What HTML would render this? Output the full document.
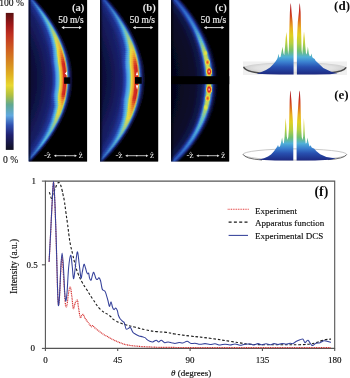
<!DOCTYPE html>
<html><head><meta charset="utf-8"><style>
html,body{margin:0;padding:0;background:#fff;width:350px;height:378px;overflow:hidden}
svg{display:block;font-family:"Liberation Serif",serif}
</style></head><body><svg width="350" height="378" viewBox="0 0 350 378"><defs><clipPath id="cpa"><rect x="28.6" y="0" width="58.50" height="161.5"/></clipPath><linearGradient id="ga0" gradientUnits="userSpaceOnUse" x1="-50.0" x2="10.0"><stop offset="0.1883" stop-color="#0a0c2c"/><stop offset="0.4033" stop-color="#0e1241"/><stop offset="0.6040" stop-color="#131959"/><stop offset="0.7172" stop-color="#192373"/><stop offset="0.7602" stop-color="#1e3695"/><stop offset="0.7817" stop-color="#2547a9"/><stop offset="0.7892" stop-color="#2951b1"/><stop offset="0.7952" stop-color="#2c56b5"/><stop offset="0.8009" stop-color="#2c56b5"/><stop offset="0.8054" stop-color="#2a52b1"/><stop offset="0.8098" stop-color="#274cad"/><stop offset="0.8143" stop-color="#2547a5"/><stop offset="0.8187" stop-color="#203e9d"/><stop offset="0.8290" stop-color="#192d84"/><stop offset="0.8548" stop-color="#0a0d36"/><stop offset="0.8907" stop-color="#000"/></linearGradient><linearGradient id="ga1" gradientUnits="userSpaceOnUse" x1="-50.0" x2="10.0"><stop offset="0.1883" stop-color="#0a0c2d"/><stop offset="0.4033" stop-color="#0e1242"/><stop offset="0.6040" stop-color="#141a5b"/><stop offset="0.7153" stop-color="#1a2577"/><stop offset="0.7583" stop-color="#203c9b"/><stop offset="0.7798" stop-color="#2851b0"/><stop offset="0.7877" stop-color="#2e5db8"/><stop offset="0.7941" stop-color="#3163bc"/><stop offset="0.7998" stop-color="#3163bc"/><stop offset="0.8044" stop-color="#2f5fb8"/><stop offset="0.8091" stop-color="#2b57b4"/><stop offset="0.8137" stop-color="#2851ac"/><stop offset="0.8183" stop-color="#2346a4"/><stop offset="0.8290" stop-color="#1b3189"/><stop offset="0.8548" stop-color="#0b0e38"/><stop offset="0.8907" stop-color="#000"/></linearGradient><linearGradient id="ga2" gradientUnits="userSpaceOnUse" x1="-50.0" x2="10.0"><stop offset="0.1883" stop-color="#0a0c2d"/><stop offset="0.4033" stop-color="#0f1344"/><stop offset="0.6040" stop-color="#141a5c"/><stop offset="0.7134" stop-color="#1a277c"/><stop offset="0.7564" stop-color="#2241a2"/><stop offset="0.7779" stop-color="#2c5ab7"/><stop offset="0.7861" stop-color="#326abf"/><stop offset="0.7929" stop-color="#3771c2"/><stop offset="0.7986" stop-color="#3771c2"/><stop offset="0.8035" stop-color="#336bbf"/><stop offset="0.8083" stop-color="#3063bb"/><stop offset="0.8131" stop-color="#2c5ab4"/><stop offset="0.8179" stop-color="#254eab"/><stop offset="0.8290" stop-color="#1c358f"/><stop offset="0.8548" stop-color="#0b0e3a"/><stop offset="0.8907" stop-color="#000"/></linearGradient><linearGradient id="ga3" gradientUnits="userSpaceOnUse" x1="-50.0" x2="10.0"><stop offset="0.1883" stop-color="#0a0c2e"/><stop offset="0.4033" stop-color="#0f1345"/><stop offset="0.6040" stop-color="#141b5e"/><stop offset="0.7115" stop-color="#1b2980"/><stop offset="0.7545" stop-color="#2447a8"/><stop offset="0.7760" stop-color="#2f64be"/><stop offset="0.7846" stop-color="#3776c6"/><stop offset="0.7918" stop-color="#3c7ec9"/><stop offset="0.7975" stop-color="#3c7ec9"/><stop offset="0.8025" stop-color="#3878c6"/><stop offset="0.8075" stop-color="#346ec2"/><stop offset="0.8125" stop-color="#2f64bb"/><stop offset="0.8176" stop-color="#2856b2"/><stop offset="0.8290" stop-color="#1e3994"/><stop offset="0.8548" stop-color="#0c0f3c"/><stop offset="0.8907" stop-color="#000"/></linearGradient><linearGradient id="ga4" gradientUnits="userSpaceOnUse" x1="-50.0" x2="10.0"><stop offset="0.1883" stop-color="#0a0c2f"/><stop offset="0.4033" stop-color="#0f1346"/><stop offset="0.6040" stop-color="#151c60"/><stop offset="0.7096" stop-color="#1c2b84"/><stop offset="0.7526" stop-color="#264dae"/><stop offset="0.7741" stop-color="#326ec5"/><stop offset="0.7831" stop-color="#3c82cd"/><stop offset="0.7906" stop-color="#418bd0"/><stop offset="0.7964" stop-color="#418bd0"/><stop offset="0.8016" stop-color="#3d85cd"/><stop offset="0.8068" stop-color="#3879c9"/><stop offset="0.8120" stop-color="#326ec2"/><stop offset="0.8172" stop-color="#2b5eb9"/><stop offset="0.8290" stop-color="#203d99"/><stop offset="0.8548" stop-color="#0d103e"/><stop offset="0.8907" stop-color="#000"/></linearGradient><linearGradient id="ga5" gradientUnits="userSpaceOnUse" x1="-50.0" x2="10.0"><stop offset="0.1883" stop-color="#0a0c2f"/><stop offset="0.4033" stop-color="#101448"/><stop offset="0.6040" stop-color="#161c61"/><stop offset="0.7077" stop-color="#1c2d89"/><stop offset="0.7507" stop-color="#2852b5"/><stop offset="0.7722" stop-color="#3677cc"/><stop offset="0.7815" stop-color="#408fd4"/><stop offset="0.7895" stop-color="#4799d6"/><stop offset="0.7952" stop-color="#4799d6"/><stop offset="0.8006" stop-color="#4191d4"/><stop offset="0.8060" stop-color="#3d85d0"/><stop offset="0.8114" stop-color="#3677ca"/><stop offset="0.8168" stop-color="#2d66c0"/><stop offset="0.8290" stop-color="#21419f"/><stop offset="0.8548" stop-color="#0d1040"/><stop offset="0.8907" stop-color="#000"/></linearGradient><linearGradient id="ga6" gradientUnits="userSpaceOnUse" x1="-50.0" x2="10.0"><stop offset="0.1883" stop-color="#0a0c30"/><stop offset="0.4033" stop-color="#101449"/><stop offset="0.6040" stop-color="#161d63"/><stop offset="0.7058" stop-color="#1d2f8d"/><stop offset="0.7488" stop-color="#2a58bb"/><stop offset="0.7703" stop-color="#3981d3"/><stop offset="0.7800" stop-color="#459bdb"/><stop offset="0.7883" stop-color="#4ca6dd"/><stop offset="0.7941" stop-color="#4ca6dd"/><stop offset="0.7996" stop-color="#469edb"/><stop offset="0.8052" stop-color="#4190d7"/><stop offset="0.8108" stop-color="#3981d1"/><stop offset="0.8164" stop-color="#306ec7"/><stop offset="0.8290" stop-color="#2345a4"/><stop offset="0.8548" stop-color="#0e1142"/><stop offset="0.8907" stop-color="#000"/></linearGradient><linearGradient id="ga7" gradientUnits="userSpaceOnUse" x1="-50.0" x2="10.0"><stop offset="0.1883" stop-color="#0a0c31"/><stop offset="0.4033" stop-color="#10144a"/><stop offset="0.6040" stop-color="#171e64"/><stop offset="0.7035" stop-color="#1e308f"/><stop offset="0.7455" stop-color="#2b5bbd"/><stop offset="0.7670" stop-color="#3b86d5"/><stop offset="0.7774" stop-color="#489fdc"/><stop offset="0.7866" stop-color="#51aad9"/><stop offset="0.7929" stop-color="#53abd5"/><stop offset="0.7989" stop-color="#4ea4d4"/><stop offset="0.8047" stop-color="#4897d3"/><stop offset="0.8104" stop-color="#3d88d0"/><stop offset="0.8162" stop-color="#3373c9"/><stop offset="0.8290" stop-color="#2448a7"/><stop offset="0.8548" stop-color="#0e1143"/><stop offset="0.8907" stop-color="#000"/></linearGradient><linearGradient id="ga8" gradientUnits="userSpaceOnUse" x1="-50.0" x2="10.0"><stop offset="0.1883" stop-color="#0b0d31"/><stop offset="0.4033" stop-color="#11154a"/><stop offset="0.6040" stop-color="#171e66"/><stop offset="0.7013" stop-color="#1e3291"/><stop offset="0.7422" stop-color="#2c5fc0"/><stop offset="0.7637" stop-color="#3d8bd7"/><stop offset="0.7748" stop-color="#4aa3dd"/><stop offset="0.7848" stop-color="#56afd5"/><stop offset="0.7918" stop-color="#5bb0ce"/><stop offset="0.7982" stop-color="#57aacc"/><stop offset="0.8043" stop-color="#4e9ece"/><stop offset="0.8099" stop-color="#428ed0"/><stop offset="0.8159" stop-color="#3679cb"/><stop offset="0.8290" stop-color="#264aaa"/><stop offset="0.8548" stop-color="#0f1244"/><stop offset="0.8907" stop-color="#000"/></linearGradient><linearGradient id="ga9" gradientUnits="userSpaceOnUse" x1="-50.0" x2="10.0"><stop offset="0.1883" stop-color="#0b0d32"/><stop offset="0.4033" stop-color="#11154b"/><stop offset="0.6040" stop-color="#181f67"/><stop offset="0.6990" stop-color="#1f3393"/><stop offset="0.7389" stop-color="#2d62c2"/><stop offset="0.7604" stop-color="#3f90d9"/><stop offset="0.7722" stop-color="#4da7de"/><stop offset="0.7830" stop-color="#5bb3d1"/><stop offset="0.7906" stop-color="#62b5c6"/><stop offset="0.7975" stop-color="#5fb0c5"/><stop offset="0.8038" stop-color="#55a5ca"/><stop offset="0.8094" stop-color="#4695cf"/><stop offset="0.8157" stop-color="#397ecd"/><stop offset="0.8290" stop-color="#274dad"/><stop offset="0.8548" stop-color="#0f1245"/><stop offset="0.8907" stop-color="#000"/></linearGradient><linearGradient id="ga10" gradientUnits="userSpaceOnUse" x1="-50.0" x2="10.0"><stop offset="0.1883" stop-color="#0b0d32"/><stop offset="0.4033" stop-color="#11154c"/><stop offset="0.6040" stop-color="#182068"/><stop offset="0.6968" stop-color="#203496"/><stop offset="0.7357" stop-color="#2d66c5"/><stop offset="0.7572" stop-color="#4295da"/><stop offset="0.7695" stop-color="#50acdf"/><stop offset="0.7813" stop-color="#61b7cc"/><stop offset="0.7895" stop-color="#6ab9bf"/><stop offset="0.7968" stop-color="#67b6be"/><stop offset="0.8033" stop-color="#5cabc5"/><stop offset="0.8089" stop-color="#4b9cce"/><stop offset="0.8154" stop-color="#3b84ce"/><stop offset="0.8290" stop-color="#2850af"/><stop offset="0.8548" stop-color="#0f1345"/><stop offset="0.8907" stop-color="#000"/></linearGradient><linearGradient id="ga11" gradientUnits="userSpaceOnUse" x1="-50.0" x2="10.0"><stop offset="0.1883" stop-color="#0b0d33"/><stop offset="0.4033" stop-color="#11154d"/><stop offset="0.6040" stop-color="#192169"/><stop offset="0.6945" stop-color="#213598"/><stop offset="0.7324" stop-color="#2e69c7"/><stop offset="0.7539" stop-color="#449adc"/><stop offset="0.7669" stop-color="#53b0e0"/><stop offset="0.7795" stop-color="#66bbc8"/><stop offset="0.7883" stop-color="#71beb7"/><stop offset="0.7961" stop-color="#6fbcb7"/><stop offset="0.8028" stop-color="#63b2c1"/><stop offset="0.8085" stop-color="#4fa3cd"/><stop offset="0.8152" stop-color="#3e89d0"/><stop offset="0.8290" stop-color="#2953b2"/><stop offset="0.8548" stop-color="#0f1346"/><stop offset="0.8907" stop-color="#000"/></linearGradient><linearGradient id="ga12" gradientUnits="userSpaceOnUse" x1="-50.0" x2="10.0"><stop offset="0.1883" stop-color="#0c0e33"/><stop offset="0.4033" stop-color="#12164d"/><stop offset="0.6040" stop-color="#19216b"/><stop offset="0.6923" stop-color="#21379a"/><stop offset="0.7291" stop-color="#2f6dca"/><stop offset="0.7506" stop-color="#469fde"/><stop offset="0.7643" stop-color="#55b4e1"/><stop offset="0.7778" stop-color="#6bc0c4"/><stop offset="0.7872" stop-color="#79c3b0"/><stop offset="0.7954" stop-color="#78c2af"/><stop offset="0.8023" stop-color="#69b9bc"/><stop offset="0.8080" stop-color="#54a9cd"/><stop offset="0.8149" stop-color="#418fd2"/><stop offset="0.8290" stop-color="#2b55b5"/><stop offset="0.8548" stop-color="#101447"/><stop offset="0.8907" stop-color="#000"/></linearGradient><linearGradient id="ga13" gradientUnits="userSpaceOnUse" x1="-50.0" x2="10.0"><stop offset="0.1883" stop-color="#0c0e34"/><stop offset="0.4033" stop-color="#12164e"/><stop offset="0.6040" stop-color="#1a226c"/><stop offset="0.6900" stop-color="#22389c"/><stop offset="0.7258" stop-color="#3070cc"/><stop offset="0.7473" stop-color="#48a4e0"/><stop offset="0.7617" stop-color="#58b8e2"/><stop offset="0.7760" stop-color="#70c4c0"/><stop offset="0.7860" stop-color="#80c8a8"/><stop offset="0.7946" stop-color="#80c8a8"/><stop offset="0.8018" stop-color="#70c0b8"/><stop offset="0.8075" stop-color="#58b0cc"/><stop offset="0.8147" stop-color="#4494d4"/><stop offset="0.8290" stop-color="#2c58b8"/><stop offset="0.8548" stop-color="#101448"/><stop offset="0.8907" stop-color="#000"/></linearGradient><linearGradient id="ga14" gradientUnits="userSpaceOnUse" x1="-50.0" x2="10.0"><stop offset="0.1883" stop-color="#0c0e34"/><stop offset="0.4033" stop-color="#12164e"/><stop offset="0.6002" stop-color="#1a226d"/><stop offset="0.6862" stop-color="#22399e"/><stop offset="0.7211" stop-color="#3173ce"/><stop offset="0.7429" stop-color="#4aa7e1"/><stop offset="0.7578" stop-color="#5ebbd9"/><stop offset="0.7722" stop-color="#7ec7b0"/><stop offset="0.7837" stop-color="#8ecb9a"/><stop offset="0.7931" stop-color="#8ec99a"/><stop offset="0.8007" stop-color="#7fc2a8"/><stop offset="0.8068" stop-color="#67b4ba"/><stop offset="0.8143" stop-color="#4c9acb"/><stop offset="0.8290" stop-color="#2d59b9"/><stop offset="0.8550" stop-color="#101449"/><stop offset="0.8910" stop-color="#000"/></linearGradient><linearGradient id="ga15" gradientUnits="userSpaceOnUse" x1="-50.0" x2="10.0"><stop offset="0.1883" stop-color="#0b0d33"/><stop offset="0.4033" stop-color="#12164f"/><stop offset="0.5964" stop-color="#1a226e"/><stop offset="0.6824" stop-color="#233a9f"/><stop offset="0.7163" stop-color="#3375cf"/><stop offset="0.7385" stop-color="#4ca9e2"/><stop offset="0.7540" stop-color="#65bdd0"/><stop offset="0.7684" stop-color="#8ccaa0"/><stop offset="0.7814" stop-color="#9ccd8c"/><stop offset="0.7916" stop-color="#9cca8c"/><stop offset="0.7995" stop-color="#8ec498"/><stop offset="0.8060" stop-color="#76b9a9"/><stop offset="0.8139" stop-color="#54a0c2"/><stop offset="0.8290" stop-color="#2d5aba"/><stop offset="0.8552" stop-color="#11154a"/><stop offset="0.8914" stop-color="#000"/></linearGradient><linearGradient id="ga16" gradientUnits="userSpaceOnUse" x1="-50.0" x2="10.0"><stop offset="0.1883" stop-color="#0b0d32"/><stop offset="0.4033" stop-color="#12164f"/><stop offset="0.5925" stop-color="#1a226e"/><stop offset="0.6785" stop-color="#233ba1"/><stop offset="0.7115" stop-color="#3478d1"/><stop offset="0.7341" stop-color="#4eace2"/><stop offset="0.7502" stop-color="#6bc0c8"/><stop offset="0.7645" stop-color="#9ace90"/><stop offset="0.7792" stop-color="#aad07e"/><stop offset="0.7900" stop-color="#aacb7e"/><stop offset="0.7984" stop-color="#9dc688"/><stop offset="0.8052" stop-color="#85bd97"/><stop offset="0.8136" stop-color="#5ca6b9"/><stop offset="0.8290" stop-color="#2e5bbb"/><stop offset="0.8554" stop-color="#11154b"/><stop offset="0.8918" stop-color="#000"/></linearGradient><linearGradient id="ga17" gradientUnits="userSpaceOnUse" x1="-50.0" x2="10.0"><stop offset="0.1883" stop-color="#0b0d32"/><stop offset="0.4033" stop-color="#12164f"/><stop offset="0.5887" stop-color="#1a226f"/><stop offset="0.6747" stop-color="#233ca3"/><stop offset="0.7067" stop-color="#357bd3"/><stop offset="0.7298" stop-color="#51afe3"/><stop offset="0.7464" stop-color="#71c3bf"/><stop offset="0.7607" stop-color="#a7d180"/><stop offset="0.7769" stop-color="#b7d371"/><stop offset="0.7885" stop-color="#b7cc71"/><stop offset="0.7972" stop-color="#acc978"/><stop offset="0.8045" stop-color="#94c185"/><stop offset="0.8132" stop-color="#64abb0"/><stop offset="0.8290" stop-color="#2e5cbc"/><stop offset="0.8556" stop-color="#11154c"/><stop offset="0.8922" stop-color="#000"/></linearGradient><linearGradient id="ga18" gradientUnits="userSpaceOnUse" x1="-50.0" x2="10.0"><stop offset="0.1883" stop-color="#0a0c32"/><stop offset="0.4033" stop-color="#121650"/><stop offset="0.5849" stop-color="#1a2270"/><stop offset="0.6709" stop-color="#243da4"/><stop offset="0.7019" stop-color="#377dd4"/><stop offset="0.7254" stop-color="#53b1e4"/><stop offset="0.7426" stop-color="#78c5b6"/><stop offset="0.7569" stop-color="#b5d470"/><stop offset="0.7746" stop-color="#c5d563"/><stop offset="0.7870" stop-color="#c5cd63"/><stop offset="0.7961" stop-color="#bbcb68"/><stop offset="0.8037" stop-color="#a3c674"/><stop offset="0.8128" stop-color="#6cb1a7"/><stop offset="0.8290" stop-color="#2e5dbd"/><stop offset="0.8558" stop-color="#12164d"/><stop offset="0.8926" stop-color="#000"/></linearGradient><linearGradient id="ga19" gradientUnits="userSpaceOnUse" x1="-50.0" x2="10.0"><stop offset="0.1883" stop-color="#0a0c31"/><stop offset="0.4033" stop-color="#121650"/><stop offset="0.5811" stop-color="#1a2271"/><stop offset="0.6671" stop-color="#243ea6"/><stop offset="0.6972" stop-color="#3880d6"/><stop offset="0.7210" stop-color="#55b4e5"/><stop offset="0.7387" stop-color="#7ec8ad"/><stop offset="0.7531" stop-color="#c3d760"/><stop offset="0.7723" stop-color="#d3d855"/><stop offset="0.7855" stop-color="#d3ce55"/><stop offset="0.7949" stop-color="#cacd58"/><stop offset="0.8029" stop-color="#b2ca62"/><stop offset="0.8124" stop-color="#74b79e"/><stop offset="0.8290" stop-color="#2f5ebe"/><stop offset="0.8560" stop-color="#12164e"/><stop offset="0.8930" stop-color="#000"/></linearGradient><linearGradient id="ga20" gradientUnits="userSpaceOnUse" x1="-50.0" x2="10.0"><stop offset="0.1883" stop-color="#0a0c31"/><stop offset="0.4033" stop-color="#121650"/><stop offset="0.5785" stop-color="#1a2271"/><stop offset="0.6616" stop-color="#243fa7"/><stop offset="0.6914" stop-color="#3982d7"/><stop offset="0.7158" stop-color="#56b5e5"/><stop offset="0.7336" stop-color="#80c9aa"/><stop offset="0.7479" stop-color="#c9d85a"/><stop offset="0.7687" stop-color="#d8d54f"/><stop offset="0.7829" stop-color="#d8c84f"/><stop offset="0.7936" stop-color="#cfc651"/><stop offset="0.8026" stop-color="#baca5c"/><stop offset="0.8126" stop-color="#76b99d"/><stop offset="0.8290" stop-color="#2f5ebe"/><stop offset="0.8563" stop-color="#12164f"/><stop offset="0.8935" stop-color="#000"/></linearGradient><linearGradient id="ga21" gradientUnits="userSpaceOnUse" x1="-50.0" x2="10.0"><stop offset="0.1883" stop-color="#0a0c31"/><stop offset="0.4033" stop-color="#121650"/><stop offset="0.5759" stop-color="#1a2271"/><stop offset="0.6562" stop-color="#2440a8"/><stop offset="0.6857" stop-color="#3b84d8"/><stop offset="0.7106" stop-color="#56b6e5"/><stop offset="0.7284" stop-color="#82caa8"/><stop offset="0.7427" stop-color="#cfda55"/><stop offset="0.7652" stop-color="#ddd249"/><stop offset="0.7802" stop-color="#ddc249"/><stop offset="0.7922" stop-color="#d4c04a"/><stop offset="0.8022" stop-color="#c1c956"/><stop offset="0.8128" stop-color="#79bb9c"/><stop offset="0.8290" stop-color="#2f5fbf"/><stop offset="0.8567" stop-color="#121650"/><stop offset="0.8940" stop-color="#000"/></linearGradient><linearGradient id="ga22" gradientUnits="userSpaceOnUse" x1="-50.0" x2="10.0"><stop offset="0.1883" stop-color="#0a0c30"/><stop offset="0.4033" stop-color="#121650"/><stop offset="0.5733" stop-color="#1a2272"/><stop offset="0.6507" stop-color="#2540aa"/><stop offset="0.6800" stop-color="#3c86d8"/><stop offset="0.7054" stop-color="#57b6e6"/><stop offset="0.7233" stop-color="#84caa5"/><stop offset="0.7376" stop-color="#d4db4f"/><stop offset="0.7616" stop-color="#e2d044"/><stop offset="0.7776" stop-color="#e2bc44"/><stop offset="0.7909" stop-color="#dab942"/><stop offset="0.8018" stop-color="#c9c950"/><stop offset="0.8129" stop-color="#7bbc9a"/><stop offset="0.8290" stop-color="#305fbf"/><stop offset="0.8570" stop-color="#131750"/><stop offset="0.8946" stop-color="#000"/></linearGradient><linearGradient id="ga23" gradientUnits="userSpaceOnUse" x1="-50.0" x2="10.0"><stop offset="0.1883" stop-color="#0a0c30"/><stop offset="0.4033" stop-color="#121650"/><stop offset="0.5707" stop-color="#1a2272"/><stop offset="0.6453" stop-color="#2541ab"/><stop offset="0.6742" stop-color="#3e88d9"/><stop offset="0.7002" stop-color="#57b7e6"/><stop offset="0.7181" stop-color="#86cba3"/><stop offset="0.7324" stop-color="#dadd4a"/><stop offset="0.7581" stop-color="#e7cd3e"/><stop offset="0.7750" stop-color="#e7b63e"/><stop offset="0.7895" stop-color="#dfb33b"/><stop offset="0.8015" stop-color="#d0c84a"/><stop offset="0.8131" stop-color="#7ebe99"/><stop offset="0.8290" stop-color="#3060c0"/><stop offset="0.8574" stop-color="#131751"/><stop offset="0.8951" stop-color="#000"/></linearGradient><linearGradient id="ga24" gradientUnits="userSpaceOnUse" x1="-50.0" x2="10.0"><stop offset="0.1883" stop-color="#0a0c30"/><stop offset="0.4033" stop-color="#121650"/><stop offset="0.5682" stop-color="#1a2272"/><stop offset="0.6398" stop-color="#2542ac"/><stop offset="0.6685" stop-color="#3f8ada"/><stop offset="0.6950" stop-color="#58b8e6"/><stop offset="0.7129" stop-color="#88cca0"/><stop offset="0.7273" stop-color="#e0de44"/><stop offset="0.7545" stop-color="#ecca38"/><stop offset="0.7724" stop-color="#ecb038"/><stop offset="0.7882" stop-color="#e4ac34"/><stop offset="0.8011" stop-color="#d8c844"/><stop offset="0.8133" stop-color="#80c098"/><stop offset="0.8290" stop-color="#3060c0"/><stop offset="0.8577" stop-color="#131752"/><stop offset="0.8957" stop-color="#000"/></linearGradient><linearGradient id="ga25" gradientUnits="userSpaceOnUse" x1="-50.0" x2="10.0"><stop offset="0.1883" stop-color="#0a0c30"/><stop offset="0.4033" stop-color="#121650"/><stop offset="0.5653" stop-color="#1a2272"/><stop offset="0.6328" stop-color="#2643ae"/><stop offset="0.6615" stop-color="#408cdb"/><stop offset="0.6886" stop-color="#58b8e6"/><stop offset="0.7064" stop-color="#88cca1"/><stop offset="0.7210" stop-color="#e2de43"/><stop offset="0.7498" stop-color="#edc336"/><stop offset="0.7687" stop-color="#eba135"/><stop offset="0.7869" stop-color="#e29c30"/><stop offset="0.8009" stop-color="#dcc342"/><stop offset="0.8137" stop-color="#7ebe9c"/><stop offset="0.8294" stop-color="#305ebe"/><stop offset="0.8583" stop-color="#131752"/><stop offset="0.8968" stop-color="#000"/></linearGradient><linearGradient id="ga26" gradientUnits="userSpaceOnUse" x1="-50.0" x2="10.0"><stop offset="0.1883" stop-color="#0a0c30"/><stop offset="0.4033" stop-color="#121650"/><stop offset="0.5624" stop-color="#1a2272"/><stop offset="0.6259" stop-color="#2644af"/><stop offset="0.6545" stop-color="#428edc"/><stop offset="0.6821" stop-color="#58b8e6"/><stop offset="0.6999" stop-color="#87cca2"/><stop offset="0.7147" stop-color="#e4df42"/><stop offset="0.7452" stop-color="#eebc34"/><stop offset="0.7649" stop-color="#ea9232"/><stop offset="0.7857" stop-color="#e18b2d"/><stop offset="0.8007" stop-color="#e0be41"/><stop offset="0.8142" stop-color="#7bbca0"/><stop offset="0.8297" stop-color="#2f5cbc"/><stop offset="0.8588" stop-color="#141852"/><stop offset="0.8978" stop-color="#000"/></linearGradient><linearGradient id="ga27" gradientUnits="userSpaceOnUse" x1="-50.0" x2="10.0"><stop offset="0.1883" stop-color="#0a0c30"/><stop offset="0.4033" stop-color="#121650"/><stop offset="0.5596" stop-color="#1a2272"/><stop offset="0.6189" stop-color="#2644b0"/><stop offset="0.6475" stop-color="#4490dc"/><stop offset="0.6757" stop-color="#58b8e7"/><stop offset="0.6934" stop-color="#86cba4"/><stop offset="0.7083" stop-color="#e6e041"/><stop offset="0.7405" stop-color="#efb632"/><stop offset="0.7611" stop-color="#ea822e"/><stop offset="0.7844" stop-color="#e07a2a"/><stop offset="0.8005" stop-color="#e4b940"/><stop offset="0.8147" stop-color="#78bba3"/><stop offset="0.8300" stop-color="#2e5bbb"/><stop offset="0.8594" stop-color="#141853"/><stop offset="0.8989" stop-color="#000"/></linearGradient><linearGradient id="ga28" gradientUnits="userSpaceOnUse" x1="-50.0" x2="10.0"><stop offset="0.1883" stop-color="#0a0c30"/><stop offset="0.4033" stop-color="#121650"/><stop offset="0.5567" stop-color="#1a2272"/><stop offset="0.6119" stop-color="#2745b2"/><stop offset="0.6405" stop-color="#4592dd"/><stop offset="0.6692" stop-color="#58b8e7"/><stop offset="0.6868" stop-color="#86cba5"/><stop offset="0.7020" stop-color="#e8e040"/><stop offset="0.7359" stop-color="#f0af30"/><stop offset="0.7574" stop-color="#e9732b"/><stop offset="0.7832" stop-color="#de6a26"/><stop offset="0.8004" stop-color="#e8b43e"/><stop offset="0.8151" stop-color="#76b9a7"/><stop offset="0.8303" stop-color="#2e59b9"/><stop offset="0.8600" stop-color="#141853"/><stop offset="0.9000" stop-color="#000"/></linearGradient><linearGradient id="ga29" gradientUnits="userSpaceOnUse" x1="-50.0" x2="10.0"><stop offset="0.1883" stop-color="#0a0c30"/><stop offset="0.4033" stop-color="#121650"/><stop offset="0.5538" stop-color="#1a2272"/><stop offset="0.6076" stop-color="#2746b4"/><stop offset="0.6362" stop-color="#4694de"/><stop offset="0.6649" stop-color="#58b8e7"/><stop offset="0.6828" stop-color="#84caa8"/><stop offset="0.6986" stop-color="#e8e040"/><stop offset="0.7330" stop-color="#f0a930"/><stop offset="0.7545" stop-color="#e46028"/><stop offset="0.7832" stop-color="#d85624"/><stop offset="0.8004" stop-color="#e8ac3c"/><stop offset="0.8154" stop-color="#70b4ac"/><stop offset="0.8312" stop-color="#2c54b4"/><stop offset="0.8606" stop-color="#141852"/><stop offset="0.9014" stop-color="#000"/></linearGradient><linearGradient id="ga30" gradientUnits="userSpaceOnUse" x1="-50.0" x2="10.0"><stop offset="0.1883" stop-color="#0a0c30"/><stop offset="0.4033" stop-color="#121650"/><stop offset="0.5510" stop-color="#1a2272"/><stop offset="0.6033" stop-color="#2847b5"/><stop offset="0.6320" stop-color="#4795df"/><stop offset="0.6606" stop-color="#58b8e8"/><stop offset="0.6788" stop-color="#83c9ab"/><stop offset="0.6952" stop-color="#e8e040"/><stop offset="0.7301" stop-color="#f0a330"/><stop offset="0.7516" stop-color="#df4d25"/><stop offset="0.7832" stop-color="#d14223"/><stop offset="0.8004" stop-color="#e8a43b"/><stop offset="0.8157" stop-color="#69afb1"/><stop offset="0.8320" stop-color="#2b4faf"/><stop offset="0.8611" stop-color="#141851"/><stop offset="0.9029" stop-color="#000"/></linearGradient><linearGradient id="ga31" gradientUnits="userSpaceOnUse" x1="-50.0" x2="10.0"><stop offset="0.1883" stop-color="#0a0c30"/><stop offset="0.4033" stop-color="#121650"/><stop offset="0.5481" stop-color="#1a2272"/><stop offset="0.5990" stop-color="#2848b7"/><stop offset="0.6276" stop-color="#4897e0"/><stop offset="0.6563" stop-color="#58b8e8"/><stop offset="0.6748" stop-color="#81c8ae"/><stop offset="0.6917" stop-color="#e8e040"/><stop offset="0.7273" stop-color="#f09d30"/><stop offset="0.7488" stop-color="#da3a22"/><stop offset="0.7832" stop-color="#cb2e21"/><stop offset="0.8004" stop-color="#e89c39"/><stop offset="0.8160" stop-color="#63aab6"/><stop offset="0.8329" stop-color="#294aaa"/><stop offset="0.8617" stop-color="#141850"/><stop offset="0.9043" stop-color="#000"/></linearGradient><linearGradient id="ga32" gradientUnits="userSpaceOnUse" x1="-50.0" x2="10.0"><stop offset="0.1883" stop-color="#0a0c30"/><stop offset="0.4033" stop-color="#121650"/><stop offset="0.5467" stop-color="#1a2272"/><stop offset="0.5968" stop-color="#2848b8"/><stop offset="0.6255" stop-color="#4898e0"/><stop offset="0.6542" stop-color="#58b8e8"/><stop offset="0.6728" stop-color="#80c8b0"/><stop offset="0.6900" stop-color="#e8e040"/><stop offset="0.7258" stop-color="#f09a30"/><stop offset="0.7473" stop-color="#d83020"/><stop offset="0.7832" stop-color="#c82420"/><stop offset="0.8004" stop-color="#e89838"/><stop offset="0.8161" stop-color="#60a8b8"/><stop offset="0.8333" stop-color="#2848a8"/><stop offset="0.8620" stop-color="#141850"/><stop offset="0.9050" stop-color="#000"/></linearGradient><linearGradient id="ga33" gradientUnits="userSpaceOnUse" x1="-50.0" x2="10.0"><stop offset="0.1883" stop-color="#0a0c30"/><stop offset="0.4033" stop-color="#121650"/><stop offset="0.5467" stop-color="#1a2272"/><stop offset="0.5968" stop-color="#2848b8"/><stop offset="0.6255" stop-color="#4898e0"/><stop offset="0.6542" stop-color="#58b8e8"/><stop offset="0.6728" stop-color="#80c8b0"/><stop offset="0.6900" stop-color="#e8e040"/><stop offset="0.7258" stop-color="#f09a30"/><stop offset="0.7473" stop-color="#d83020"/><stop offset="0.7832" stop-color="#c82420"/><stop offset="0.8004" stop-color="#e89838"/><stop offset="0.8161" stop-color="#60a8b8"/><stop offset="0.8333" stop-color="#2848a8"/><stop offset="0.8620" stop-color="#141850"/><stop offset="0.9050" stop-color="#000"/></linearGradient><linearGradient id="ga34" gradientUnits="userSpaceOnUse" x1="-50.0" x2="10.0"><stop offset="0.1883" stop-color="#0a0c30"/><stop offset="0.4033" stop-color="#121650"/><stop offset="0.5467" stop-color="#1a2272"/><stop offset="0.5968" stop-color="#2848b8"/><stop offset="0.6255" stop-color="#4898e0"/><stop offset="0.6542" stop-color="#58b8e8"/><stop offset="0.6728" stop-color="#80c8b0"/><stop offset="0.6900" stop-color="#e8e040"/><stop offset="0.7258" stop-color="#f09a30"/><stop offset="0.7473" stop-color="#d83020"/><stop offset="0.7832" stop-color="#c82420"/><stop offset="0.8004" stop-color="#e89838"/><stop offset="0.8161" stop-color="#60a8b8"/><stop offset="0.8333" stop-color="#2848a8"/><stop offset="0.8620" stop-color="#141850"/><stop offset="0.9050" stop-color="#000"/></linearGradient><linearGradient id="ga35" gradientUnits="userSpaceOnUse" x1="-50.0" x2="10.0"><stop offset="0.1883" stop-color="#0a0c30"/><stop offset="0.4033" stop-color="#121650"/><stop offset="0.5467" stop-color="#1a2272"/><stop offset="0.5968" stop-color="#2848b8"/><stop offset="0.6255" stop-color="#4898e0"/><stop offset="0.6542" stop-color="#58b8e8"/><stop offset="0.6728" stop-color="#80c8b0"/><stop offset="0.6900" stop-color="#e8e040"/><stop offset="0.7258" stop-color="#f09a30"/><stop offset="0.7473" stop-color="#d83020"/><stop offset="0.7832" stop-color="#c82420"/><stop offset="0.8004" stop-color="#e89838"/><stop offset="0.8161" stop-color="#60a8b8"/><stop offset="0.8333" stop-color="#2848a8"/><stop offset="0.8620" stop-color="#141850"/><stop offset="0.9050" stop-color="#000"/></linearGradient><linearGradient id="ga36" gradientUnits="userSpaceOnUse" x1="-50.0" x2="10.0"><stop offset="0.1883" stop-color="#0a0c30"/><stop offset="0.4033" stop-color="#121650"/><stop offset="0.5467" stop-color="#1a2272"/><stop offset="0.5968" stop-color="#2848b8"/><stop offset="0.6255" stop-color="#4898e0"/><stop offset="0.6542" stop-color="#58b8e8"/><stop offset="0.6728" stop-color="#80c8b0"/><stop offset="0.6900" stop-color="#e8e040"/><stop offset="0.7258" stop-color="#f09a30"/><stop offset="0.7473" stop-color="#d83020"/><stop offset="0.7832" stop-color="#c82420"/><stop offset="0.8004" stop-color="#e89838"/><stop offset="0.8161" stop-color="#60a8b8"/><stop offset="0.8333" stop-color="#2848a8"/><stop offset="0.8620" stop-color="#141850"/><stop offset="0.9050" stop-color="#000"/></linearGradient><linearGradient id="ga37" gradientUnits="userSpaceOnUse" x1="-50.0" x2="10.0"><stop offset="0.1883" stop-color="#0a0c30"/><stop offset="0.4033" stop-color="#121650"/><stop offset="0.5467" stop-color="#1a2272"/><stop offset="0.5968" stop-color="#2848b8"/><stop offset="0.6255" stop-color="#4898e0"/><stop offset="0.6542" stop-color="#58b8e8"/><stop offset="0.6728" stop-color="#80c8b0"/><stop offset="0.6900" stop-color="#e8e040"/><stop offset="0.7258" stop-color="#f09a30"/><stop offset="0.7473" stop-color="#d83020"/><stop offset="0.7832" stop-color="#c82420"/><stop offset="0.8004" stop-color="#e89838"/><stop offset="0.8161" stop-color="#60a8b8"/><stop offset="0.8333" stop-color="#2848a8"/><stop offset="0.8620" stop-color="#141850"/><stop offset="0.9050" stop-color="#000"/></linearGradient><linearGradient id="ga38" gradientUnits="userSpaceOnUse" x1="-50.0" x2="10.0"><stop offset="0.1883" stop-color="#0a0c30"/><stop offset="0.4033" stop-color="#121650"/><stop offset="0.5467" stop-color="#1a2272"/><stop offset="0.5968" stop-color="#2848b8"/><stop offset="0.6255" stop-color="#4898e0"/><stop offset="0.6542" stop-color="#58b8e8"/><stop offset="0.6728" stop-color="#80c8b0"/><stop offset="0.6900" stop-color="#e8e040"/><stop offset="0.7258" stop-color="#f09a30"/><stop offset="0.7473" stop-color="#d83020"/><stop offset="0.7832" stop-color="#c82420"/><stop offset="0.8004" stop-color="#e89838"/><stop offset="0.8161" stop-color="#60a8b8"/><stop offset="0.8333" stop-color="#2848a8"/><stop offset="0.8620" stop-color="#141850"/><stop offset="0.9050" stop-color="#000"/></linearGradient><linearGradient id="ga39" gradientUnits="userSpaceOnUse" x1="-50.0" x2="10.0"><stop offset="0.1883" stop-color="#0a0c30"/><stop offset="0.4033" stop-color="#121650"/><stop offset="0.5467" stop-color="#1a2272"/><stop offset="0.5968" stop-color="#2848b8"/><stop offset="0.6255" stop-color="#4898e0"/><stop offset="0.6542" stop-color="#58b8e8"/><stop offset="0.6728" stop-color="#80c8b0"/><stop offset="0.6900" stop-color="#e8e040"/><stop offset="0.7258" stop-color="#f09a30"/><stop offset="0.7473" stop-color="#d83020"/><stop offset="0.7832" stop-color="#c82420"/><stop offset="0.8004" stop-color="#e89838"/><stop offset="0.8161" stop-color="#60a8b8"/><stop offset="0.8333" stop-color="#2848a8"/><stop offset="0.8620" stop-color="#141850"/><stop offset="0.9050" stop-color="#000"/></linearGradient><linearGradient id="ga40" gradientUnits="userSpaceOnUse" x1="-50.0" x2="10.0"><stop offset="0.1883" stop-color="#0a0c30"/><stop offset="0.4033" stop-color="#121650"/><stop offset="0.5467" stop-color="#1a2272"/><stop offset="0.5968" stop-color="#2848b8"/><stop offset="0.6255" stop-color="#4898e0"/><stop offset="0.6542" stop-color="#58b8e8"/><stop offset="0.6728" stop-color="#80c8b0"/><stop offset="0.6900" stop-color="#e8e040"/><stop offset="0.7258" stop-color="#f09a30"/><stop offset="0.7473" stop-color="#d83020"/><stop offset="0.7832" stop-color="#c82420"/><stop offset="0.8004" stop-color="#e89838"/><stop offset="0.8161" stop-color="#60a8b8"/><stop offset="0.8333" stop-color="#2848a8"/><stop offset="0.8620" stop-color="#141850"/><stop offset="0.9050" stop-color="#000"/></linearGradient><linearGradient id="ga41" gradientUnits="userSpaceOnUse" x1="-50.0" x2="10.0"><stop offset="0.1883" stop-color="#0a0c30"/><stop offset="0.4033" stop-color="#121650"/><stop offset="0.5467" stop-color="#1a2272"/><stop offset="0.5968" stop-color="#2848b8"/><stop offset="0.6255" stop-color="#4898e0"/><stop offset="0.6542" stop-color="#58b8e8"/><stop offset="0.6728" stop-color="#80c8b0"/><stop offset="0.6900" stop-color="#e8e040"/><stop offset="0.7258" stop-color="#f09a30"/><stop offset="0.7473" stop-color="#d83020"/><stop offset="0.7832" stop-color="#c82420"/><stop offset="0.8004" stop-color="#e89838"/><stop offset="0.8161" stop-color="#60a8b8"/><stop offset="0.8333" stop-color="#2848a8"/><stop offset="0.8620" stop-color="#141850"/><stop offset="0.9050" stop-color="#000"/></linearGradient><linearGradient id="ga42" gradientUnits="userSpaceOnUse" x1="-50.0" x2="10.0"><stop offset="0.1883" stop-color="#0a0c30"/><stop offset="0.4033" stop-color="#121650"/><stop offset="0.5467" stop-color="#1a2272"/><stop offset="0.5968" stop-color="#2848b8"/><stop offset="0.6255" stop-color="#4898e0"/><stop offset="0.6542" stop-color="#58b8e8"/><stop offset="0.6728" stop-color="#80c8b0"/><stop offset="0.6900" stop-color="#e8e040"/><stop offset="0.7258" stop-color="#f09a30"/><stop offset="0.7473" stop-color="#d83020"/><stop offset="0.7832" stop-color="#c82420"/><stop offset="0.8004" stop-color="#e89838"/><stop offset="0.8161" stop-color="#60a8b8"/><stop offset="0.8333" stop-color="#2848a8"/><stop offset="0.8620" stop-color="#141850"/><stop offset="0.9050" stop-color="#000"/></linearGradient><linearGradient id="ga43" gradientUnits="userSpaceOnUse" x1="-50.0" x2="10.0"><stop offset="0.1883" stop-color="#0a0c30"/><stop offset="0.4033" stop-color="#121650"/><stop offset="0.5467" stop-color="#1a2272"/><stop offset="0.5968" stop-color="#2848b8"/><stop offset="0.6255" stop-color="#4898e0"/><stop offset="0.6542" stop-color="#58b8e8"/><stop offset="0.6728" stop-color="#80c8b0"/><stop offset="0.6900" stop-color="#e8e040"/><stop offset="0.7258" stop-color="#f09a30"/><stop offset="0.7473" stop-color="#d83020"/><stop offset="0.7832" stop-color="#c82420"/><stop offset="0.8004" stop-color="#e89838"/><stop offset="0.8161" stop-color="#60a8b8"/><stop offset="0.8333" stop-color="#2848a8"/><stop offset="0.8620" stop-color="#141850"/><stop offset="0.9050" stop-color="#000"/></linearGradient><linearGradient id="ga44" gradientUnits="userSpaceOnUse" x1="-50.0" x2="10.0"><stop offset="0.1883" stop-color="#0a0c30"/><stop offset="0.4033" stop-color="#121650"/><stop offset="0.5467" stop-color="#1a2272"/><stop offset="0.5968" stop-color="#2848b8"/><stop offset="0.6255" stop-color="#4898e0"/><stop offset="0.6542" stop-color="#58b8e8"/><stop offset="0.6728" stop-color="#80c8b0"/><stop offset="0.6900" stop-color="#e8e040"/><stop offset="0.7258" stop-color="#f09a30"/><stop offset="0.7473" stop-color="#d83020"/><stop offset="0.7832" stop-color="#c82420"/><stop offset="0.8004" stop-color="#e89838"/><stop offset="0.8161" stop-color="#60a8b8"/><stop offset="0.8333" stop-color="#2848a8"/><stop offset="0.8620" stop-color="#141850"/><stop offset="0.9050" stop-color="#000"/></linearGradient><linearGradient id="ga45" gradientUnits="userSpaceOnUse" x1="-50.0" x2="10.0"><stop offset="0.1883" stop-color="#0a0c30"/><stop offset="0.4033" stop-color="#121650"/><stop offset="0.5467" stop-color="#1a2272"/><stop offset="0.5968" stop-color="#2848b8"/><stop offset="0.6255" stop-color="#4898e0"/><stop offset="0.6542" stop-color="#58b8e8"/><stop offset="0.6728" stop-color="#80c8b0"/><stop offset="0.6900" stop-color="#e8e040"/><stop offset="0.7258" stop-color="#f09a30"/><stop offset="0.7473" stop-color="#d83020"/><stop offset="0.7832" stop-color="#c82420"/><stop offset="0.8004" stop-color="#e89838"/><stop offset="0.8161" stop-color="#60a8b8"/><stop offset="0.8333" stop-color="#2848a8"/><stop offset="0.8620" stop-color="#141850"/><stop offset="0.9050" stop-color="#000"/></linearGradient><linearGradient id="ga46" gradientUnits="userSpaceOnUse" x1="-50.0" x2="10.0"><stop offset="0.1883" stop-color="#0a0c30"/><stop offset="0.4033" stop-color="#121650"/><stop offset="0.5467" stop-color="#1a2272"/><stop offset="0.5968" stop-color="#2848b8"/><stop offset="0.6255" stop-color="#4898e0"/><stop offset="0.6542" stop-color="#58b8e8"/><stop offset="0.6728" stop-color="#80c8b0"/><stop offset="0.6900" stop-color="#e8e040"/><stop offset="0.7258" stop-color="#f09a30"/><stop offset="0.7473" stop-color="#d83020"/><stop offset="0.7832" stop-color="#c82420"/><stop offset="0.8004" stop-color="#e89838"/><stop offset="0.8161" stop-color="#60a8b8"/><stop offset="0.8333" stop-color="#2848a8"/><stop offset="0.8620" stop-color="#141850"/><stop offset="0.9050" stop-color="#000"/></linearGradient><linearGradient id="ga47" gradientUnits="userSpaceOnUse" x1="-50.0" x2="10.0"><stop offset="0.1883" stop-color="#0a0c30"/><stop offset="0.4033" stop-color="#121650"/><stop offset="0.5467" stop-color="#1a2272"/><stop offset="0.5968" stop-color="#2848b8"/><stop offset="0.6255" stop-color="#4898e0"/><stop offset="0.6542" stop-color="#58b8e8"/><stop offset="0.6728" stop-color="#80c8b0"/><stop offset="0.6900" stop-color="#e8e040"/><stop offset="0.7258" stop-color="#f09a30"/><stop offset="0.7473" stop-color="#d83020"/><stop offset="0.7832" stop-color="#c82420"/><stop offset="0.8004" stop-color="#e89838"/><stop offset="0.8161" stop-color="#60a8b8"/><stop offset="0.8333" stop-color="#2848a8"/><stop offset="0.8620" stop-color="#141850"/><stop offset="0.9050" stop-color="#000"/></linearGradient><linearGradient id="ga48" gradientUnits="userSpaceOnUse" x1="-50.0" x2="10.0"><stop offset="0.1883" stop-color="#0a0c30"/><stop offset="0.4033" stop-color="#121650"/><stop offset="0.5492" stop-color="#1a2272"/><stop offset="0.6007" stop-color="#2847b7"/><stop offset="0.6294" stop-color="#4797df"/><stop offset="0.6580" stop-color="#58b8e8"/><stop offset="0.6764" stop-color="#81c9ad"/><stop offset="0.6931" stop-color="#e8e040"/><stop offset="0.7284" stop-color="#f09f30"/><stop offset="0.7499" stop-color="#dc4123"/><stop offset="0.7832" stop-color="#ce3621"/><stop offset="0.8004" stop-color="#e89f39"/><stop offset="0.8159" stop-color="#66acb4"/><stop offset="0.8326" stop-color="#294cac"/><stop offset="0.8615" stop-color="#141851"/><stop offset="0.9037" stop-color="#000"/></linearGradient><linearGradient id="ga49" gradientUnits="userSpaceOnUse" x1="-50.0" x2="10.0"><stop offset="0.1883" stop-color="#0a0c30"/><stop offset="0.4033" stop-color="#121650"/><stop offset="0.5544" stop-color="#1a2272"/><stop offset="0.6084" stop-color="#2746b4"/><stop offset="0.6371" stop-color="#4694de"/><stop offset="0.6658" stop-color="#58b8e7"/><stop offset="0.6836" stop-color="#84caa8"/><stop offset="0.6993" stop-color="#e8e040"/><stop offset="0.7336" stop-color="#f0aa30"/><stop offset="0.7551" stop-color="#e56428"/><stop offset="0.7832" stop-color="#d95a24"/><stop offset="0.8004" stop-color="#e8ae3c"/><stop offset="0.8154" stop-color="#71b5ab"/><stop offset="0.8310" stop-color="#2c55b5"/><stop offset="0.8605" stop-color="#141852"/><stop offset="0.9011" stop-color="#000"/></linearGradient><linearGradient id="ga50" gradientUnits="userSpaceOnUse" x1="-50.0" x2="10.0"><stop offset="0.1883" stop-color="#0a0c30"/><stop offset="0.4033" stop-color="#121650"/><stop offset="0.5596" stop-color="#1a2272"/><stop offset="0.6162" stop-color="#2644b1"/><stop offset="0.6449" stop-color="#4491dc"/><stop offset="0.6735" stop-color="#58b8e6"/><stop offset="0.6909" stop-color="#87cca2"/><stop offset="0.7055" stop-color="#e8e040"/><stop offset="0.7387" stop-color="#f0b530"/><stop offset="0.7602" stop-color="#ee862e"/><stop offset="0.7832" stop-color="#e57e27"/><stop offset="0.8004" stop-color="#e8bc3f"/><stop offset="0.8148" stop-color="#7dbea2"/><stop offset="0.8295" stop-color="#2f5ebe"/><stop offset="0.8594" stop-color="#141854"/><stop offset="0.8985" stop-color="#000"/></linearGradient><linearGradient id="ga51" gradientUnits="userSpaceOnUse" x1="-50.0" x2="10.0"><stop offset="0.1883" stop-color="#0a0c30"/><stop offset="0.4033" stop-color="#121650"/><stop offset="0.5634" stop-color="#1a2272"/><stop offset="0.6269" stop-color="#2643af"/><stop offset="0.6556" stop-color="#428edb"/><stop offset="0.6833" stop-color="#58b8e6"/><stop offset="0.7009" stop-color="#87cca1"/><stop offset="0.7154" stop-color="#e4df42"/><stop offset="0.7459" stop-color="#eebe34"/><stop offset="0.7657" stop-color="#ed9832"/><stop offset="0.7855" stop-color="#e4922d"/><stop offset="0.8007" stop-color="#e1c141"/><stop offset="0.8141" stop-color="#7ebf9e"/><stop offset="0.8293" stop-color="#2f5fbf"/><stop offset="0.8587" stop-color="#141853"/><stop offset="0.8973" stop-color="#000"/></linearGradient><linearGradient id="ga52" gradientUnits="userSpaceOnUse" x1="-50.0" x2="10.0"><stop offset="0.1883" stop-color="#0a0c30"/><stop offset="0.4033" stop-color="#121650"/><stop offset="0.5672" stop-color="#1a2272"/><stop offset="0.6377" stop-color="#2542ac"/><stop offset="0.6663" stop-color="#3f8bda"/><stop offset="0.6930" stop-color="#58b8e6"/><stop offset="0.7109" stop-color="#88cca1"/><stop offset="0.7254" stop-color="#e1de44"/><stop offset="0.7531" stop-color="#ecc837"/><stop offset="0.7712" stop-color="#ebab37"/><stop offset="0.7878" stop-color="#e3a633"/><stop offset="0.8010" stop-color="#d9c644"/><stop offset="0.8134" stop-color="#7fbf99"/><stop offset="0.8292" stop-color="#305fbf"/><stop offset="0.8579" stop-color="#131752"/><stop offset="0.8961" stop-color="#000"/></linearGradient><linearGradient id="ga53" gradientUnits="userSpaceOnUse" x1="-50.0" x2="10.0"><stop offset="0.1883" stop-color="#0a0c30"/><stop offset="0.4033" stop-color="#121650"/><stop offset="0.5710" stop-color="#1a2272"/><stop offset="0.6484" stop-color="#2541aa"/><stop offset="0.6771" stop-color="#3d88d9"/><stop offset="0.7028" stop-color="#58b8e6"/><stop offset="0.7210" stop-color="#88cca0"/><stop offset="0.7353" stop-color="#dddd46"/><stop offset="0.7602" stop-color="#ead13b"/><stop offset="0.7767" stop-color="#eabd3b"/><stop offset="0.7902" stop-color="#e2ba39"/><stop offset="0.8014" stop-color="#d2cb46"/><stop offset="0.8127" stop-color="#80c095"/><stop offset="0.8290" stop-color="#3060c0"/><stop offset="0.8571" stop-color="#131751"/><stop offset="0.8948" stop-color="#000"/></linearGradient><linearGradient id="ga54" gradientUnits="userSpaceOnUse" x1="-50.0" x2="10.0"><stop offset="0.1883" stop-color="#0a0c30"/><stop offset="0.4033" stop-color="#121650"/><stop offset="0.5728" stop-color="#1a2272"/><stop offset="0.6524" stop-color="#2540a9"/><stop offset="0.6812" stop-color="#3c86d8"/><stop offset="0.7065" stop-color="#58b8e6"/><stop offset="0.7247" stop-color="#87cca2"/><stop offset="0.7390" stop-color="#d9dc4a"/><stop offset="0.7628" stop-color="#e7d33f"/><stop offset="0.7786" stop-color="#e7c23f"/><stop offset="0.7912" stop-color="#dfbf3e"/><stop offset="0.8016" stop-color="#cdcc4a"/><stop offset="0.8125" stop-color="#7ebf96"/><stop offset="0.8290" stop-color="#3060c0"/><stop offset="0.8569" stop-color="#131750"/><stop offset="0.8944" stop-color="#000"/></linearGradient><linearGradient id="ga55" gradientUnits="userSpaceOnUse" x1="-50.0" x2="10.0"><stop offset="0.1883" stop-color="#0a0c30"/><stop offset="0.4033" stop-color="#121650"/><stop offset="0.5746" stop-color="#1a2272"/><stop offset="0.6563" stop-color="#2440a8"/><stop offset="0.6853" stop-color="#3b85d8"/><stop offset="0.7102" stop-color="#57b7e6"/><stop offset="0.7284" stop-color="#86cba4"/><stop offset="0.7427" stop-color="#d6dc4d"/><stop offset="0.7654" stop-color="#e4d642"/><stop offset="0.7805" stop-color="#e4c642"/><stop offset="0.7921" stop-color="#dcc442"/><stop offset="0.8019" stop-color="#c8cc4e"/><stop offset="0.8124" stop-color="#7dbe96"/><stop offset="0.8290" stop-color="#3060c0"/><stop offset="0.8566" stop-color="#121650"/><stop offset="0.8940" stop-color="#000"/></linearGradient><linearGradient id="ga56" gradientUnits="userSpaceOnUse" x1="-50.0" x2="10.0"><stop offset="0.1883" stop-color="#0a0c30"/><stop offset="0.4033" stop-color="#121650"/><stop offset="0.5764" stop-color="#1a2271"/><stop offset="0.6603" stop-color="#2440a8"/><stop offset="0.6895" stop-color="#3a84d8"/><stop offset="0.7139" stop-color="#56b6e5"/><stop offset="0.7321" stop-color="#84caa5"/><stop offset="0.7465" stop-color="#d2db50"/><stop offset="0.7680" stop-color="#e1d846"/><stop offset="0.7824" stop-color="#e1ca46"/><stop offset="0.7931" stop-color="#d8c947"/><stop offset="0.8021" stop-color="#c2cc51"/><stop offset="0.8123" stop-color="#7cbd96"/><stop offset="0.8290" stop-color="#305fbf"/><stop offset="0.8564" stop-color="#121650"/><stop offset="0.8936" stop-color="#000"/></linearGradient><linearGradient id="ga57" gradientUnits="userSpaceOnUse" x1="-50.0" x2="10.0"><stop offset="0.1883" stop-color="#0a0c30"/><stop offset="0.4033" stop-color="#121650"/><stop offset="0.5782" stop-color="#1a2271"/><stop offset="0.6642" stop-color="#243fa7"/><stop offset="0.6936" stop-color="#3982d7"/><stop offset="0.7177" stop-color="#56b6e5"/><stop offset="0.7359" stop-color="#83caa7"/><stop offset="0.7502" stop-color="#ceda54"/><stop offset="0.7706" stop-color="#deda4a"/><stop offset="0.7843" stop-color="#decf4a"/><stop offset="0.7941" stop-color="#d5ce4c"/><stop offset="0.8024" stop-color="#bdcd55"/><stop offset="0.8121" stop-color="#7abc97"/><stop offset="0.8290" stop-color="#305fbf"/><stop offset="0.8561" stop-color="#12164f"/><stop offset="0.8932" stop-color="#000"/></linearGradient><linearGradient id="ga58" gradientUnits="userSpaceOnUse" x1="-50.0" x2="10.0"><stop offset="0.1883" stop-color="#0a0c31"/><stop offset="0.4033" stop-color="#121650"/><stop offset="0.5823" stop-color="#1a2270"/><stop offset="0.6683" stop-color="#243ea5"/><stop offset="0.6987" stop-color="#387fd5"/><stop offset="0.7224" stop-color="#54b3e4"/><stop offset="0.7400" stop-color="#7cc7b0"/><stop offset="0.7543" stop-color="#bfd765"/><stop offset="0.7730" stop-color="#cfd759"/><stop offset="0.7860" stop-color="#cfce59"/><stop offset="0.7953" stop-color="#c5cc5d"/><stop offset="0.8032" stop-color="#adc868"/><stop offset="0.8125" stop-color="#71b6a1"/><stop offset="0.8290" stop-color="#2f5ebe"/><stop offset="0.8559" stop-color="#12164e"/><stop offset="0.8928" stop-color="#000"/></linearGradient><linearGradient id="ga59" gradientUnits="userSpaceOnUse" x1="-50.0" x2="10.0"><stop offset="0.1883" stop-color="#0b0d31"/><stop offset="0.4033" stop-color="#12164f"/><stop offset="0.5864" stop-color="#1a226f"/><stop offset="0.6724" stop-color="#233da4"/><stop offset="0.7038" stop-color="#367cd4"/><stop offset="0.7271" stop-color="#51b0e3"/><stop offset="0.7441" stop-color="#75c4ba"/><stop offset="0.7584" stop-color="#b0d376"/><stop offset="0.7755" stop-color="#c0d468"/><stop offset="0.7876" stop-color="#c0cd68"/><stop offset="0.7965" stop-color="#b5c96e"/><stop offset="0.8040" stop-color="#9dc47b"/><stop offset="0.8129" stop-color="#69afaa"/><stop offset="0.8290" stop-color="#2f5dbd"/><stop offset="0.8557" stop-color="#11154d"/><stop offset="0.8924" stop-color="#000"/></linearGradient><linearGradient id="ga60" gradientUnits="userSpaceOnUse" x1="-50.0" x2="10.0"><stop offset="0.1883" stop-color="#0b0d32"/><stop offset="0.4033" stop-color="#12164f"/><stop offset="0.5905" stop-color="#1a226e"/><stop offset="0.6765" stop-color="#233ca2"/><stop offset="0.7089" stop-color="#3579d2"/><stop offset="0.7318" stop-color="#4fade2"/><stop offset="0.7482" stop-color="#6ec1c3"/><stop offset="0.7625" stop-color="#a1d087"/><stop offset="0.7779" stop-color="#b1d177"/><stop offset="0.7892" stop-color="#b1cc77"/><stop offset="0.7977" stop-color="#a5c77f"/><stop offset="0.8048" stop-color="#8dbf8e"/><stop offset="0.8133" stop-color="#60a9b4"/><stop offset="0.8290" stop-color="#2e5cbc"/><stop offset="0.8555" stop-color="#11154c"/><stop offset="0.8920" stop-color="#000"/></linearGradient><linearGradient id="ga61" gradientUnits="userSpaceOnUse" x1="-50.0" x2="10.0"><stop offset="0.1883" stop-color="#0b0d32"/><stop offset="0.4033" stop-color="#12164f"/><stop offset="0.5937" stop-color="#1a226e"/><stop offset="0.6801" stop-color="#233aa0"/><stop offset="0.7136" stop-color="#3477d0"/><stop offset="0.7361" stop-color="#4daae2"/><stop offset="0.7519" stop-color="#69bfca"/><stop offset="0.7660" stop-color="#95cc96"/><stop offset="0.7801" stop-color="#a4cf84"/><stop offset="0.7906" stop-color="#a4ca84"/><stop offset="0.7988" stop-color="#97c48e"/><stop offset="0.8056" stop-color="#80ba9d"/><stop offset="0.8137" stop-color="#59a3bc"/><stop offset="0.8290" stop-color="#2e5aba"/><stop offset="0.8553" stop-color="#11154b"/><stop offset="0.8917" stop-color="#000"/></linearGradient><linearGradient id="ga62" gradientUnits="userSpaceOnUse" x1="-50.0" x2="10.0"><stop offset="0.1883" stop-color="#0b0d32"/><stop offset="0.4033" stop-color="#12164e"/><stop offset="0.5960" stop-color="#1a226d"/><stop offset="0.6833" stop-color="#223a9e"/><stop offset="0.7177" stop-color="#3274ce"/><stop offset="0.7400" stop-color="#4ba7e1"/><stop offset="0.7552" stop-color="#64bcd0"/><stop offset="0.7690" stop-color="#8ac9a1"/><stop offset="0.7819" stop-color="#99cc90"/><stop offset="0.7918" stop-color="#99c790"/><stop offset="0.7996" stop-color="#8cc19a"/><stop offset="0.8062" stop-color="#75b5a8"/><stop offset="0.8140" stop-color="#539ec0"/><stop offset="0.8290" stop-color="#2d59b9"/><stop offset="0.8552" stop-color="#10144a"/><stop offset="0.8915" stop-color="#000"/></linearGradient><linearGradient id="ga63" gradientUnits="userSpaceOnUse" x1="-50.0" x2="10.0"><stop offset="0.1883" stop-color="#0b0d32"/><stop offset="0.4033" stop-color="#12164e"/><stop offset="0.5983" stop-color="#1a226c"/><stop offset="0.6864" stop-color="#22389c"/><stop offset="0.7219" stop-color="#3271cc"/><stop offset="0.7440" stop-color="#49a4e0"/><stop offset="0.7585" stop-color="#5fb9d4"/><stop offset="0.7720" stop-color="#80c6ad"/><stop offset="0.7837" stop-color="#8ec89c"/><stop offset="0.7930" stop-color="#8dc49c"/><stop offset="0.8005" stop-color="#80bda6"/><stop offset="0.8068" stop-color="#6ab0b3"/><stop offset="0.8143" stop-color="#4e98c6"/><stop offset="0.8290" stop-color="#2c57b7"/><stop offset="0.8551" stop-color="#101449"/><stop offset="0.8912" stop-color="#000"/></linearGradient><linearGradient id="ga64" gradientUnits="userSpaceOnUse" x1="-50.0" x2="10.0"><stop offset="0.1883" stop-color="#0b0d33"/><stop offset="0.4033" stop-color="#11154e"/><stop offset="0.6006" stop-color="#19216b"/><stop offset="0.6896" stop-color="#22389b"/><stop offset="0.7260" stop-color="#306ecb"/><stop offset="0.7479" stop-color="#47a1df"/><stop offset="0.7618" stop-color="#5ab6da"/><stop offset="0.7750" stop-color="#76c3b9"/><stop offset="0.7855" stop-color="#83c6a7"/><stop offset="0.7942" stop-color="#81c2a7"/><stop offset="0.8014" stop-color="#74b9b1"/><stop offset="0.8074" stop-color="#60acbe"/><stop offset="0.8147" stop-color="#4892ca"/><stop offset="0.8290" stop-color="#2b55b5"/><stop offset="0.8550" stop-color="#101448"/><stop offset="0.8910" stop-color="#000"/></linearGradient><linearGradient id="ga65" gradientUnits="userSpaceOnUse" x1="-50.0" x2="10.0"><stop offset="0.1883" stop-color="#0b0d33"/><stop offset="0.4033" stop-color="#11154d"/><stop offset="0.6029" stop-color="#19216a"/><stop offset="0.6927" stop-color="#213699"/><stop offset="0.7302" stop-color="#306bc9"/><stop offset="0.7518" stop-color="#459ede"/><stop offset="0.7652" stop-color="#55b3de"/><stop offset="0.7779" stop-color="#6bc0c4"/><stop offset="0.7873" stop-color="#78c2b3"/><stop offset="0.7953" stop-color="#76bfb3"/><stop offset="0.8022" stop-color="#69b6bd"/><stop offset="0.8081" stop-color="#55a6c9"/><stop offset="0.8150" stop-color="#428dd0"/><stop offset="0.8290" stop-color="#2a54b4"/><stop offset="0.8549" stop-color="#0f1347"/><stop offset="0.8908" stop-color="#000"/></linearGradient><linearGradient id="ga66" gradientUnits="userSpaceOnUse" x1="-50.0" x2="10.0"><stop offset="0.1883" stop-color="#0b0d33"/><stop offset="0.4033" stop-color="#11154d"/><stop offset="0.6040" stop-color="#192169"/><stop offset="0.6952" stop-color="#213597"/><stop offset="0.7337" stop-color="#2f69c7"/><stop offset="0.7552" stop-color="#439add"/><stop offset="0.7679" stop-color="#52b1e1"/><stop offset="0.7802" stop-color="#64bdcc"/><stop offset="0.7886" stop-color="#6fbfbd"/><stop offset="0.7962" stop-color="#6dbcbd"/><stop offset="0.8028" stop-color="#60b1c5"/><stop offset="0.8086" stop-color="#4ea1d0"/><stop offset="0.8152" stop-color="#3e88d1"/><stop offset="0.8290" stop-color="#2952b2"/><stop offset="0.8548" stop-color="#0f1347"/><stop offset="0.8907" stop-color="#000"/></linearGradient><linearGradient id="ga67" gradientUnits="userSpaceOnUse" x1="-50.0" x2="10.0"><stop offset="0.1883" stop-color="#0b0d32"/><stop offset="0.4033" stop-color="#11154c"/><stop offset="0.6040" stop-color="#182068"/><stop offset="0.6970" stop-color="#203496"/><stop offset="0.7364" stop-color="#2e66c6"/><stop offset="0.7579" stop-color="#4297dc"/><stop offset="0.7701" stop-color="#50aee1"/><stop offset="0.7816" stop-color="#60bad1"/><stop offset="0.7896" stop-color="#69bcc4"/><stop offset="0.7967" stop-color="#66b8c4"/><stop offset="0.8032" stop-color="#5bacca"/><stop offset="0.8089" stop-color="#4b9cd1"/><stop offset="0.8154" stop-color="#3b84d0"/><stop offset="0.8290" stop-color="#2850b0"/><stop offset="0.8548" stop-color="#0f1346"/><stop offset="0.8907" stop-color="#000"/></linearGradient><linearGradient id="ga68" gradientUnits="userSpaceOnUse" x1="-50.0" x2="10.0"><stop offset="0.1883" stop-color="#0b0d32"/><stop offset="0.4033" stop-color="#11154c"/><stop offset="0.6040" stop-color="#182067"/><stop offset="0.6989" stop-color="#203394"/><stop offset="0.7391" stop-color="#2e64c4"/><stop offset="0.7606" stop-color="#4093db"/><stop offset="0.7723" stop-color="#4eace1"/><stop offset="0.7831" stop-color="#5cb8d5"/><stop offset="0.7905" stop-color="#63b9cc"/><stop offset="0.7973" stop-color="#5fb4cb"/><stop offset="0.8036" stop-color="#55a7ce"/><stop offset="0.8093" stop-color="#4797d2"/><stop offset="0.8156" stop-color="#3980cf"/><stop offset="0.8290" stop-color="#274eae"/><stop offset="0.8548" stop-color="#0f1346"/><stop offset="0.8907" stop-color="#000"/></linearGradient><linearGradient id="ga69" gradientUnits="userSpaceOnUse" x1="-50.0" x2="10.0"><stop offset="0.1883" stop-color="#0a0c31"/><stop offset="0.4033" stop-color="#10144b"/><stop offset="0.6040" stop-color="#171f66"/><stop offset="0.7007" stop-color="#1f3293"/><stop offset="0.7419" stop-color="#2d61c3"/><stop offset="0.7634" stop-color="#3f8fda"/><stop offset="0.7745" stop-color="#4ca9e0"/><stop offset="0.7845" stop-color="#58b5d9"/><stop offset="0.7914" stop-color="#5cb6d3"/><stop offset="0.7978" stop-color="#58b0d2"/><stop offset="0.8039" stop-color="#4fa2d3"/><stop offset="0.8097" stop-color="#4392d3"/><stop offset="0.8158" stop-color="#377cce"/><stop offset="0.8290" stop-color="#264cac"/><stop offset="0.8548" stop-color="#0e1245"/><stop offset="0.8907" stop-color="#000"/></linearGradient><linearGradient id="ga70" gradientUnits="userSpaceOnUse" x1="-50.0" x2="10.0"><stop offset="0.1883" stop-color="#0a0c31"/><stop offset="0.4033" stop-color="#10144b"/><stop offset="0.6040" stop-color="#171f65"/><stop offset="0.7025" stop-color="#1f3191"/><stop offset="0.7446" stop-color="#2d5fc1"/><stop offset="0.7661" stop-color="#3d8cd9"/><stop offset="0.7767" stop-color="#4aa7e0"/><stop offset="0.7860" stop-color="#54b3de"/><stop offset="0.7923" stop-color="#56b3db"/><stop offset="0.7984" stop-color="#51acd9"/><stop offset="0.8043" stop-color="#4a9dd7"/><stop offset="0.8100" stop-color="#408dd5"/><stop offset="0.8160" stop-color="#3478cd"/><stop offset="0.8290" stop-color="#254aaa"/><stop offset="0.8548" stop-color="#0e1245"/><stop offset="0.8907" stop-color="#000"/></linearGradient><linearGradient id="ga71" gradientUnits="userSpaceOnUse" x1="-50.0" x2="10.0"><stop offset="0.1883" stop-color="#0a0c30"/><stop offset="0.4033" stop-color="#10144a"/><stop offset="0.6040" stop-color="#161e64"/><stop offset="0.7043" stop-color="#1e3090"/><stop offset="0.7473" stop-color="#2c5cc0"/><stop offset="0.7688" stop-color="#3c88d8"/><stop offset="0.7789" stop-color="#48a4e0"/><stop offset="0.7875" stop-color="#50b0e2"/><stop offset="0.7932" stop-color="#50b0e2"/><stop offset="0.7989" stop-color="#4aa8e0"/><stop offset="0.8047" stop-color="#4498dc"/><stop offset="0.8104" stop-color="#3c88d6"/><stop offset="0.8161" stop-color="#3274cc"/><stop offset="0.8290" stop-color="#2448a8"/><stop offset="0.8548" stop-color="#0e1244"/><stop offset="0.8907" stop-color="#000"/></linearGradient><linearGradient id="ga72" gradientUnits="userSpaceOnUse" x1="-50.0" x2="10.0"><stop offset="0.1883" stop-color="#0a0c30"/><stop offset="0.4033" stop-color="#101449"/><stop offset="0.6040" stop-color="#161d63"/><stop offset="0.7061" stop-color="#1d2e8c"/><stop offset="0.7491" stop-color="#2a57ba"/><stop offset="0.7706" stop-color="#397fd2"/><stop offset="0.7802" stop-color="#4499da"/><stop offset="0.7885" stop-color="#4ba4dc"/><stop offset="0.7942" stop-color="#4ba4dc"/><stop offset="0.7998" stop-color="#469cda"/><stop offset="0.8054" stop-color="#408ed6"/><stop offset="0.8109" stop-color="#397fd0"/><stop offset="0.8165" stop-color="#306dc6"/><stop offset="0.8290" stop-color="#2344a3"/><stop offset="0.8548" stop-color="#0e1142"/><stop offset="0.8907" stop-color="#000"/></linearGradient><linearGradient id="ga73" gradientUnits="userSpaceOnUse" x1="-50.0" x2="10.0"><stop offset="0.1883" stop-color="#0a0c2f"/><stop offset="0.4033" stop-color="#101448"/><stop offset="0.6040" stop-color="#151c61"/><stop offset="0.7078" stop-color="#1c2d88"/><stop offset="0.7508" stop-color="#2852b4"/><stop offset="0.7723" stop-color="#3677cc"/><stop offset="0.7816" stop-color="#408ed4"/><stop offset="0.7895" stop-color="#4698d6"/><stop offset="0.7953" stop-color="#4698d6"/><stop offset="0.8007" stop-color="#4191d4"/><stop offset="0.8060" stop-color="#3c84d0"/><stop offset="0.8114" stop-color="#3677c9"/><stop offset="0.8168" stop-color="#2d66c0"/><stop offset="0.8290" stop-color="#21419e"/><stop offset="0.8548" stop-color="#0d1040"/><stop offset="0.8907" stop-color="#000"/></linearGradient><linearGradient id="ga74" gradientUnits="userSpaceOnUse" x1="-50.0" x2="10.0"><stop offset="0.1883" stop-color="#0a0c2f"/><stop offset="0.4033" stop-color="#0f1346"/><stop offset="0.6040" stop-color="#151c60"/><stop offset="0.7095" stop-color="#1c2b85"/><stop offset="0.7525" stop-color="#264daf"/><stop offset="0.7740" stop-color="#326ec5"/><stop offset="0.7830" stop-color="#3c83cd"/><stop offset="0.7906" stop-color="#428cd0"/><stop offset="0.7963" stop-color="#428cd0"/><stop offset="0.8015" stop-color="#3d85cd"/><stop offset="0.8067" stop-color="#397ac9"/><stop offset="0.8119" stop-color="#326ec3"/><stop offset="0.8172" stop-color="#2b5eb9"/><stop offset="0.8290" stop-color="#203d9a"/><stop offset="0.8548" stop-color="#0d103e"/><stop offset="0.8907" stop-color="#000"/></linearGradient><linearGradient id="ga75" gradientUnits="userSpaceOnUse" x1="-50.0" x2="10.0"><stop offset="0.1883" stop-color="#0a0c2e"/><stop offset="0.4033" stop-color="#0f1345"/><stop offset="0.6040" stop-color="#141b5e"/><stop offset="0.7112" stop-color="#1b2a81"/><stop offset="0.7542" stop-color="#2448a9"/><stop offset="0.7757" stop-color="#2f66bf"/><stop offset="0.7844" stop-color="#3878c7"/><stop offset="0.7916" stop-color="#3d80ca"/><stop offset="0.7973" stop-color="#3d80ca"/><stop offset="0.8024" stop-color="#387ac7"/><stop offset="0.8074" stop-color="#3570c3"/><stop offset="0.8125" stop-color="#2f66bc"/><stop offset="0.8175" stop-color="#2857b3"/><stop offset="0.8290" stop-color="#1e3a95"/><stop offset="0.8548" stop-color="#0c0f3c"/><stop offset="0.8907" stop-color="#000"/></linearGradient><linearGradient id="ga76" gradientUnits="userSpaceOnUse" x1="-50.0" x2="10.0"><stop offset="0.1883" stop-color="#0a0c2e"/><stop offset="0.4033" stop-color="#0f1344"/><stop offset="0.6040" stop-color="#141a5d"/><stop offset="0.7129" stop-color="#1a287d"/><stop offset="0.7559" stop-color="#2243a3"/><stop offset="0.7774" stop-color="#2c5db9"/><stop offset="0.7857" stop-color="#346dc1"/><stop offset="0.7926" stop-color="#3874c4"/><stop offset="0.7984" stop-color="#3874c4"/><stop offset="0.8032" stop-color="#346ec1"/><stop offset="0.8081" stop-color="#3166bd"/><stop offset="0.8130" stop-color="#2c5db6"/><stop offset="0.8179" stop-color="#2650ad"/><stop offset="0.8290" stop-color="#1d3690"/><stop offset="0.8548" stop-color="#0c0e3a"/><stop offset="0.8907" stop-color="#000"/></linearGradient><linearGradient id="ga77" gradientUnits="userSpaceOnUse" x1="-50.0" x2="10.0"><stop offset="0.1883" stop-color="#0a0c2e"/><stop offset="0.4033" stop-color="#0f1343"/><stop offset="0.6040" stop-color="#141a5c"/><stop offset="0.7141" stop-color="#1a277a"/><stop offset="0.7571" stop-color="#21409f"/><stop offset="0.7786" stop-color="#2a57b5"/><stop offset="0.7867" stop-color="#3166bd"/><stop offset="0.7933" stop-color="#356cc0"/><stop offset="0.7990" stop-color="#356cc0"/><stop offset="0.8038" stop-color="#3166bd"/><stop offset="0.8086" stop-color="#2e5fb9"/><stop offset="0.8133" stop-color="#2a57b2"/><stop offset="0.8181" stop-color="#244ba9"/><stop offset="0.8290" stop-color="#1c348d"/><stop offset="0.8548" stop-color="#0c0e39"/><stop offset="0.8907" stop-color="#000"/></linearGradient><linearGradient id="ga78" gradientUnits="userSpaceOnUse" x1="-50.0" x2="10.0"><stop offset="0.1883" stop-color="#0a0c2d"/><stop offset="0.4033" stop-color="#0f1342"/><stop offset="0.6040" stop-color="#14195b"/><stop offset="0.7152" stop-color="#192678"/><stop offset="0.7582" stop-color="#203c9b"/><stop offset="0.7797" stop-color="#2851b1"/><stop offset="0.7876" stop-color="#2e5eb9"/><stop offset="0.7940" stop-color="#3264bc"/><stop offset="0.7997" stop-color="#3264bc"/><stop offset="0.8044" stop-color="#2e5fb9"/><stop offset="0.8090" stop-color="#2c58b5"/><stop offset="0.8137" stop-color="#2851ad"/><stop offset="0.8183" stop-color="#2346a5"/><stop offset="0.8290" stop-color="#1b318a"/><stop offset="0.8548" stop-color="#0b0d38"/><stop offset="0.8907" stop-color="#000"/></linearGradient><linearGradient id="ga79" gradientUnits="userSpaceOnUse" x1="-50.0" x2="10.0"><stop offset="0.1883" stop-color="#0a0c2d"/><stop offset="0.4033" stop-color="#0e1242"/><stop offset="0.6040" stop-color="#13195a"/><stop offset="0.7164" stop-color="#192475"/><stop offset="0.7594" stop-color="#1e3998"/><stop offset="0.7809" stop-color="#264cac"/><stop offset="0.7885" stop-color="#2c57b4"/><stop offset="0.7947" stop-color="#2e5cb8"/><stop offset="0.8004" stop-color="#2e5cb8"/><stop offset="0.8050" stop-color="#2c57b4"/><stop offset="0.8095" stop-color="#2952b0"/><stop offset="0.8140" stop-color="#264ca9"/><stop offset="0.8185" stop-color="#2142a0"/><stop offset="0.8290" stop-color="#1a2f86"/><stop offset="0.8548" stop-color="#0b0d36"/><stop offset="0.8907" stop-color="#000"/></linearGradient><linearGradient id="ga80" gradientUnits="userSpaceOnUse" x1="-50.0" x2="10.0"><stop offset="0.1883" stop-color="#0a0c2c"/><stop offset="0.4033" stop-color="#0e1241"/><stop offset="0.6040" stop-color="#131859"/><stop offset="0.7175" stop-color="#182373"/><stop offset="0.7605" stop-color="#1d3594"/><stop offset="0.7820" stop-color="#2446a8"/><stop offset="0.7894" stop-color="#294fb0"/><stop offset="0.7954" stop-color="#2b54b4"/><stop offset="0.8011" stop-color="#2b54b4"/><stop offset="0.8055" stop-color="#2950b0"/><stop offset="0.8099" stop-color="#274bac"/><stop offset="0.8144" stop-color="#2446a4"/><stop offset="0.8188" stop-color="#203d9c"/><stop offset="0.8290" stop-color="#192c83"/><stop offset="0.8548" stop-color="#0a0c35"/><stop offset="0.8907" stop-color="#000"/></linearGradient><linearGradient id="ga81" gradientUnits="userSpaceOnUse" x1="-50.0" x2="10.0"><stop offset="0.1883" stop-color="#0a0c2c"/><stop offset="0.4033" stop-color="#0e1240"/><stop offset="0.6040" stop-color="#131858"/><stop offset="0.7187" stop-color="#182270"/><stop offset="0.7617" stop-color="#1c3290"/><stop offset="0.7832" stop-color="#2240a4"/><stop offset="0.7903" stop-color="#2648ac"/><stop offset="0.7961" stop-color="#284cb0"/><stop offset="0.8018" stop-color="#284cb0"/><stop offset="0.8061" stop-color="#2648ac"/><stop offset="0.8104" stop-color="#2444a8"/><stop offset="0.8147" stop-color="#2240a0"/><stop offset="0.8190" stop-color="#1e3898"/><stop offset="0.8290" stop-color="#182a80"/><stop offset="0.8548" stop-color="#0a0c34"/><stop offset="0.8907" stop-color="#000"/></linearGradient><clipPath id="cpb"><rect x="100.0" y="0" width="58.20" height="161.5"/></clipPath><linearGradient id="gb0" gradientUnits="userSpaceOnUse" x1="-50.0" x2="10.0"><stop offset="0.1283" stop-color="#0a0c2c"/><stop offset="0.3633" stop-color="#0e1240"/><stop offset="0.5827" stop-color="#131858"/><stop offset="0.7080" stop-color="#182270"/><stop offset="0.7550" stop-color="#1c3290"/><stop offset="0.7785" stop-color="#2240a4"/><stop offset="0.7863" stop-color="#2648ac"/><stop offset="0.7926" stop-color="#284cb0"/><stop offset="0.7989" stop-color="#284cb0"/><stop offset="0.8036" stop-color="#2648ac"/><stop offset="0.8083" stop-color="#2444a8"/><stop offset="0.8130" stop-color="#2240a0"/><stop offset="0.8177" stop-color="#1e3898"/><stop offset="0.8286" stop-color="#182a80"/><stop offset="0.8568" stop-color="#0a0c34"/><stop offset="0.8960" stop-color="#000"/></linearGradient><linearGradient id="gb1" gradientUnits="userSpaceOnUse" x1="-50.0" x2="10.0"><stop offset="0.1283" stop-color="#0a0c2c"/><stop offset="0.3633" stop-color="#0e1241"/><stop offset="0.5827" stop-color="#131959"/><stop offset="0.7067" stop-color="#192373"/><stop offset="0.7537" stop-color="#1d3694"/><stop offset="0.7772" stop-color="#2446a8"/><stop offset="0.7853" stop-color="#2950b0"/><stop offset="0.7918" stop-color="#2b55b4"/><stop offset="0.7981" stop-color="#2b55b4"/><stop offset="0.8029" stop-color="#2950b0"/><stop offset="0.8077" stop-color="#274bac"/><stop offset="0.8126" stop-color="#2446a5"/><stop offset="0.8174" stop-color="#203d9c"/><stop offset="0.8286" stop-color="#192d83"/><stop offset="0.8568" stop-color="#0a0d35"/><stop offset="0.8960" stop-color="#000"/></linearGradient><linearGradient id="gb2" gradientUnits="userSpaceOnUse" x1="-50.0" x2="10.0"><stop offset="0.1283" stop-color="#0a0c2d"/><stop offset="0.3633" stop-color="#0e1242"/><stop offset="0.5827" stop-color="#14195a"/><stop offset="0.7053" stop-color="#192475"/><stop offset="0.7523" stop-color="#1f3998"/><stop offset="0.7758" stop-color="#274cad"/><stop offset="0.7842" stop-color="#2c58b5"/><stop offset="0.7910" stop-color="#2f5db9"/><stop offset="0.7973" stop-color="#2f5db9"/><stop offset="0.8022" stop-color="#2c59b5"/><stop offset="0.8072" stop-color="#2952b1"/><stop offset="0.8122" stop-color="#274ca9"/><stop offset="0.8171" stop-color="#2142a1"/><stop offset="0.8286" stop-color="#1a2f87"/><stop offset="0.8568" stop-color="#0b0d37"/><stop offset="0.8960" stop-color="#000"/></linearGradient><linearGradient id="gb3" gradientUnits="userSpaceOnUse" x1="-50.0" x2="10.0"><stop offset="0.1283" stop-color="#0a0c2d"/><stop offset="0.3633" stop-color="#0e1243"/><stop offset="0.5827" stop-color="#141a5b"/><stop offset="0.7040" stop-color="#1a2578"/><stop offset="0.7510" stop-color="#203d9c"/><stop offset="0.7745" stop-color="#2952b1"/><stop offset="0.7831" stop-color="#2f60b9"/><stop offset="0.7902" stop-color="#3266bd"/><stop offset="0.7964" stop-color="#3266bd"/><stop offset="0.8016" stop-color="#2f61b9"/><stop offset="0.8067" stop-color="#2c59b5"/><stop offset="0.8118" stop-color="#2952ae"/><stop offset="0.8169" stop-color="#2347a5"/><stop offset="0.8286" stop-color="#1b328a"/><stop offset="0.8568" stop-color="#0b0e38"/><stop offset="0.8960" stop-color="#000"/></linearGradient><linearGradient id="gb4" gradientUnits="userSpaceOnUse" x1="-50.0" x2="10.0"><stop offset="0.1283" stop-color="#0a0c2d"/><stop offset="0.3633" stop-color="#0f1343"/><stop offset="0.5827" stop-color="#141a5c"/><stop offset="0.7026" stop-color="#1a277b"/><stop offset="0.7496" stop-color="#2240a1"/><stop offset="0.7731" stop-color="#2b59b6"/><stop offset="0.7820" stop-color="#3167be"/><stop offset="0.7894" stop-color="#366ec1"/><stop offset="0.7956" stop-color="#366ec1"/><stop offset="0.8009" stop-color="#3369be"/><stop offset="0.8061" stop-color="#2f61ba"/><stop offset="0.8114" stop-color="#2b59b2"/><stop offset="0.8166" stop-color="#254daa"/><stop offset="0.8286" stop-color="#1c348e"/><stop offset="0.8568" stop-color="#0b0e3a"/><stop offset="0.8960" stop-color="#000"/></linearGradient><linearGradient id="gb5" gradientUnits="userSpaceOnUse" x1="-50.0" x2="10.0"><stop offset="0.1283" stop-color="#0a0c2d"/><stop offset="0.3633" stop-color="#0f1344"/><stop offset="0.5827" stop-color="#141b5d"/><stop offset="0.7013" stop-color="#1b287e"/><stop offset="0.7483" stop-color="#2344a5"/><stop offset="0.7718" stop-color="#2d5fba"/><stop offset="0.7810" stop-color="#346fc2"/><stop offset="0.7886" stop-color="#3977c5"/><stop offset="0.7948" stop-color="#3977c5"/><stop offset="0.8002" stop-color="#3671c2"/><stop offset="0.8056" stop-color="#3268be"/><stop offset="0.8110" stop-color="#2d5fb7"/><stop offset="0.8163" stop-color="#2752ae"/><stop offset="0.8286" stop-color="#1d3791"/><stop offset="0.8568" stop-color="#0b0f3b"/><stop offset="0.8960" stop-color="#000"/></linearGradient><linearGradient id="gb6" gradientUnits="userSpaceOnUse" x1="-50.0" x2="10.0"><stop offset="0.1283" stop-color="#0a0c2e"/><stop offset="0.3633" stop-color="#0f1345"/><stop offset="0.5827" stop-color="#151b5e"/><stop offset="0.6999" stop-color="#1b2980"/><stop offset="0.7469" stop-color="#2547a9"/><stop offset="0.7704" stop-color="#3065bf"/><stop offset="0.7799" stop-color="#3777c7"/><stop offset="0.7878" stop-color="#3d7fca"/><stop offset="0.7940" stop-color="#3d7fca"/><stop offset="0.7995" stop-color="#397ac7"/><stop offset="0.8050" stop-color="#346fc3"/><stop offset="0.8105" stop-color="#3065bb"/><stop offset="0.8161" stop-color="#2857b3"/><stop offset="0.8286" stop-color="#1e3995"/><stop offset="0.8568" stop-color="#0c0f3d"/><stop offset="0.8960" stop-color="#000"/></linearGradient><linearGradient id="gb7" gradientUnits="userSpaceOnUse" x1="-50.0" x2="10.0"><stop offset="0.1283" stop-color="#0a0c2e"/><stop offset="0.3633" stop-color="#0f1346"/><stop offset="0.5827" stop-color="#151c5f"/><stop offset="0.6986" stop-color="#1c2a83"/><stop offset="0.7456" stop-color="#264bad"/><stop offset="0.7691" stop-color="#326bc3"/><stop offset="0.7788" stop-color="#3a7fcb"/><stop offset="0.7870" stop-color="#4088ce"/><stop offset="0.7932" stop-color="#4088ce"/><stop offset="0.7989" stop-color="#3c82cb"/><stop offset="0.8045" stop-color="#3776c7"/><stop offset="0.8101" stop-color="#326bc0"/><stop offset="0.8158" stop-color="#2a5cb7"/><stop offset="0.8286" stop-color="#1f3c98"/><stop offset="0.8568" stop-color="#0c103e"/><stop offset="0.8960" stop-color="#000"/></linearGradient><linearGradient id="gb8" gradientUnits="userSpaceOnUse" x1="-50.0" x2="10.0"><stop offset="0.1283" stop-color="#0a0c2f"/><stop offset="0.3633" stop-color="#0f1347"/><stop offset="0.5827" stop-color="#151d60"/><stop offset="0.6966" stop-color="#1d2b86"/><stop offset="0.7430" stop-color="#274fb1"/><stop offset="0.7665" stop-color="#3471c7"/><stop offset="0.7768" stop-color="#3d86ce"/><stop offset="0.7855" stop-color="#458fce"/><stop offset="0.7921" stop-color="#468fcd"/><stop offset="0.7981" stop-color="#428aca"/><stop offset="0.8039" stop-color="#3c7ec7"/><stop offset="0.8097" stop-color="#3572c2"/><stop offset="0.8155" stop-color="#2c62bb"/><stop offset="0.8286" stop-color="#203f9b"/><stop offset="0.8568" stop-color="#0c103f"/><stop offset="0.8960" stop-color="#000"/></linearGradient><linearGradient id="gb9" gradientUnits="userSpaceOnUse" x1="-50.0" x2="10.0"><stop offset="0.1283" stop-color="#0a0c2f"/><stop offset="0.3633" stop-color="#101448"/><stop offset="0.5827" stop-color="#161d62"/><stop offset="0.6946" stop-color="#1d2d88"/><stop offset="0.7405" stop-color="#2853b4"/><stop offset="0.7640" stop-color="#3777ca"/><stop offset="0.7747" stop-color="#408cd1"/><stop offset="0.7841" stop-color="#4996cf"/><stop offset="0.7910" stop-color="#4b97cb"/><stop offset="0.7973" stop-color="#4891c9"/><stop offset="0.8033" stop-color="#4185c8"/><stop offset="0.8092" stop-color="#3979c5"/><stop offset="0.8152" stop-color="#2f67be"/><stop offset="0.8286" stop-color="#22429f"/><stop offset="0.8568" stop-color="#0d1140"/><stop offset="0.8960" stop-color="#000"/></linearGradient><linearGradient id="gb10" gradientUnits="userSpaceOnUse" x1="-50.0" x2="10.0"><stop offset="0.1283" stop-color="#0a0c30"/><stop offset="0.3633" stop-color="#101449"/><stop offset="0.5827" stop-color="#161e63"/><stop offset="0.6926" stop-color="#1e2e8b"/><stop offset="0.7379" stop-color="#2957b8"/><stop offset="0.7614" stop-color="#397dce"/><stop offset="0.7726" stop-color="#4393d4"/><stop offset="0.7827" stop-color="#4e9dcf"/><stop offset="0.7899" stop-color="#519eca"/><stop offset="0.7965" stop-color="#4e99c8"/><stop offset="0.8028" stop-color="#468dc8"/><stop offset="0.8087" stop-color="#3c80c7"/><stop offset="0.8149" stop-color="#316dc2"/><stop offset="0.8286" stop-color="#2345a2"/><stop offset="0.8568" stop-color="#0d1141"/><stop offset="0.8960" stop-color="#000"/></linearGradient><linearGradient id="gb11" gradientUnits="userSpaceOnUse" x1="-50.0" x2="10.0"><stop offset="0.1283" stop-color="#0b0d30"/><stop offset="0.3633" stop-color="#101449"/><stop offset="0.5827" stop-color="#171e64"/><stop offset="0.6905" stop-color="#1e308e"/><stop offset="0.7353" stop-color="#2b5abb"/><stop offset="0.7588" stop-color="#3b84d1"/><stop offset="0.7706" stop-color="#479ad8"/><stop offset="0.7812" stop-color="#52a5d0"/><stop offset="0.7888" stop-color="#57a6c9"/><stop offset="0.7957" stop-color="#53a1c7"/><stop offset="0.8022" stop-color="#4b95c9"/><stop offset="0.8082" stop-color="#4087ca"/><stop offset="0.8146" stop-color="#3473c5"/><stop offset="0.8286" stop-color="#2447a6"/><stop offset="0.8568" stop-color="#0e1243"/><stop offset="0.8960" stop-color="#000"/></linearGradient><linearGradient id="gb12" gradientUnits="userSpaceOnUse" x1="-50.0" x2="10.0"><stop offset="0.1283" stop-color="#0b0d31"/><stop offset="0.3633" stop-color="#10144a"/><stop offset="0.5827" stop-color="#171f65"/><stop offset="0.6885" stop-color="#1f3191"/><stop offset="0.7327" stop-color="#2c5ebf"/><stop offset="0.7562" stop-color="#3d8ad5"/><stop offset="0.7685" stop-color="#4aa1db"/><stop offset="0.7798" stop-color="#57acd0"/><stop offset="0.7877" stop-color="#5dadc8"/><stop offset="0.7950" stop-color="#59a9c6"/><stop offset="0.8016" stop-color="#509dc9"/><stop offset="0.8077" stop-color="#438ecc"/><stop offset="0.8143" stop-color="#3679c9"/><stop offset="0.8286" stop-color="#254aa9"/><stop offset="0.8568" stop-color="#0e1244"/><stop offset="0.8960" stop-color="#000"/></linearGradient><linearGradient id="gb13" gradientUnits="userSpaceOnUse" x1="-50.0" x2="10.0"><stop offset="0.1283" stop-color="#0b0d31"/><stop offset="0.3633" stop-color="#11154b"/><stop offset="0.5827" stop-color="#181f67"/><stop offset="0.6865" stop-color="#1f3393"/><stop offset="0.7302" stop-color="#2d62c2"/><stop offset="0.7537" stop-color="#4090d8"/><stop offset="0.7665" stop-color="#4da7de"/><stop offset="0.7784" stop-color="#5bb3d1"/><stop offset="0.7866" stop-color="#62b5c6"/><stop offset="0.7942" stop-color="#5fb0c5"/><stop offset="0.8010" stop-color="#55a4ca"/><stop offset="0.8072" stop-color="#4795cf"/><stop offset="0.8140" stop-color="#397ecc"/><stop offset="0.8286" stop-color="#274dad"/><stop offset="0.8568" stop-color="#0f1345"/><stop offset="0.8960" stop-color="#000"/></linearGradient><linearGradient id="gb14" gradientUnits="userSpaceOnUse" x1="-50.0" x2="10.0"><stop offset="0.1283" stop-color="#0b0d32"/><stop offset="0.3633" stop-color="#11154c"/><stop offset="0.5827" stop-color="#182068"/><stop offset="0.6845" stop-color="#203496"/><stop offset="0.7276" stop-color="#2e66c6"/><stop offset="0.7511" stop-color="#4296dc"/><stop offset="0.7644" stop-color="#50aee1"/><stop offset="0.7769" stop-color="#60bad1"/><stop offset="0.7856" stop-color="#68bcc5"/><stop offset="0.7934" stop-color="#65b8c4"/><stop offset="0.8004" stop-color="#5aacca"/><stop offset="0.8067" stop-color="#4a9cd1"/><stop offset="0.8138" stop-color="#3b84d0"/><stop offset="0.8286" stop-color="#2850b0"/><stop offset="0.8568" stop-color="#0f1346"/><stop offset="0.8960" stop-color="#000"/></linearGradient><linearGradient id="gb15" gradientUnits="userSpaceOnUse" x1="-50.0" x2="10.0"><stop offset="0.1283" stop-color="#0b0d32"/><stop offset="0.3633" stop-color="#11154c"/><stop offset="0.5806" stop-color="#182069"/><stop offset="0.6811" stop-color="#203598"/><stop offset="0.7230" stop-color="#2f69c8"/><stop offset="0.7467" stop-color="#449add"/><stop offset="0.7607" stop-color="#54b1dd"/><stop offset="0.7738" stop-color="#6abdc6"/><stop offset="0.7836" stop-color="#73bfb9"/><stop offset="0.7922" stop-color="#70bbb8"/><stop offset="0.7995" stop-color="#65b0bf"/><stop offset="0.8060" stop-color="#54a2c7"/><stop offset="0.8134" stop-color="#408acc"/><stop offset="0.8286" stop-color="#2952b2"/><stop offset="0.8569" stop-color="#0f1347"/><stop offset="0.8962" stop-color="#000"/></linearGradient><linearGradient id="gb16" gradientUnits="userSpaceOnUse" x1="-50.0" x2="10.0"><stop offset="0.1283" stop-color="#0b0d32"/><stop offset="0.3633" stop-color="#11154d"/><stop offset="0.5785" stop-color="#19216a"/><stop offset="0.6777" stop-color="#21369a"/><stop offset="0.7184" stop-color="#306cca"/><stop offset="0.7424" stop-color="#469dde"/><stop offset="0.7571" stop-color="#59b4d9"/><stop offset="0.7707" stop-color="#73c1bb"/><stop offset="0.7817" stop-color="#7ec3ad"/><stop offset="0.7909" stop-color="#7cbead"/><stop offset="0.7987" stop-color="#70b5b4"/><stop offset="0.8053" stop-color="#5ea7be"/><stop offset="0.8131" stop-color="#468fc8"/><stop offset="0.8286" stop-color="#2a54b4"/><stop offset="0.8570" stop-color="#101448"/><stop offset="0.8964" stop-color="#000"/></linearGradient><linearGradient id="gb17" gradientUnits="userSpaceOnUse" x1="-50.0" x2="10.0"><stop offset="0.1283" stop-color="#0b0d32"/><stop offset="0.3633" stop-color="#12164e"/><stop offset="0.5764" stop-color="#19216b"/><stop offset="0.6743" stop-color="#22389c"/><stop offset="0.7139" stop-color="#316fcc"/><stop offset="0.7380" stop-color="#48a1df"/><stop offset="0.7534" stop-color="#5eb7d4"/><stop offset="0.7675" stop-color="#7dc4b0"/><stop offset="0.7798" stop-color="#89c6a2"/><stop offset="0.7897" stop-color="#88c2a1"/><stop offset="0.7978" stop-color="#7cb9a9"/><stop offset="0.8047" stop-color="#68acb4"/><stop offset="0.8127" stop-color="#4c95c4"/><stop offset="0.8286" stop-color="#2b56b6"/><stop offset="0.8571" stop-color="#101448"/><stop offset="0.8966" stop-color="#000"/></linearGradient><linearGradient id="gb18" gradientUnits="userSpaceOnUse" x1="-50.0" x2="10.0"><stop offset="0.1283" stop-color="#0b0d32"/><stop offset="0.3633" stop-color="#12164e"/><stop offset="0.5743" stop-color="#19216c"/><stop offset="0.6709" stop-color="#22399d"/><stop offset="0.7093" stop-color="#3272cd"/><stop offset="0.7336" stop-color="#4aa5e0"/><stop offset="0.7498" stop-color="#62bad0"/><stop offset="0.7644" stop-color="#87c7a6"/><stop offset="0.7779" stop-color="#94c996"/><stop offset="0.7885" stop-color="#93c595"/><stop offset="0.7969" stop-color="#87bd9e"/><stop offset="0.8040" stop-color="#71b2aa"/><stop offset="0.8124" stop-color="#519bc1"/><stop offset="0.8286" stop-color="#2c57b7"/><stop offset="0.8573" stop-color="#101449"/><stop offset="0.8968" stop-color="#000"/></linearGradient><linearGradient id="gb19" gradientUnits="userSpaceOnUse" x1="-50.0" x2="10.0"><stop offset="0.1283" stop-color="#0b0d32"/><stop offset="0.3633" stop-color="#12164e"/><stop offset="0.5722" stop-color="#1a226d"/><stop offset="0.6675" stop-color="#223a9f"/><stop offset="0.7047" stop-color="#3375cf"/><stop offset="0.7293" stop-color="#4ca8e1"/><stop offset="0.7461" stop-color="#66bdcc"/><stop offset="0.7613" stop-color="#90cb9b"/><stop offset="0.7760" stop-color="#9fcd8a"/><stop offset="0.7872" stop-color="#9ec88a"/><stop offset="0.7960" stop-color="#92c293"/><stop offset="0.8033" stop-color="#7bb8a1"/><stop offset="0.8121" stop-color="#56a0bd"/><stop offset="0.8286" stop-color="#2d59b9"/><stop offset="0.8574" stop-color="#11154a"/><stop offset="0.8970" stop-color="#000"/></linearGradient><linearGradient id="gb20" gradientUnits="userSpaceOnUse" x1="-50.0" x2="10.0"><stop offset="0.1283" stop-color="#0b0d32"/><stop offset="0.3633" stop-color="#12164f"/><stop offset="0.5701" stop-color="#1a226e"/><stop offset="0.6641" stop-color="#233ba1"/><stop offset="0.7002" stop-color="#3478d1"/><stop offset="0.7249" stop-color="#4eace2"/><stop offset="0.7425" stop-color="#6bc0c8"/><stop offset="0.7581" stop-color="#9ace90"/><stop offset="0.7741" stop-color="#aad07e"/><stop offset="0.7860" stop-color="#aacb7e"/><stop offset="0.7951" stop-color="#9dc688"/><stop offset="0.8026" stop-color="#85bd97"/><stop offset="0.8117" stop-color="#5ca6b9"/><stop offset="0.8286" stop-color="#2e5bbb"/><stop offset="0.8575" stop-color="#11154b"/><stop offset="0.8973" stop-color="#000"/></linearGradient><linearGradient id="gb21" gradientUnits="userSpaceOnUse" x1="-50.0" x2="10.0"><stop offset="0.1283" stop-color="#0b0d32"/><stop offset="0.3633" stop-color="#12164f"/><stop offset="0.5661" stop-color="#1a226f"/><stop offset="0.6594" stop-color="#233ca3"/><stop offset="0.6945" stop-color="#357bd2"/><stop offset="0.7198" stop-color="#50aee3"/><stop offset="0.7378" stop-color="#71c2c0"/><stop offset="0.7535" stop-color="#a7d181"/><stop offset="0.7712" stop-color="#b7d271"/><stop offset="0.7840" stop-color="#b7cb71"/><stop offset="0.7938" stop-color="#abc779"/><stop offset="0.8018" stop-color="#93c087"/><stop offset="0.8114" stop-color="#63abb1"/><stop offset="0.8286" stop-color="#2e5cbc"/><stop offset="0.8577" stop-color="#11154c"/><stop offset="0.8977" stop-color="#000"/></linearGradient><linearGradient id="gb22" gradientUnits="userSpaceOnUse" x1="-50.0" x2="10.0"><stop offset="0.1283" stop-color="#0b0d31"/><stop offset="0.3633" stop-color="#12164f"/><stop offset="0.5620" stop-color="#1a2270"/><stop offset="0.6547" stop-color="#233da4"/><stop offset="0.6889" stop-color="#377dd4"/><stop offset="0.7146" stop-color="#52b1e4"/><stop offset="0.7332" stop-color="#77c5b8"/><stop offset="0.7489" stop-color="#b4d473"/><stop offset="0.7683" stop-color="#c3d364"/><stop offset="0.7821" stop-color="#c3cb64"/><stop offset="0.7924" stop-color="#b8c76a"/><stop offset="0.8011" stop-color="#a1c477"/><stop offset="0.8111" stop-color="#6ab0a9"/><stop offset="0.8286" stop-color="#2f5dbd"/><stop offset="0.8580" stop-color="#11154d"/><stop offset="0.8982" stop-color="#000"/></linearGradient><linearGradient id="gb23" gradientUnits="userSpaceOnUse" x1="-50.0" x2="10.0"><stop offset="0.1283" stop-color="#0a0c31"/><stop offset="0.3633" stop-color="#121650"/><stop offset="0.5579" stop-color="#1a2270"/><stop offset="0.6500" stop-color="#243ea6"/><stop offset="0.6832" stop-color="#3880d5"/><stop offset="0.7094" stop-color="#54b3e4"/><stop offset="0.7286" stop-color="#7cc7b0"/><stop offset="0.7442" stop-color="#c0d664"/><stop offset="0.7655" stop-color="#d0d558"/><stop offset="0.7801" stop-color="#d0ca58"/><stop offset="0.7911" stop-color="#c6c85c"/><stop offset="0.8003" stop-color="#afc767"/><stop offset="0.8108" stop-color="#72b6a2"/><stop offset="0.8286" stop-color="#2f5ebe"/><stop offset="0.8582" stop-color="#12164e"/><stop offset="0.8987" stop-color="#000"/></linearGradient><linearGradient id="gb24" gradientUnits="userSpaceOnUse" x1="-50.0" x2="10.0"><stop offset="0.1283" stop-color="#0a0c30"/><stop offset="0.3633" stop-color="#121650"/><stop offset="0.5538" stop-color="#1a2271"/><stop offset="0.6453" stop-color="#243fa7"/><stop offset="0.6776" stop-color="#3a82d7"/><stop offset="0.7042" stop-color="#56b6e5"/><stop offset="0.7239" stop-color="#82caa8"/><stop offset="0.7396" stop-color="#cdd956"/><stop offset="0.7626" stop-color="#dcd64b"/><stop offset="0.7781" stop-color="#dcca4b"/><stop offset="0.7897" stop-color="#d3c84d"/><stop offset="0.7995" stop-color="#bdcb57"/><stop offset="0.8105" stop-color="#79bb9a"/><stop offset="0.8286" stop-color="#305fbf"/><stop offset="0.8585" stop-color="#12164f"/><stop offset="0.8991" stop-color="#000"/></linearGradient><linearGradient id="gb25" gradientUnits="userSpaceOnUse" x1="-50.0" x2="10.0"><stop offset="0.1283" stop-color="#0a0c30"/><stop offset="0.3633" stop-color="#121650"/><stop offset="0.5498" stop-color="#1a2272"/><stop offset="0.6406" stop-color="#2440a9"/><stop offset="0.6720" stop-color="#3b85d8"/><stop offset="0.6991" stop-color="#58b8e6"/><stop offset="0.7193" stop-color="#88cca0"/><stop offset="0.7349" stop-color="#dadc47"/><stop offset="0.7597" stop-color="#e9d83e"/><stop offset="0.7762" stop-color="#e9ca3e"/><stop offset="0.7884" stop-color="#e1c93e"/><stop offset="0.7987" stop-color="#cbce47"/><stop offset="0.8101" stop-color="#80c092"/><stop offset="0.8286" stop-color="#3060c0"/><stop offset="0.8587" stop-color="#121650"/><stop offset="0.8996" stop-color="#000"/></linearGradient><linearGradient id="gb26" gradientUnits="userSpaceOnUse" x1="-50.0" x2="10.0"><stop offset="0.1283" stop-color="#0a0c30"/><stop offset="0.3633" stop-color="#121650"/><stop offset="0.5461" stop-color="#1a2272"/><stop offset="0.6297" stop-color="#2541ab"/><stop offset="0.6610" stop-color="#3d88d9"/><stop offset="0.6892" stop-color="#58b8e6"/><stop offset="0.7090" stop-color="#88cca0"/><stop offset="0.7247" stop-color="#dedd45"/><stop offset="0.7524" stop-color="#ebd03a"/><stop offset="0.7707" stop-color="#ebbb3a"/><stop offset="0.7858" stop-color="#e3b838"/><stop offset="0.7983" stop-color="#d3ca45"/><stop offset="0.8109" stop-color="#80c096"/><stop offset="0.8286" stop-color="#3060c0"/><stop offset="0.8594" stop-color="#131751"/><stop offset="0.9007" stop-color="#000"/></linearGradient><linearGradient id="gb27" gradientUnits="userSpaceOnUse" x1="-50.0" x2="10.0"><stop offset="0.1283" stop-color="#0a0c30"/><stop offset="0.3633" stop-color="#121650"/><stop offset="0.5425" stop-color="#1a2272"/><stop offset="0.6187" stop-color="#2542ac"/><stop offset="0.6500" stop-color="#408bda"/><stop offset="0.6793" stop-color="#58b8e6"/><stop offset="0.6988" stop-color="#88cca0"/><stop offset="0.7145" stop-color="#e1de44"/><stop offset="0.7451" stop-color="#ecc737"/><stop offset="0.7652" stop-color="#ecac37"/><stop offset="0.7833" stop-color="#e4a733"/><stop offset="0.7980" stop-color="#dac744"/><stop offset="0.8116" stop-color="#80c099"/><stop offset="0.8286" stop-color="#3060c0"/><stop offset="0.8602" stop-color="#131752"/><stop offset="0.9018" stop-color="#000"/></linearGradient><linearGradient id="gb28" gradientUnits="userSpaceOnUse" x1="-50.0" x2="10.0"><stop offset="0.1283" stop-color="#0a0c30"/><stop offset="0.3633" stop-color="#121650"/><stop offset="0.5388" stop-color="#1a2272"/><stop offset="0.6077" stop-color="#2643ae"/><stop offset="0.6391" stop-color="#428edb"/><stop offset="0.6695" stop-color="#58b8e6"/><stop offset="0.6886" stop-color="#88cca0"/><stop offset="0.7042" stop-color="#e5df42"/><stop offset="0.7378" stop-color="#eebf33"/><stop offset="0.7597" stop-color="#ee9d33"/><stop offset="0.7807" stop-color="#e6962d"/><stop offset="0.7976" stop-color="#e2c342"/><stop offset="0.8123" stop-color="#80c09d"/><stop offset="0.8286" stop-color="#3060c0"/><stop offset="0.8609" stop-color="#141853"/><stop offset="0.9029" stop-color="#000"/></linearGradient><linearGradient id="gb29" gradientUnits="userSpaceOnUse" x1="-50.0" x2="10.0"><stop offset="0.1283" stop-color="#0a0c30"/><stop offset="0.3633" stop-color="#121650"/><stop offset="0.5346" stop-color="#1a2272"/><stop offset="0.5999" stop-color="#2644b0"/><stop offset="0.6312" stop-color="#4390dc"/><stop offset="0.6619" stop-color="#58b8e6"/><stop offset="0.6813" stop-color="#86cba3"/><stop offset="0.6976" stop-color="#e6df41"/><stop offset="0.7325" stop-color="#efb732"/><stop offset="0.7550" stop-color="#ea852f"/><stop offset="0.7800" stop-color="#e07d2a"/><stop offset="0.7975" stop-color="#e4ba40"/><stop offset="0.8129" stop-color="#7abba3"/><stop offset="0.8296" stop-color="#2e5bbb"/><stop offset="0.8617" stop-color="#141853"/><stop offset="0.9048" stop-color="#000"/></linearGradient><linearGradient id="gb30" gradientUnits="userSpaceOnUse" x1="-50.0" x2="10.0"><stop offset="0.1283" stop-color="#0a0c30"/><stop offset="0.3633" stop-color="#121650"/><stop offset="0.5304" stop-color="#1a2272"/><stop offset="0.5921" stop-color="#2745b3"/><stop offset="0.6234" stop-color="#4593dd"/><stop offset="0.6544" stop-color="#58b8e7"/><stop offset="0.6740" stop-color="#85cba7"/><stop offset="0.6909" stop-color="#e7e041"/><stop offset="0.7273" stop-color="#efae31"/><stop offset="0.7503" stop-color="#e66e2a"/><stop offset="0.7792" stop-color="#db6526"/><stop offset="0.7974" stop-color="#e6b13d"/><stop offset="0.8134" stop-color="#73b7a8"/><stop offset="0.8305" stop-color="#2d57b7"/><stop offset="0.8626" stop-color="#141852"/><stop offset="0.9067" stop-color="#000"/></linearGradient><linearGradient id="gb31" gradientUnits="userSpaceOnUse" x1="-50.0" x2="10.0"><stop offset="0.1283" stop-color="#0a0c30"/><stop offset="0.3633" stop-color="#121650"/><stop offset="0.5263" stop-color="#1a2272"/><stop offset="0.5842" stop-color="#2746b5"/><stop offset="0.6156" stop-color="#4695de"/><stop offset="0.6469" stop-color="#58b8e7"/><stop offset="0.6666" stop-color="#83caaa"/><stop offset="0.6842" stop-color="#e8e040"/><stop offset="0.7221" stop-color="#f0a630"/><stop offset="0.7456" stop-color="#e25626"/><stop offset="0.7785" stop-color="#d54c23"/><stop offset="0.7973" stop-color="#e8a83b"/><stop offset="0.8139" stop-color="#6db2ae"/><stop offset="0.8315" stop-color="#2b52b2"/><stop offset="0.8634" stop-color="#141852"/><stop offset="0.9085" stop-color="#000"/></linearGradient><linearGradient id="gb32" gradientUnits="userSpaceOnUse" x1="-50.0" x2="10.0"><stop offset="0.1283" stop-color="#0a0c30"/><stop offset="0.3633" stop-color="#121650"/><stop offset="0.5238" stop-color="#1a2272"/><stop offset="0.5805" stop-color="#2747b6"/><stop offset="0.6118" stop-color="#4796df"/><stop offset="0.6431" stop-color="#58b8e7"/><stop offset="0.6631" stop-color="#82c9ac"/><stop offset="0.6812" stop-color="#e8e040"/><stop offset="0.7196" stop-color="#f0a130"/><stop offset="0.7431" stop-color="#de4724"/><stop offset="0.7785" stop-color="#d03c22"/><stop offset="0.7973" stop-color="#e8a23a"/><stop offset="0.8142" stop-color="#68aeb2"/><stop offset="0.8322" stop-color="#2a4eae"/><stop offset="0.8639" stop-color="#141851"/><stop offset="0.9098" stop-color="#000"/></linearGradient><linearGradient id="gb33" gradientUnits="userSpaceOnUse" x1="-50.0" x2="10.0"><stop offset="0.1283" stop-color="#0a0c30"/><stop offset="0.3633" stop-color="#121650"/><stop offset="0.5213" stop-color="#1a2272"/><stop offset="0.5767" stop-color="#2848b7"/><stop offset="0.6080" stop-color="#4897e0"/><stop offset="0.6394" stop-color="#58b8e8"/><stop offset="0.6596" stop-color="#81c8af"/><stop offset="0.6782" stop-color="#e8e040"/><stop offset="0.7171" stop-color="#f09c30"/><stop offset="0.7406" stop-color="#da3821"/><stop offset="0.7785" stop-color="#cb2c21"/><stop offset="0.7973" stop-color="#e89b39"/><stop offset="0.8144" stop-color="#63aab6"/><stop offset="0.8330" stop-color="#294aaa"/><stop offset="0.8644" stop-color="#141850"/><stop offset="0.9110" stop-color="#000"/></linearGradient><linearGradient id="gb34" gradientUnits="userSpaceOnUse" x1="-50.0" x2="10.0"><stop offset="0.1283" stop-color="#0a0c30"/><stop offset="0.3633" stop-color="#121650"/><stop offset="0.5200" stop-color="#1a2272"/><stop offset="0.5748" stop-color="#2848b8"/><stop offset="0.6062" stop-color="#4898e0"/><stop offset="0.6375" stop-color="#58b8e8"/><stop offset="0.6579" stop-color="#80c8b0"/><stop offset="0.6767" stop-color="#e8e040"/><stop offset="0.7158" stop-color="#f09a30"/><stop offset="0.7393" stop-color="#d83020"/><stop offset="0.7785" stop-color="#c82420"/><stop offset="0.7973" stop-color="#e89838"/><stop offset="0.8145" stop-color="#60a8b8"/><stop offset="0.8333" stop-color="#2848a8"/><stop offset="0.8647" stop-color="#141850"/><stop offset="0.9117" stop-color="#000"/></linearGradient><linearGradient id="gb35" gradientUnits="userSpaceOnUse" x1="-50.0" x2="10.0"><stop offset="0.1283" stop-color="#0a0c30"/><stop offset="0.3633" stop-color="#121650"/><stop offset="0.5200" stop-color="#1a2272"/><stop offset="0.5748" stop-color="#2848b8"/><stop offset="0.6062" stop-color="#4898e0"/><stop offset="0.6375" stop-color="#58b8e8"/><stop offset="0.6579" stop-color="#80c8b0"/><stop offset="0.6767" stop-color="#e8e040"/><stop offset="0.7158" stop-color="#f09a30"/><stop offset="0.7393" stop-color="#d83020"/><stop offset="0.7785" stop-color="#c82420"/><stop offset="0.7973" stop-color="#e89838"/><stop offset="0.8145" stop-color="#60a8b8"/><stop offset="0.8333" stop-color="#2848a8"/><stop offset="0.8647" stop-color="#141850"/><stop offset="0.9117" stop-color="#000"/></linearGradient><linearGradient id="gb36" gradientUnits="userSpaceOnUse" x1="-50.0" x2="10.0"><stop offset="0.1283" stop-color="#0a0c30"/><stop offset="0.3633" stop-color="#121650"/><stop offset="0.5200" stop-color="#1a2272"/><stop offset="0.5748" stop-color="#2848b8"/><stop offset="0.6062" stop-color="#4898e0"/><stop offset="0.6375" stop-color="#58b8e8"/><stop offset="0.6579" stop-color="#80c8b0"/><stop offset="0.6767" stop-color="#e8e040"/><stop offset="0.7158" stop-color="#f09a30"/><stop offset="0.7393" stop-color="#d83020"/><stop offset="0.7785" stop-color="#c82420"/><stop offset="0.7973" stop-color="#e89838"/><stop offset="0.8145" stop-color="#60a8b8"/><stop offset="0.8333" stop-color="#2848a8"/><stop offset="0.8647" stop-color="#141850"/><stop offset="0.9117" stop-color="#000"/></linearGradient><linearGradient id="gb37" gradientUnits="userSpaceOnUse" x1="-50.0" x2="10.0"><stop offset="0.1283" stop-color="#0a0c30"/><stop offset="0.3633" stop-color="#121650"/><stop offset="0.5200" stop-color="#1a2272"/><stop offset="0.5748" stop-color="#2848b8"/><stop offset="0.6062" stop-color="#4898e0"/><stop offset="0.6375" stop-color="#58b8e8"/><stop offset="0.6579" stop-color="#80c8b0"/><stop offset="0.6767" stop-color="#e8e040"/><stop offset="0.7158" stop-color="#f09a30"/><stop offset="0.7393" stop-color="#d83020"/><stop offset="0.7785" stop-color="#c82420"/><stop offset="0.7973" stop-color="#e89838"/><stop offset="0.8145" stop-color="#60a8b8"/><stop offset="0.8333" stop-color="#2848a8"/><stop offset="0.8647" stop-color="#141850"/><stop offset="0.9117" stop-color="#000"/></linearGradient><linearGradient id="gb38" gradientUnits="userSpaceOnUse" x1="-50.0" x2="10.0"><stop offset="0.1283" stop-color="#0a0c30"/><stop offset="0.3633" stop-color="#121650"/><stop offset="0.5200" stop-color="#1a2272"/><stop offset="0.5748" stop-color="#2848b8"/><stop offset="0.6062" stop-color="#4898e0"/><stop offset="0.6375" stop-color="#58b8e8"/><stop offset="0.6579" stop-color="#80c8b0"/><stop offset="0.6767" stop-color="#e8e040"/><stop offset="0.7158" stop-color="#f09a30"/><stop offset="0.7393" stop-color="#d83020"/><stop offset="0.7785" stop-color="#c82420"/><stop offset="0.7973" stop-color="#e89838"/><stop offset="0.8145" stop-color="#60a8b8"/><stop offset="0.8333" stop-color="#2848a8"/><stop offset="0.8647" stop-color="#141850"/><stop offset="0.9117" stop-color="#000"/></linearGradient><linearGradient id="gb39" gradientUnits="userSpaceOnUse" x1="-50.0" x2="10.0"><stop offset="0.1283" stop-color="#0a0c30"/><stop offset="0.3633" stop-color="#121650"/><stop offset="0.5200" stop-color="#1a2272"/><stop offset="0.5748" stop-color="#2848b8"/><stop offset="0.6062" stop-color="#4898e0"/><stop offset="0.6375" stop-color="#58b8e8"/><stop offset="0.6579" stop-color="#80c8b0"/><stop offset="0.6767" stop-color="#e8e040"/><stop offset="0.7158" stop-color="#f09a30"/><stop offset="0.7393" stop-color="#d83020"/><stop offset="0.7785" stop-color="#c82420"/><stop offset="0.7973" stop-color="#e89838"/><stop offset="0.8145" stop-color="#60a8b8"/><stop offset="0.8333" stop-color="#2848a8"/><stop offset="0.8647" stop-color="#141850"/><stop offset="0.9117" stop-color="#000"/></linearGradient><linearGradient id="gb40" gradientUnits="userSpaceOnUse" x1="-50.0" x2="10.0"><stop offset="0.1283" stop-color="#0a0c30"/><stop offset="0.3633" stop-color="#121650"/><stop offset="0.5200" stop-color="#1a2272"/><stop offset="0.5748" stop-color="#2848b8"/><stop offset="0.6062" stop-color="#4898e0"/><stop offset="0.6375" stop-color="#58b8e8"/><stop offset="0.6579" stop-color="#80c8b0"/><stop offset="0.6767" stop-color="#e8e040"/><stop offset="0.7158" stop-color="#f09a30"/><stop offset="0.7393" stop-color="#d83020"/><stop offset="0.7785" stop-color="#c82420"/><stop offset="0.7973" stop-color="#e89838"/><stop offset="0.8145" stop-color="#60a8b8"/><stop offset="0.8333" stop-color="#2848a8"/><stop offset="0.8647" stop-color="#141850"/><stop offset="0.9117" stop-color="#000"/></linearGradient><linearGradient id="gb41" gradientUnits="userSpaceOnUse" x1="-50.0" x2="10.0"><stop offset="0.1283" stop-color="#0a0c30"/><stop offset="0.3633" stop-color="#121650"/><stop offset="0.5200" stop-color="#1a2272"/><stop offset="0.5748" stop-color="#2848b8"/><stop offset="0.6062" stop-color="#4898e0"/><stop offset="0.6375" stop-color="#58b8e8"/><stop offset="0.6579" stop-color="#80c8b0"/><stop offset="0.6767" stop-color="#e8e040"/><stop offset="0.7158" stop-color="#f09a30"/><stop offset="0.7393" stop-color="#d83020"/><stop offset="0.7785" stop-color="#c82420"/><stop offset="0.7973" stop-color="#e89838"/><stop offset="0.8145" stop-color="#60a8b8"/><stop offset="0.8333" stop-color="#2848a8"/><stop offset="0.8647" stop-color="#141850"/><stop offset="0.9117" stop-color="#000"/></linearGradient><linearGradient id="gb42" gradientUnits="userSpaceOnUse" x1="-50.0" x2="10.0"><stop offset="0.1283" stop-color="#0a0c30"/><stop offset="0.3633" stop-color="#121650"/><stop offset="0.5200" stop-color="#1a2272"/><stop offset="0.5748" stop-color="#2848b8"/><stop offset="0.6062" stop-color="#4898e0"/><stop offset="0.6375" stop-color="#58b8e8"/><stop offset="0.6579" stop-color="#80c8b0"/><stop offset="0.6767" stop-color="#e8e040"/><stop offset="0.7158" stop-color="#f09a30"/><stop offset="0.7393" stop-color="#d83020"/><stop offset="0.7785" stop-color="#c82420"/><stop offset="0.7973" stop-color="#e89838"/><stop offset="0.8145" stop-color="#60a8b8"/><stop offset="0.8333" stop-color="#2848a8"/><stop offset="0.8647" stop-color="#141850"/><stop offset="0.9117" stop-color="#000"/></linearGradient><linearGradient id="gb43" gradientUnits="userSpaceOnUse" x1="-50.0" x2="10.0"><stop offset="0.1283" stop-color="#0a0c30"/><stop offset="0.3633" stop-color="#121650"/><stop offset="0.5200" stop-color="#1a2272"/><stop offset="0.5748" stop-color="#2848b8"/><stop offset="0.6062" stop-color="#4898e0"/><stop offset="0.6375" stop-color="#58b8e8"/><stop offset="0.6579" stop-color="#80c8b0"/><stop offset="0.6767" stop-color="#e8e040"/><stop offset="0.7158" stop-color="#f09a30"/><stop offset="0.7393" stop-color="#d83020"/><stop offset="0.7785" stop-color="#c82420"/><stop offset="0.7973" stop-color="#e89838"/><stop offset="0.8145" stop-color="#60a8b8"/><stop offset="0.8333" stop-color="#2848a8"/><stop offset="0.8647" stop-color="#141850"/><stop offset="0.9117" stop-color="#000"/></linearGradient><linearGradient id="gb44" gradientUnits="userSpaceOnUse" x1="-50.0" x2="10.0"><stop offset="0.1283" stop-color="#0a0c30"/><stop offset="0.3633" stop-color="#121650"/><stop offset="0.5200" stop-color="#1a2272"/><stop offset="0.5748" stop-color="#2848b8"/><stop offset="0.6062" stop-color="#4898e0"/><stop offset="0.6375" stop-color="#58b8e8"/><stop offset="0.6579" stop-color="#80c8b0"/><stop offset="0.6767" stop-color="#e8e040"/><stop offset="0.7158" stop-color="#f09a30"/><stop offset="0.7393" stop-color="#d83020"/><stop offset="0.7785" stop-color="#c82420"/><stop offset="0.7973" stop-color="#e89838"/><stop offset="0.8145" stop-color="#60a8b8"/><stop offset="0.8333" stop-color="#2848a8"/><stop offset="0.8647" stop-color="#141850"/><stop offset="0.9117" stop-color="#000"/></linearGradient><linearGradient id="gb45" gradientUnits="userSpaceOnUse" x1="-50.0" x2="10.0"><stop offset="0.1283" stop-color="#0a0c30"/><stop offset="0.3633" stop-color="#121650"/><stop offset="0.5200" stop-color="#1a2272"/><stop offset="0.5748" stop-color="#2848b8"/><stop offset="0.6062" stop-color="#4898e0"/><stop offset="0.6375" stop-color="#58b8e8"/><stop offset="0.6579" stop-color="#80c8b0"/><stop offset="0.6767" stop-color="#e8e040"/><stop offset="0.7158" stop-color="#f09a30"/><stop offset="0.7393" stop-color="#d83020"/><stop offset="0.7785" stop-color="#c82420"/><stop offset="0.7973" stop-color="#e89838"/><stop offset="0.8145" stop-color="#60a8b8"/><stop offset="0.8333" stop-color="#2848a8"/><stop offset="0.8647" stop-color="#141850"/><stop offset="0.9117" stop-color="#000"/></linearGradient><linearGradient id="gb46" gradientUnits="userSpaceOnUse" x1="-50.0" x2="10.0"><stop offset="0.1283" stop-color="#0a0c30"/><stop offset="0.3633" stop-color="#121650"/><stop offset="0.5200" stop-color="#1a2272"/><stop offset="0.5748" stop-color="#2848b8"/><stop offset="0.6062" stop-color="#4898e0"/><stop offset="0.6375" stop-color="#58b8e8"/><stop offset="0.6579" stop-color="#80c8b0"/><stop offset="0.6767" stop-color="#e8e040"/><stop offset="0.7158" stop-color="#f09a30"/><stop offset="0.7393" stop-color="#d83020"/><stop offset="0.7785" stop-color="#c82420"/><stop offset="0.7973" stop-color="#e89838"/><stop offset="0.8145" stop-color="#60a8b8"/><stop offset="0.8333" stop-color="#2848a8"/><stop offset="0.8647" stop-color="#141850"/><stop offset="0.9117" stop-color="#000"/></linearGradient><linearGradient id="gb47" gradientUnits="userSpaceOnUse" x1="-50.0" x2="10.0"><stop offset="0.1283" stop-color="#0a0c30"/><stop offset="0.3633" stop-color="#121650"/><stop offset="0.5200" stop-color="#1a2272"/><stop offset="0.5748" stop-color="#2848b8"/><stop offset="0.6062" stop-color="#4898e0"/><stop offset="0.6375" stop-color="#58b8e8"/><stop offset="0.6579" stop-color="#80c8b0"/><stop offset="0.6767" stop-color="#e8e040"/><stop offset="0.7158" stop-color="#f09a30"/><stop offset="0.7393" stop-color="#d83020"/><stop offset="0.7785" stop-color="#c82420"/><stop offset="0.7973" stop-color="#e89838"/><stop offset="0.8145" stop-color="#60a8b8"/><stop offset="0.8333" stop-color="#2848a8"/><stop offset="0.8647" stop-color="#141850"/><stop offset="0.9117" stop-color="#000"/></linearGradient><linearGradient id="gb48" gradientUnits="userSpaceOnUse" x1="-50.0" x2="10.0"><stop offset="0.1283" stop-color="#0a0c30"/><stop offset="0.3633" stop-color="#121650"/><stop offset="0.5200" stop-color="#1a2272"/><stop offset="0.5748" stop-color="#2848b8"/><stop offset="0.6062" stop-color="#4898e0"/><stop offset="0.6375" stop-color="#58b8e8"/><stop offset="0.6579" stop-color="#80c8b0"/><stop offset="0.6767" stop-color="#e8e040"/><stop offset="0.7158" stop-color="#f09a30"/><stop offset="0.7393" stop-color="#d83020"/><stop offset="0.7785" stop-color="#c82420"/><stop offset="0.7973" stop-color="#e89838"/><stop offset="0.8145" stop-color="#60a8b8"/><stop offset="0.8333" stop-color="#2848a8"/><stop offset="0.8647" stop-color="#141850"/><stop offset="0.9117" stop-color="#000"/></linearGradient><linearGradient id="gb49" gradientUnits="userSpaceOnUse" x1="-50.0" x2="10.0"><stop offset="0.1283" stop-color="#0a0c30"/><stop offset="0.3633" stop-color="#121650"/><stop offset="0.5200" stop-color="#1a2272"/><stop offset="0.5748" stop-color="#2848b8"/><stop offset="0.6062" stop-color="#4898e0"/><stop offset="0.6375" stop-color="#58b8e8"/><stop offset="0.6579" stop-color="#80c8b0"/><stop offset="0.6767" stop-color="#e8e040"/><stop offset="0.7158" stop-color="#f09a30"/><stop offset="0.7393" stop-color="#d83020"/><stop offset="0.7785" stop-color="#c82420"/><stop offset="0.7973" stop-color="#e89838"/><stop offset="0.8145" stop-color="#60a8b8"/><stop offset="0.8333" stop-color="#2848a8"/><stop offset="0.8647" stop-color="#141850"/><stop offset="0.9117" stop-color="#000"/></linearGradient><linearGradient id="gb50" gradientUnits="userSpaceOnUse" x1="-50.0" x2="10.0"><stop offset="0.1283" stop-color="#0a0c30"/><stop offset="0.3633" stop-color="#121650"/><stop offset="0.5218" stop-color="#1a2272"/><stop offset="0.5776" stop-color="#2848b7"/><stop offset="0.6089" stop-color="#4897e0"/><stop offset="0.6402" stop-color="#58b8e8"/><stop offset="0.6604" stop-color="#81c8ae"/><stop offset="0.6789" stop-color="#e8e040"/><stop offset="0.7177" stop-color="#f09e30"/><stop offset="0.7412" stop-color="#db3b22"/><stop offset="0.7785" stop-color="#cc3021"/><stop offset="0.7973" stop-color="#e89d39"/><stop offset="0.8144" stop-color="#64abb5"/><stop offset="0.8328" stop-color="#294bab"/><stop offset="0.8643" stop-color="#141850"/><stop offset="0.9108" stop-color="#000"/></linearGradient><linearGradient id="gb51" gradientUnits="userSpaceOnUse" x1="-50.0" x2="10.0"><stop offset="0.1283" stop-color="#0a0c30"/><stop offset="0.3633" stop-color="#121650"/><stop offset="0.5255" stop-color="#1a2272"/><stop offset="0.5831" stop-color="#2846b5"/><stop offset="0.6144" stop-color="#4695de"/><stop offset="0.6457" stop-color="#58b8e8"/><stop offset="0.6655" stop-color="#83caaa"/><stop offset="0.6832" stop-color="#e8e040"/><stop offset="0.7213" stop-color="#f0a430"/><stop offset="0.7448" stop-color="#e05226"/><stop offset="0.7785" stop-color="#d34723"/><stop offset="0.7973" stop-color="#e8a63b"/><stop offset="0.8140" stop-color="#6bb0b0"/><stop offset="0.8317" stop-color="#2b50b0"/><stop offset="0.8636" stop-color="#141852"/><stop offset="0.9089" stop-color="#000"/></linearGradient><linearGradient id="gb52" gradientUnits="userSpaceOnUse" x1="-50.0" x2="10.0"><stop offset="0.1283" stop-color="#0a0c30"/><stop offset="0.3633" stop-color="#121650"/><stop offset="0.5291" stop-color="#1a2272"/><stop offset="0.5885" stop-color="#2746b3"/><stop offset="0.6199" stop-color="#4693de"/><stop offset="0.6512" stop-color="#58b8e7"/><stop offset="0.6707" stop-color="#85caa7"/><stop offset="0.6876" stop-color="#e8e040"/><stop offset="0.7250" stop-color="#f0ac30"/><stop offset="0.7485" stop-color="#e66829"/><stop offset="0.7785" stop-color="#da5e25"/><stop offset="0.7973" stop-color="#e8af3d"/><stop offset="0.8136" stop-color="#72b6aa"/><stop offset="0.8306" stop-color="#2d56b6"/><stop offset="0.8628" stop-color="#141852"/><stop offset="0.9071" stop-color="#000"/></linearGradient><linearGradient id="gb53" gradientUnits="userSpaceOnUse" x1="-50.0" x2="10.0"><stop offset="0.1283" stop-color="#0a0c30"/><stop offset="0.3633" stop-color="#121650"/><stop offset="0.5328" stop-color="#1a2272"/><stop offset="0.5956" stop-color="#2744b1"/><stop offset="0.6269" stop-color="#4491dc"/><stop offset="0.6579" stop-color="#58b8e7"/><stop offset="0.6772" stop-color="#86cba4"/><stop offset="0.6937" stop-color="#e7e040"/><stop offset="0.7297" stop-color="#f0b331"/><stop offset="0.7526" stop-color="#ea7c2d"/><stop offset="0.7792" stop-color="#df7428"/><stop offset="0.7974" stop-color="#e6b73f"/><stop offset="0.8131" stop-color="#78baa5"/><stop offset="0.8298" stop-color="#2e5aba"/><stop offset="0.8621" stop-color="#141853"/><stop offset="0.9055" stop-color="#000"/></linearGradient><linearGradient id="gb54" gradientUnits="userSpaceOnUse" x1="-50.0" x2="10.0"><stop offset="0.1283" stop-color="#0a0c30"/><stop offset="0.3633" stop-color="#121650"/><stop offset="0.5364" stop-color="#1a2272"/><stop offset="0.6042" stop-color="#2644b0"/><stop offset="0.6355" stop-color="#428edc"/><stop offset="0.6659" stop-color="#58b8e6"/><stop offset="0.6853" stop-color="#87cca2"/><stop offset="0.7014" stop-color="#e5df42"/><stop offset="0.7354" stop-color="#eeba33"/><stop offset="0.7574" stop-color="#eb8e30"/><stop offset="0.7807" stop-color="#e2882c"/><stop offset="0.7976" stop-color="#e2bd40"/><stop offset="0.8126" stop-color="#7bbca0"/><stop offset="0.8293" stop-color="#2f5cbc"/><stop offset="0.8614" stop-color="#141852"/><stop offset="0.9041" stop-color="#000"/></linearGradient><linearGradient id="gb55" gradientUnits="userSpaceOnUse" x1="-50.0" x2="10.0"><stop offset="0.1283" stop-color="#0a0c30"/><stop offset="0.3633" stop-color="#121650"/><stop offset="0.5401" stop-color="#1a2272"/><stop offset="0.6128" stop-color="#2542ae"/><stop offset="0.6442" stop-color="#418cda"/><stop offset="0.6739" stop-color="#58b8e6"/><stop offset="0.6933" stop-color="#88cca1"/><stop offset="0.7091" stop-color="#e3de42"/><stop offset="0.7412" stop-color="#eec235"/><stop offset="0.7621" stop-color="#eca134"/><stop offset="0.7822" stop-color="#e49b30"/><stop offset="0.7978" stop-color="#ddc342"/><stop offset="0.8120" stop-color="#7ebf9c"/><stop offset="0.8289" stop-color="#305fbf"/><stop offset="0.8606" stop-color="#131752"/><stop offset="0.9027" stop-color="#000"/></linearGradient><linearGradient id="gb56" gradientUnits="userSpaceOnUse" x1="-50.0" x2="10.0"><stop offset="0.1283" stop-color="#0a0c30"/><stop offset="0.3633" stop-color="#121650"/><stop offset="0.5433" stop-color="#1a2272"/><stop offset="0.6212" stop-color="#2542ac"/><stop offset="0.6525" stop-color="#3f8ada"/><stop offset="0.6815" stop-color="#58b8e6"/><stop offset="0.7011" stop-color="#88cca0"/><stop offset="0.7168" stop-color="#e1de44"/><stop offset="0.7467" stop-color="#ecc937"/><stop offset="0.7664" stop-color="#ecaf37"/><stop offset="0.7838" stop-color="#e4ab34"/><stop offset="0.7981" stop-color="#d8c744"/><stop offset="0.8114" stop-color="#80c099"/><stop offset="0.8286" stop-color="#3060c0"/><stop offset="0.8600" stop-color="#131752"/><stop offset="0.9016" stop-color="#000"/></linearGradient><linearGradient id="gb57" gradientUnits="userSpaceOnUse" x1="-50.0" x2="10.0"><stop offset="0.1283" stop-color="#0a0c30"/><stop offset="0.3633" stop-color="#121650"/><stop offset="0.5460" stop-color="#1a2272"/><stop offset="0.6292" stop-color="#2541ab"/><stop offset="0.6606" stop-color="#3d88d9"/><stop offset="0.6888" stop-color="#58b8e6"/><stop offset="0.7086" stop-color="#88cca0"/><stop offset="0.7243" stop-color="#dedd45"/><stop offset="0.7521" stop-color="#ebcf3a"/><stop offset="0.7704" stop-color="#ebba3a"/><stop offset="0.7857" stop-color="#e3b738"/><stop offset="0.7983" stop-color="#d3ca45"/><stop offset="0.8109" stop-color="#80c096"/><stop offset="0.8286" stop-color="#3060c0"/><stop offset="0.8595" stop-color="#131751"/><stop offset="0.9007" stop-color="#000"/></linearGradient><linearGradient id="gb58" gradientUnits="userSpaceOnUse" x1="-50.0" x2="10.0"><stop offset="0.1283" stop-color="#0a0c30"/><stop offset="0.3633" stop-color="#121650"/><stop offset="0.5486" stop-color="#1a2272"/><stop offset="0.6373" stop-color="#2441a9"/><stop offset="0.6686" stop-color="#3c86d9"/><stop offset="0.6960" stop-color="#58b8e6"/><stop offset="0.7161" stop-color="#88cca0"/><stop offset="0.7318" stop-color="#dbdd47"/><stop offset="0.7575" stop-color="#e9d63d"/><stop offset="0.7745" stop-color="#e9c53d"/><stop offset="0.7876" stop-color="#e1c43c"/><stop offset="0.7986" stop-color="#cdcd47"/><stop offset="0.8104" stop-color="#80c093"/><stop offset="0.8286" stop-color="#3060c0"/><stop offset="0.8589" stop-color="#121651"/><stop offset="0.8999" stop-color="#000"/></linearGradient><linearGradient id="gb59" gradientUnits="userSpaceOnUse" x1="-50.0" x2="10.0"><stop offset="0.1283" stop-color="#0a0c30"/><stop offset="0.3633" stop-color="#121650"/><stop offset="0.5513" stop-color="#1a2272"/><stop offset="0.6453" stop-color="#2440a8"/><stop offset="0.6767" stop-color="#3a84d8"/><stop offset="0.7033" stop-color="#58b8e6"/><stop offset="0.7237" stop-color="#88cca0"/><stop offset="0.7393" stop-color="#d8dc48"/><stop offset="0.7628" stop-color="#e8dc40"/><stop offset="0.7785" stop-color="#e8d040"/><stop offset="0.7895" stop-color="#e0d040"/><stop offset="0.7989" stop-color="#c8d048"/><stop offset="0.8098" stop-color="#80c090"/><stop offset="0.8286" stop-color="#3060c0"/><stop offset="0.8584" stop-color="#121650"/><stop offset="0.8991" stop-color="#000"/></linearGradient><linearGradient id="gb60" gradientUnits="userSpaceOnUse" x1="-50.0" x2="10.0"><stop offset="0.1283" stop-color="#0a0c30"/><stop offset="0.3633" stop-color="#121650"/><stop offset="0.5560" stop-color="#1a2271"/><stop offset="0.6500" stop-color="#243fa6"/><stop offset="0.6825" stop-color="#3881d6"/><stop offset="0.7087" stop-color="#56b5e5"/><stop offset="0.7284" stop-color="#81c9aa"/><stop offset="0.7440" stop-color="#c8d85a"/><stop offset="0.7657" stop-color="#d8d950"/><stop offset="0.7804" stop-color="#d8cf50"/><stop offset="0.7909" stop-color="#cfce52"/><stop offset="0.7998" stop-color="#b7cb5c"/><stop offset="0.8103" stop-color="#77ba9a"/><stop offset="0.8286" stop-color="#305fbf"/><stop offset="0.8582" stop-color="#12164f"/><stop offset="0.8987" stop-color="#000"/></linearGradient><linearGradient id="gb61" gradientUnits="userSpaceOnUse" x1="-50.0" x2="10.0"><stop offset="0.1283" stop-color="#0a0c31"/><stop offset="0.3633" stop-color="#121650"/><stop offset="0.5607" stop-color="#1a2270"/><stop offset="0.6547" stop-color="#243ea4"/><stop offset="0.6884" stop-color="#377ed4"/><stop offset="0.7141" stop-color="#53b2e4"/><stop offset="0.7331" stop-color="#7ac6b4"/><stop offset="0.7487" stop-color="#b9d56c"/><stop offset="0.7685" stop-color="#c9d65f"/><stop offset="0.7823" stop-color="#c9ce5f"/><stop offset="0.7923" stop-color="#becb64"/><stop offset="0.8007" stop-color="#a6c670"/><stop offset="0.8108" stop-color="#6eb3a4"/><stop offset="0.8286" stop-color="#2f5ebe"/><stop offset="0.8579" stop-color="#12164e"/><stop offset="0.8982" stop-color="#000"/></linearGradient><linearGradient id="gb62" gradientUnits="userSpaceOnUse" x1="-50.0" x2="10.0"><stop offset="0.1283" stop-color="#0b0d32"/><stop offset="0.3633" stop-color="#12164f"/><stop offset="0.5654" stop-color="#1a226f"/><stop offset="0.6594" stop-color="#233ca3"/><stop offset="0.6943" stop-color="#367bd3"/><stop offset="0.7195" stop-color="#50afe3"/><stop offset="0.7378" stop-color="#72c3be"/><stop offset="0.7534" stop-color="#aad27e"/><stop offset="0.7713" stop-color="#bad36e"/><stop offset="0.7841" stop-color="#bacc6e"/><stop offset="0.7937" stop-color="#aec876"/><stop offset="0.8017" stop-color="#96c283"/><stop offset="0.8112" stop-color="#65acaf"/><stop offset="0.8286" stop-color="#2e5cbc"/><stop offset="0.8577" stop-color="#11154c"/><stop offset="0.8977" stop-color="#000"/></linearGradient><linearGradient id="gb63" gradientUnits="userSpaceOnUse" x1="-50.0" x2="10.0"><stop offset="0.1283" stop-color="#0b0d32"/><stop offset="0.3633" stop-color="#12164f"/><stop offset="0.5701" stop-color="#1a226e"/><stop offset="0.6641" stop-color="#233ba1"/><stop offset="0.7002" stop-color="#3478d1"/><stop offset="0.7249" stop-color="#4eace2"/><stop offset="0.7425" stop-color="#6bc0c8"/><stop offset="0.7581" stop-color="#9ace90"/><stop offset="0.7741" stop-color="#aad07e"/><stop offset="0.7860" stop-color="#aacb7e"/><stop offset="0.7951" stop-color="#9dc688"/><stop offset="0.8026" stop-color="#85bd97"/><stop offset="0.8117" stop-color="#5ca6b9"/><stop offset="0.8286" stop-color="#2e5bbb"/><stop offset="0.8575" stop-color="#11154b"/><stop offset="0.8973" stop-color="#000"/></linearGradient><linearGradient id="gb64" gradientUnits="userSpaceOnUse" x1="-50.0" x2="10.0"><stop offset="0.1283" stop-color="#0b0d32"/><stop offset="0.3633" stop-color="#12164e"/><stop offset="0.5724" stop-color="#1a226d"/><stop offset="0.6681" stop-color="#223a9f"/><stop offset="0.7056" stop-color="#3374cf"/><stop offset="0.7301" stop-color="#4ca7e1"/><stop offset="0.7468" stop-color="#66bccd"/><stop offset="0.7618" stop-color="#8fca9c"/><stop offset="0.7763" stop-color="#9dcc8c"/><stop offset="0.7874" stop-color="#9dc78c"/><stop offset="0.7961" stop-color="#90c195"/><stop offset="0.8034" stop-color="#7ab6a2"/><stop offset="0.8121" stop-color="#569fbd"/><stop offset="0.8286" stop-color="#2d59b9"/><stop offset="0.8573" stop-color="#11154a"/><stop offset="0.8970" stop-color="#000"/></linearGradient><linearGradient id="gb65" gradientUnits="userSpaceOnUse" x1="-50.0" x2="10.0"><stop offset="0.1283" stop-color="#0b0d32"/><stop offset="0.3633" stop-color="#12164e"/><stop offset="0.5747" stop-color="#19216b"/><stop offset="0.6721" stop-color="#22389d"/><stop offset="0.7110" stop-color="#3271cd"/><stop offset="0.7353" stop-color="#49a3df"/><stop offset="0.7511" stop-color="#60b9d1"/><stop offset="0.7654" stop-color="#84c6a9"/><stop offset="0.7786" stop-color="#90c89a"/><stop offset="0.7889" stop-color="#8fc39a"/><stop offset="0.7972" stop-color="#83bba1"/><stop offset="0.8042" stop-color="#6eb0ac"/><stop offset="0.8125" stop-color="#4f99c1"/><stop offset="0.8286" stop-color="#2b56b6"/><stop offset="0.8572" stop-color="#101449"/><stop offset="0.8968" stop-color="#000"/></linearGradient><linearGradient id="gb66" gradientUnits="userSpaceOnUse" x1="-50.0" x2="10.0"><stop offset="0.1283" stop-color="#0b0d32"/><stop offset="0.3633" stop-color="#11154d"/><stop offset="0.5770" stop-color="#19216a"/><stop offset="0.6761" stop-color="#21379a"/><stop offset="0.7164" stop-color="#316dca"/><stop offset="0.7405" stop-color="#479ede"/><stop offset="0.7555" stop-color="#5bb5d6"/><stop offset="0.7691" stop-color="#79c2b5"/><stop offset="0.7808" stop-color="#83c4a8"/><stop offset="0.7903" stop-color="#82bfa7"/><stop offset="0.7982" stop-color="#76b6ae"/><stop offset="0.8050" stop-color="#63a9b7"/><stop offset="0.8129" stop-color="#4992c5"/><stop offset="0.8286" stop-color="#2a54b4"/><stop offset="0.8571" stop-color="#101448"/><stop offset="0.8966" stop-color="#000"/></linearGradient><linearGradient id="gb67" gradientUnits="userSpaceOnUse" x1="-50.0" x2="10.0"><stop offset="0.1283" stop-color="#0b0d32"/><stop offset="0.3633" stop-color="#11154d"/><stop offset="0.5792" stop-color="#192169"/><stop offset="0.6801" stop-color="#213598"/><stop offset="0.7218" stop-color="#3069c8"/><stop offset="0.7457" stop-color="#459add"/><stop offset="0.7598" stop-color="#56b1da"/><stop offset="0.7727" stop-color="#6ebec1"/><stop offset="0.7830" stop-color="#76c0b6"/><stop offset="0.7917" stop-color="#74bbb5"/><stop offset="0.7992" stop-color="#69b0bb"/><stop offset="0.8058" stop-color="#58a2c2"/><stop offset="0.8133" stop-color="#438bc9"/><stop offset="0.8286" stop-color="#2952b2"/><stop offset="0.8570" stop-color="#101447"/><stop offset="0.8963" stop-color="#000"/></linearGradient><linearGradient id="gb68" gradientUnits="userSpaceOnUse" x1="-50.0" x2="10.0"><stop offset="0.1283" stop-color="#0b0d32"/><stop offset="0.3633" stop-color="#11154c"/><stop offset="0.5815" stop-color="#182068"/><stop offset="0.6841" stop-color="#203496"/><stop offset="0.7272" stop-color="#2f66c6"/><stop offset="0.7508" stop-color="#4295dc"/><stop offset="0.7641" stop-color="#51aedf"/><stop offset="0.7764" stop-color="#63bace"/><stop offset="0.7852" stop-color="#69bcc4"/><stop offset="0.7931" stop-color="#67b7c3"/><stop offset="0.8002" stop-color="#5cabc8"/><stop offset="0.8066" stop-color="#4d9bcd"/><stop offset="0.8137" stop-color="#3c84cd"/><stop offset="0.8286" stop-color="#284faf"/><stop offset="0.8569" stop-color="#0f1346"/><stop offset="0.8961" stop-color="#000"/></linearGradient><linearGradient id="gb69" gradientUnits="userSpaceOnUse" x1="-50.0" x2="10.0"><stop offset="0.1283" stop-color="#0b0d32"/><stop offset="0.3633" stop-color="#11154c"/><stop offset="0.5827" stop-color="#182066"/><stop offset="0.6870" stop-color="#203294"/><stop offset="0.7311" stop-color="#2d62c3"/><stop offset="0.7546" stop-color="#4090d9"/><stop offset="0.7672" stop-color="#4ca9df"/><stop offset="0.7789" stop-color="#5bb4d4"/><stop offset="0.7869" stop-color="#60b6cb"/><stop offset="0.7942" stop-color="#5db1ca"/><stop offset="0.8010" stop-color="#54a4cd"/><stop offset="0.8073" stop-color="#4595d1"/><stop offset="0.8141" stop-color="#387ecd"/><stop offset="0.8286" stop-color="#264dac"/><stop offset="0.8568" stop-color="#0f1345"/><stop offset="0.8960" stop-color="#000"/></linearGradient><linearGradient id="gb70" gradientUnits="userSpaceOnUse" x1="-50.0" x2="10.0"><stop offset="0.1283" stop-color="#0b0d31"/><stop offset="0.3633" stop-color="#11154b"/><stop offset="0.5827" stop-color="#171f65"/><stop offset="0.6890" stop-color="#1f3191"/><stop offset="0.7335" stop-color="#2c5ebf"/><stop offset="0.7570" stop-color="#3e8ad5"/><stop offset="0.7692" stop-color="#49a2dc"/><stop offset="0.7802" stop-color="#56add3"/><stop offset="0.7879" stop-color="#5baecc"/><stop offset="0.7950" stop-color="#58a9ca"/><stop offset="0.8016" stop-color="#4f9ccc"/><stop offset="0.8077" stop-color="#428ece"/><stop offset="0.8143" stop-color="#3678c9"/><stop offset="0.8286" stop-color="#254aa9"/><stop offset="0.8568" stop-color="#0e1244"/><stop offset="0.8960" stop-color="#000"/></linearGradient><linearGradient id="gb71" gradientUnits="userSpaceOnUse" x1="-50.0" x2="10.0"><stop offset="0.1283" stop-color="#0b0d30"/><stop offset="0.3633" stop-color="#10144a"/><stop offset="0.5827" stop-color="#171e64"/><stop offset="0.6909" stop-color="#1e308e"/><stop offset="0.7360" stop-color="#2b5abc"/><stop offset="0.7595" stop-color="#3b84d2"/><stop offset="0.7711" stop-color="#469bd9"/><stop offset="0.7816" stop-color="#52a6d2"/><stop offset="0.7890" stop-color="#56a7cc"/><stop offset="0.7958" stop-color="#52a1ca"/><stop offset="0.8022" stop-color="#4a95cb"/><stop offset="0.8082" stop-color="#3f87cb"/><stop offset="0.8146" stop-color="#3373c6"/><stop offset="0.8286" stop-color="#2447a6"/><stop offset="0.8568" stop-color="#0e1243"/><stop offset="0.8960" stop-color="#000"/></linearGradient><linearGradient id="gb72" gradientUnits="userSpaceOnUse" x1="-50.0" x2="10.0"><stop offset="0.1283" stop-color="#0a0c30"/><stop offset="0.3633" stop-color="#101449"/><stop offset="0.5827" stop-color="#161e63"/><stop offset="0.6928" stop-color="#1e2e8b"/><stop offset="0.7384" stop-color="#2a57b8"/><stop offset="0.7619" stop-color="#397dce"/><stop offset="0.7730" stop-color="#4394d5"/><stop offset="0.7829" stop-color="#4d9ed1"/><stop offset="0.7900" stop-color="#509fcd"/><stop offset="0.7966" stop-color="#4d9acb"/><stop offset="0.8028" stop-color="#458dca"/><stop offset="0.8087" stop-color="#3c80c8"/><stop offset="0.8149" stop-color="#316dc2"/><stop offset="0.8286" stop-color="#2344a2"/><stop offset="0.8568" stop-color="#0d1142"/><stop offset="0.8960" stop-color="#000"/></linearGradient><linearGradient id="gb73" gradientUnits="userSpaceOnUse" x1="-50.0" x2="10.0"><stop offset="0.1283" stop-color="#0a0c2f"/><stop offset="0.3633" stop-color="#101448"/><stop offset="0.5827" stop-color="#161d61"/><stop offset="0.6947" stop-color="#1d2d89"/><stop offset="0.7408" stop-color="#2853b4"/><stop offset="0.7643" stop-color="#3777ca"/><stop offset="0.7750" stop-color="#408dd2"/><stop offset="0.7843" stop-color="#4997d0"/><stop offset="0.7911" stop-color="#4b97cd"/><stop offset="0.7973" stop-color="#4792cb"/><stop offset="0.8033" stop-color="#4185c9"/><stop offset="0.8092" stop-color="#3879c6"/><stop offset="0.8152" stop-color="#2f67be"/><stop offset="0.8286" stop-color="#21429f"/><stop offset="0.8568" stop-color="#0d1140"/><stop offset="0.8960" stop-color="#000"/></linearGradient><linearGradient id="gb74" gradientUnits="userSpaceOnUse" x1="-50.0" x2="10.0"><stop offset="0.1283" stop-color="#0a0c2f"/><stop offset="0.3633" stop-color="#0f1347"/><stop offset="0.5827" stop-color="#151d60"/><stop offset="0.6967" stop-color="#1d2b86"/><stop offset="0.7432" stop-color="#274fb1"/><stop offset="0.7667" stop-color="#3471c7"/><stop offset="0.7769" stop-color="#3d86ce"/><stop offset="0.7856" stop-color="#448fcf"/><stop offset="0.7922" stop-color="#4590ce"/><stop offset="0.7981" stop-color="#428acb"/><stop offset="0.8039" stop-color="#3c7ec8"/><stop offset="0.8097" stop-color="#3572c3"/><stop offset="0.8155" stop-color="#2c62bb"/><stop offset="0.8286" stop-color="#203f9b"/><stop offset="0.8568" stop-color="#0c103f"/><stop offset="0.8960" stop-color="#000"/></linearGradient><linearGradient id="gb75" gradientUnits="userSpaceOnUse" x1="-50.0" x2="10.0"><stop offset="0.1283" stop-color="#0a0c2e"/><stop offset="0.3633" stop-color="#0f1346"/><stop offset="0.5827" stop-color="#151c5f"/><stop offset="0.6986" stop-color="#1c2a83"/><stop offset="0.7456" stop-color="#264bad"/><stop offset="0.7691" stop-color="#326bc3"/><stop offset="0.7788" stop-color="#3a7fcb"/><stop offset="0.7870" stop-color="#4088ce"/><stop offset="0.7932" stop-color="#4088ce"/><stop offset="0.7989" stop-color="#3c82cb"/><stop offset="0.8045" stop-color="#3776c7"/><stop offset="0.8101" stop-color="#326bc0"/><stop offset="0.8158" stop-color="#2a5cb7"/><stop offset="0.8286" stop-color="#1f3c98"/><stop offset="0.8568" stop-color="#0c103e"/><stop offset="0.8960" stop-color="#000"/></linearGradient><linearGradient id="gb76" gradientUnits="userSpaceOnUse" x1="-50.0" x2="10.0"><stop offset="0.1283" stop-color="#0a0c2e"/><stop offset="0.3633" stop-color="#0f1345"/><stop offset="0.5827" stop-color="#151b5e"/><stop offset="0.7002" stop-color="#1b2980"/><stop offset="0.7472" stop-color="#2447a8"/><stop offset="0.7707" stop-color="#2f64be"/><stop offset="0.7801" stop-color="#3776c6"/><stop offset="0.7879" stop-color="#3c7ec9"/><stop offset="0.7942" stop-color="#3c7ec9"/><stop offset="0.7996" stop-color="#3878c6"/><stop offset="0.8051" stop-color="#346ec2"/><stop offset="0.8106" stop-color="#2f64bb"/><stop offset="0.8161" stop-color="#2856b2"/><stop offset="0.8286" stop-color="#1e3994"/><stop offset="0.8568" stop-color="#0c0f3c"/><stop offset="0.8960" stop-color="#000"/></linearGradient><linearGradient id="gb77" gradientUnits="userSpaceOnUse" x1="-50.0" x2="10.0"><stop offset="0.1283" stop-color="#0a0c2d"/><stop offset="0.3633" stop-color="#0f1344"/><stop offset="0.5827" stop-color="#141b5d"/><stop offset="0.7017" stop-color="#1b277d"/><stop offset="0.7487" stop-color="#2343a3"/><stop offset="0.7722" stop-color="#2d5db9"/><stop offset="0.7813" stop-color="#336dc1"/><stop offset="0.7888" stop-color="#3874c4"/><stop offset="0.7951" stop-color="#3874c4"/><stop offset="0.8004" stop-color="#356fc1"/><stop offset="0.8058" stop-color="#3165bd"/><stop offset="0.8111" stop-color="#2d5db5"/><stop offset="0.8164" stop-color="#2650ad"/><stop offset="0.8286" stop-color="#1d3690"/><stop offset="0.8568" stop-color="#0b0f3b"/><stop offset="0.8960" stop-color="#000"/></linearGradient><linearGradient id="gb78" gradientUnits="userSpaceOnUse" x1="-50.0" x2="10.0"><stop offset="0.1283" stop-color="#0a0c2d"/><stop offset="0.3633" stop-color="#0e1243"/><stop offset="0.5827" stop-color="#141a5c"/><stop offset="0.7033" stop-color="#1a267a"/><stop offset="0.7503" stop-color="#213e9e"/><stop offset="0.7738" stop-color="#2a56b4"/><stop offset="0.7826" stop-color="#3064bc"/><stop offset="0.7898" stop-color="#346abf"/><stop offset="0.7960" stop-color="#346abf"/><stop offset="0.8012" stop-color="#3165bc"/><stop offset="0.8064" stop-color="#2e5db8"/><stop offset="0.8116" stop-color="#2a56b0"/><stop offset="0.8167" stop-color="#244aa8"/><stop offset="0.8286" stop-color="#1c338c"/><stop offset="0.8568" stop-color="#0b0e39"/><stop offset="0.8960" stop-color="#000"/></linearGradient><linearGradient id="gb79" gradientUnits="userSpaceOnUse" x1="-50.0" x2="10.0"><stop offset="0.1283" stop-color="#0a0c2d"/><stop offset="0.3633" stop-color="#0e1242"/><stop offset="0.5827" stop-color="#14195a"/><stop offset="0.7049" stop-color="#192576"/><stop offset="0.7519" stop-color="#1f3a9a"/><stop offset="0.7754" stop-color="#274eae"/><stop offset="0.7838" stop-color="#2d5ab6"/><stop offset="0.7907" stop-color="#3060ba"/><stop offset="0.7970" stop-color="#3060ba"/><stop offset="0.8020" stop-color="#2d5bb6"/><stop offset="0.8070" stop-color="#2a55b2"/><stop offset="0.8120" stop-color="#274eab"/><stop offset="0.8170" stop-color="#2244a2"/><stop offset="0.8286" stop-color="#1a3088"/><stop offset="0.8568" stop-color="#0b0d37"/><stop offset="0.8960" stop-color="#000"/></linearGradient><linearGradient id="gb80" gradientUnits="userSpaceOnUse" x1="-50.0" x2="10.0"><stop offset="0.1283" stop-color="#0a0c2c"/><stop offset="0.3633" stop-color="#0e1241"/><stop offset="0.5827" stop-color="#131959"/><stop offset="0.7064" stop-color="#192373"/><stop offset="0.7534" stop-color="#1e3695"/><stop offset="0.7769" stop-color="#2547a9"/><stop offset="0.7851" stop-color="#2951b1"/><stop offset="0.7917" stop-color="#2c56b5"/><stop offset="0.7979" stop-color="#2c56b5"/><stop offset="0.8028" stop-color="#2a52b1"/><stop offset="0.8076" stop-color="#274cad"/><stop offset="0.8125" stop-color="#2547a5"/><stop offset="0.8174" stop-color="#203e9d"/><stop offset="0.8286" stop-color="#192d84"/><stop offset="0.8568" stop-color="#0a0d36"/><stop offset="0.8960" stop-color="#000"/></linearGradient><linearGradient id="gb81" gradientUnits="userSpaceOnUse" x1="-50.0" x2="10.0"><stop offset="0.1283" stop-color="#0a0c2c"/><stop offset="0.3633" stop-color="#0e1240"/><stop offset="0.5827" stop-color="#131858"/><stop offset="0.7080" stop-color="#182270"/><stop offset="0.7550" stop-color="#1c3290"/><stop offset="0.7785" stop-color="#2240a4"/><stop offset="0.7863" stop-color="#2648ac"/><stop offset="0.7926" stop-color="#284cb0"/><stop offset="0.7989" stop-color="#284cb0"/><stop offset="0.8036" stop-color="#2648ac"/><stop offset="0.8083" stop-color="#2444a8"/><stop offset="0.8130" stop-color="#2240a0"/><stop offset="0.8177" stop-color="#1e3898"/><stop offset="0.8286" stop-color="#182a80"/><stop offset="0.8568" stop-color="#0a0c34"/><stop offset="0.8960" stop-color="#000"/></linearGradient><clipPath id="cpc"><rect x="171.1" y="0" width="58.10" height="161.5"/></clipPath><linearGradient id="gc0" gradientUnits="userSpaceOnUse" x1="-50.0" x2="10.0"><stop offset="0.1667" stop-color="#04041a"/><stop offset="0.6000" stop-color="#0a0c2c"/><stop offset="0.7467" stop-color="#121a50"/><stop offset="0.7773" stop-color="#1c2e88"/><stop offset="0.7947" stop-color="#1a3088"/><stop offset="0.8133" stop-color="#2448ac"/><stop offset="0.8333" stop-color="#2850b8"/><stop offset="0.8533" stop-color="#2448ac"/><stop offset="0.8720" stop-color="#1a3088"/><stop offset="0.8907" stop-color="#182470"/><stop offset="0.9160" stop-color="#080a28"/><stop offset="0.9467" stop-color="#000"/></linearGradient><linearGradient id="gc1" gradientUnits="userSpaceOnUse" x1="-50.0" x2="10.0"><stop offset="0.1667" stop-color="#04041a"/><stop offset="0.6000" stop-color="#0a0c2c"/><stop offset="0.7459" stop-color="#121a50"/><stop offset="0.7769" stop-color="#1c2e88"/><stop offset="0.7943" stop-color="#1b328c"/><stop offset="0.8132" stop-color="#254baf"/><stop offset="0.8333" stop-color="#2a55bb"/><stop offset="0.8535" stop-color="#254baf"/><stop offset="0.8723" stop-color="#1b328c"/><stop offset="0.8911" stop-color="#182470"/><stop offset="0.9167" stop-color="#080a28"/><stop offset="0.9476" stop-color="#000"/></linearGradient><linearGradient id="gc2" gradientUnits="userSpaceOnUse" x1="-50.0" x2="10.0"><stop offset="0.1667" stop-color="#04041a"/><stop offset="0.6000" stop-color="#0a0c2c"/><stop offset="0.7452" stop-color="#121a50"/><stop offset="0.7764" stop-color="#1c2e88"/><stop offset="0.7940" stop-color="#1c3491"/><stop offset="0.8130" stop-color="#264eb2"/><stop offset="0.8333" stop-color="#2c5abe"/><stop offset="0.8537" stop-color="#264eb2"/><stop offset="0.8726" stop-color="#1c3491"/><stop offset="0.8916" stop-color="#182470"/><stop offset="0.9174" stop-color="#080a28"/><stop offset="0.9486" stop-color="#000"/></linearGradient><linearGradient id="gc3" gradientUnits="userSpaceOnUse" x1="-50.0" x2="10.0"><stop offset="0.1667" stop-color="#04041a"/><stop offset="0.6000" stop-color="#0a0c2c"/><stop offset="0.7445" stop-color="#121a50"/><stop offset="0.7759" stop-color="#1c2e88"/><stop offset="0.7937" stop-color="#1c3695"/><stop offset="0.8128" stop-color="#2752b6"/><stop offset="0.8333" stop-color="#2e5ec2"/><stop offset="0.8538" stop-color="#2752b6"/><stop offset="0.8730" stop-color="#1c3695"/><stop offset="0.8921" stop-color="#182470"/><stop offset="0.9181" stop-color="#080a28"/><stop offset="0.9495" stop-color="#000"/></linearGradient><linearGradient id="gc4" gradientUnits="userSpaceOnUse" x1="-50.0" x2="10.0"><stop offset="0.1667" stop-color="#04041a"/><stop offset="0.6000" stop-color="#0a0c2c"/><stop offset="0.7438" stop-color="#121a50"/><stop offset="0.7755" stop-color="#1c2e88"/><stop offset="0.7934" stop-color="#1d3999"/><stop offset="0.8127" stop-color="#2855b9"/><stop offset="0.8333" stop-color="#2f63c5"/><stop offset="0.8540" stop-color="#2855b9"/><stop offset="0.8733" stop-color="#1d3999"/><stop offset="0.8926" stop-color="#182470"/><stop offset="0.9188" stop-color="#080a28"/><stop offset="0.9504" stop-color="#000"/></linearGradient><linearGradient id="gc5" gradientUnits="userSpaceOnUse" x1="-50.0" x2="10.0"><stop offset="0.1667" stop-color="#04041a"/><stop offset="0.6000" stop-color="#0a0c2c"/><stop offset="0.7431" stop-color="#121a50"/><stop offset="0.7750" stop-color="#1c2e88"/><stop offset="0.7931" stop-color="#1e3b9d"/><stop offset="0.8125" stop-color="#2958bc"/><stop offset="0.8333" stop-color="#3168c8"/><stop offset="0.8542" stop-color="#2958bc"/><stop offset="0.8736" stop-color="#1e3b9d"/><stop offset="0.8931" stop-color="#182470"/><stop offset="0.9194" stop-color="#080a28"/><stop offset="0.9514" stop-color="#000"/></linearGradient><linearGradient id="gc6" gradientUnits="userSpaceOnUse" x1="-50.0" x2="10.0"><stop offset="0.1667" stop-color="#04041a"/><stop offset="0.6000" stop-color="#0a0c2c"/><stop offset="0.7423" stop-color="#121a50"/><stop offset="0.7745" stop-color="#1c2e88"/><stop offset="0.7927" stop-color="#1f3da2"/><stop offset="0.8123" stop-color="#2a5bbf"/><stop offset="0.8333" stop-color="#336dcb"/><stop offset="0.8543" stop-color="#2a5bbf"/><stop offset="0.8739" stop-color="#1f3da2"/><stop offset="0.8935" stop-color="#182470"/><stop offset="0.9201" stop-color="#080a28"/><stop offset="0.9523" stop-color="#000"/></linearGradient><linearGradient id="gc7" gradientUnits="userSpaceOnUse" x1="-50.0" x2="10.0"><stop offset="0.1667" stop-color="#04041a"/><stop offset="0.6000" stop-color="#0a0c2c"/><stop offset="0.7416" stop-color="#121a50"/><stop offset="0.7741" stop-color="#1c2e88"/><stop offset="0.7924" stop-color="#203fa6"/><stop offset="0.8122" stop-color="#2b5ec2"/><stop offset="0.8333" stop-color="#3572ce"/><stop offset="0.8545" stop-color="#2b5ec2"/><stop offset="0.8743" stop-color="#203fa6"/><stop offset="0.8940" stop-color="#182470"/><stop offset="0.9208" stop-color="#080a28"/><stop offset="0.9533" stop-color="#000"/></linearGradient><linearGradient id="gc8" gradientUnits="userSpaceOnUse" x1="-50.0" x2="10.0"><stop offset="0.1667" stop-color="#04041a"/><stop offset="0.6000" stop-color="#0a0c2c"/><stop offset="0.7409" stop-color="#121a50"/><stop offset="0.7736" stop-color="#1c2e88"/><stop offset="0.7921" stop-color="#2041a9"/><stop offset="0.8120" stop-color="#2d62c5"/><stop offset="0.8333" stop-color="#3776d1"/><stop offset="0.8547" stop-color="#2d62c5"/><stop offset="0.8746" stop-color="#2041a9"/><stop offset="0.8945" stop-color="#182470"/><stop offset="0.9215" stop-color="#080a28"/><stop offset="0.9542" stop-color="#000"/></linearGradient><linearGradient id="gc9" gradientUnits="userSpaceOnUse" x1="-50.0" x2="10.0"><stop offset="0.1667" stop-color="#04041a"/><stop offset="0.6000" stop-color="#0a0c2c"/><stop offset="0.7402" stop-color="#121a50"/><stop offset="0.7731" stop-color="#1c2e88"/><stop offset="0.7918" stop-color="#2142aa"/><stop offset="0.8118" stop-color="#2f66c6"/><stop offset="0.8333" stop-color="#397bd2"/><stop offset="0.8548" stop-color="#2f66c6"/><stop offset="0.8749" stop-color="#2142aa"/><stop offset="0.8950" stop-color="#182470"/><stop offset="0.9222" stop-color="#080a28"/><stop offset="0.9552" stop-color="#000"/></linearGradient><linearGradient id="gc10" gradientUnits="userSpaceOnUse" x1="-50.0" x2="10.0"><stop offset="0.1667" stop-color="#04041a"/><stop offset="0.6000" stop-color="#0a0c2c"/><stop offset="0.7394" stop-color="#121a50"/><stop offset="0.7727" stop-color="#1c2e88"/><stop offset="0.7914" stop-color="#2143ab"/><stop offset="0.8117" stop-color="#316bc8"/><stop offset="0.8333" stop-color="#3b80d3"/><stop offset="0.8550" stop-color="#316bc8"/><stop offset="0.8752" stop-color="#2143ab"/><stop offset="0.8954" stop-color="#182470"/><stop offset="0.9229" stop-color="#080a28"/><stop offset="0.9561" stop-color="#000"/></linearGradient><linearGradient id="gc11" gradientUnits="userSpaceOnUse" x1="-50.0" x2="10.0"><stop offset="0.1667" stop-color="#04041a"/><stop offset="0.6000" stop-color="#0a0c2c"/><stop offset="0.7387" stop-color="#121a50"/><stop offset="0.7722" stop-color="#1c2e88"/><stop offset="0.7911" stop-color="#2244ac"/><stop offset="0.8115" stop-color="#336fca"/><stop offset="0.8333" stop-color="#3d85d4"/><stop offset="0.8552" stop-color="#336fca"/><stop offset="0.8755" stop-color="#2244ac"/><stop offset="0.8959" stop-color="#182470"/><stop offset="0.9236" stop-color="#080a28"/><stop offset="0.9571" stop-color="#000"/></linearGradient><linearGradient id="gc12" gradientUnits="userSpaceOnUse" x1="-50.0" x2="10.0"><stop offset="0.1667" stop-color="#04041a"/><stop offset="0.6000" stop-color="#0a0c2c"/><stop offset="0.7380" stop-color="#121a50"/><stop offset="0.7717" stop-color="#1c2e88"/><stop offset="0.7908" stop-color="#2245ad"/><stop offset="0.8113" stop-color="#3473cb"/><stop offset="0.8333" stop-color="#3e8ad5"/><stop offset="0.8553" stop-color="#3473cb"/><stop offset="0.8759" stop-color="#2245ad"/><stop offset="0.8964" stop-color="#182470"/><stop offset="0.9243" stop-color="#080a28"/><stop offset="0.9580" stop-color="#000"/></linearGradient><linearGradient id="gc13" gradientUnits="userSpaceOnUse" x1="-50.0" x2="10.0"><stop offset="0.1667" stop-color="#04041a"/><stop offset="0.6000" stop-color="#0a0c2c"/><stop offset="0.7373" stop-color="#121a50"/><stop offset="0.7713" stop-color="#1c2e88"/><stop offset="0.7905" stop-color="#2346ae"/><stop offset="0.8112" stop-color="#3677cd"/><stop offset="0.8333" stop-color="#408ed6"/><stop offset="0.8555" stop-color="#3677cd"/><stop offset="0.8762" stop-color="#2346ae"/><stop offset="0.8969" stop-color="#182470"/><stop offset="0.9250" stop-color="#080a28"/><stop offset="0.9589" stop-color="#000"/></linearGradient><linearGradient id="gc14" gradientUnits="userSpaceOnUse" x1="-50.0" x2="10.0"><stop offset="0.1667" stop-color="#04041a"/><stop offset="0.6000" stop-color="#0a0c2c"/><stop offset="0.7366" stop-color="#121a50"/><stop offset="0.7708" stop-color="#1c2e88"/><stop offset="0.7902" stop-color="#2347af"/><stop offset="0.8110" stop-color="#387cce"/><stop offset="0.8333" stop-color="#4293d7"/><stop offset="0.8557" stop-color="#387cce"/><stop offset="0.8765" stop-color="#2347af"/><stop offset="0.8974" stop-color="#182470"/><stop offset="0.9256" stop-color="#080a28"/><stop offset="0.9599" stop-color="#000"/></linearGradient><linearGradient id="gc15" gradientUnits="userSpaceOnUse" x1="-50.0" x2="10.0"><stop offset="0.1667" stop-color="#04041a"/><stop offset="0.6000" stop-color="#0a0c2c"/><stop offset="0.7358" stop-color="#121a50"/><stop offset="0.7703" stop-color="#1c2e88"/><stop offset="0.7898" stop-color="#2448b0"/><stop offset="0.8108" stop-color="#3a80d0"/><stop offset="0.8333" stop-color="#4498d8"/><stop offset="0.8558" stop-color="#3a80d0"/><stop offset="0.8768" stop-color="#2448b0"/><stop offset="0.8978" stop-color="#182470"/><stop offset="0.9263" stop-color="#080a28"/><stop offset="0.9608" stop-color="#000"/></linearGradient><linearGradient id="gc16" gradientUnits="userSpaceOnUse" x1="-50.0" x2="10.0"><stop offset="0.1667" stop-color="#04041a"/><stop offset="0.6000" stop-color="#0a0c2c"/><stop offset="0.7340" stop-color="#121a50"/><stop offset="0.7692" stop-color="#1c2e88"/><stop offset="0.7890" stop-color="#254bb3"/><stop offset="0.8104" stop-color="#3f88d1"/><stop offset="0.8333" stop-color="#4da0d0"/><stop offset="0.8562" stop-color="#3f88d1"/><stop offset="0.8776" stop-color="#254bb3"/><stop offset="0.8990" stop-color="#182470"/><stop offset="0.9281" stop-color="#080a28"/><stop offset="0.9632" stop-color="#000"/></linearGradient><linearGradient id="gc17" gradientUnits="userSpaceOnUse" x1="-50.0" x2="10.0"><stop offset="0.1667" stop-color="#04041a"/><stop offset="0.6000" stop-color="#0a0c2c"/><stop offset="0.7322" stop-color="#121a50"/><stop offset="0.7680" stop-color="#1c2e88"/><stop offset="0.7882" stop-color="#274fb5"/><stop offset="0.8100" stop-color="#4490d3"/><stop offset="0.8333" stop-color="#55a8c8"/><stop offset="0.8567" stop-color="#4490d3"/><stop offset="0.8784" stop-color="#274fb5"/><stop offset="0.9002" stop-color="#182470"/><stop offset="0.9298" stop-color="#080a28"/><stop offset="0.9656" stop-color="#000"/></linearGradient><linearGradient id="gc18" gradientUnits="userSpaceOnUse" x1="-50.0" x2="10.0"><stop offset="0.1667" stop-color="#04041a"/><stop offset="0.6000" stop-color="#0a0c2c"/><stop offset="0.7304" stop-color="#121a50"/><stop offset="0.7668" stop-color="#1c2e88"/><stop offset="0.7874" stop-color="#2852b8"/><stop offset="0.8096" stop-color="#4998d4"/><stop offset="0.8333" stop-color="#5eb0c0"/><stop offset="0.8571" stop-color="#4998d4"/><stop offset="0.8793" stop-color="#2852b8"/><stop offset="0.9014" stop-color="#182470"/><stop offset="0.9315" stop-color="#080a28"/><stop offset="0.9679" stop-color="#000"/></linearGradient><linearGradient id="gc19" gradientUnits="userSpaceOnUse" x1="-50.0" x2="10.0"><stop offset="0.1667" stop-color="#04041a"/><stop offset="0.6000" stop-color="#0a0c2c"/><stop offset="0.7286" stop-color="#121a50"/><stop offset="0.7657" stop-color="#1c2e88"/><stop offset="0.7866" stop-color="#2955bb"/><stop offset="0.8092" stop-color="#4ea0d5"/><stop offset="0.8333" stop-color="#67b8b8"/><stop offset="0.8575" stop-color="#4ea0d5"/><stop offset="0.8801" stop-color="#2955bb"/><stop offset="0.9026" stop-color="#182470"/><stop offset="0.9332" stop-color="#080a28"/><stop offset="0.9703" stop-color="#000"/></linearGradient><linearGradient id="gc20" gradientUnits="userSpaceOnUse" x1="-50.0" x2="10.0"><stop offset="0.1667" stop-color="#04041a"/><stop offset="0.6000" stop-color="#0a0c2c"/><stop offset="0.7268" stop-color="#121a50"/><stop offset="0.7645" stop-color="#1c2e88"/><stop offset="0.7858" stop-color="#2b59bd"/><stop offset="0.8087" stop-color="#53a8d7"/><stop offset="0.8333" stop-color="#6fc0b0"/><stop offset="0.8579" stop-color="#53a8d7"/><stop offset="0.8809" stop-color="#2b59bd"/><stop offset="0.9038" stop-color="#182470"/><stop offset="0.9349" stop-color="#080a28"/><stop offset="0.9726" stop-color="#000"/></linearGradient><linearGradient id="gc21" gradientUnits="userSpaceOnUse" x1="-50.0" x2="10.0"><stop offset="0.1667" stop-color="#04041a"/><stop offset="0.6000" stop-color="#0a0c2c"/><stop offset="0.7250" stop-color="#121a50"/><stop offset="0.7633" stop-color="#1c2e88"/><stop offset="0.7850" stop-color="#2c5cc0"/><stop offset="0.8083" stop-color="#58b0d8"/><stop offset="0.8333" stop-color="#78c8a8"/><stop offset="0.8583" stop-color="#58b0d8"/><stop offset="0.8817" stop-color="#2c5cc0"/><stop offset="0.9050" stop-color="#182470"/><stop offset="0.9367" stop-color="#080a28"/><stop offset="0.9750" stop-color="#000"/></linearGradient><linearGradient id="gc22" gradientUnits="userSpaceOnUse" x1="-50.0" x2="10.0"><stop offset="0.1667" stop-color="#04041a"/><stop offset="0.6000" stop-color="#0a0c2c"/><stop offset="0.7239" stop-color="#121a50"/><stop offset="0.7626" stop-color="#1c2e88"/><stop offset="0.7845" stop-color="#2d5ec2"/><stop offset="0.8081" stop-color="#65b6c8"/><stop offset="0.8333" stop-color="#8acb95"/><stop offset="0.8586" stop-color="#65b6c8"/><stop offset="0.8821" stop-color="#2d5ec2"/><stop offset="0.9057" stop-color="#182470"/><stop offset="0.9377" stop-color="#080a28"/><stop offset="0.9764" stop-color="#000"/></linearGradient><linearGradient id="gc23" gradientUnits="userSpaceOnUse" x1="-50.0" x2="10.0"><stop offset="0.1667" stop-color="#04041a"/><stop offset="0.6000" stop-color="#0a0c2c"/><stop offset="0.7228" stop-color="#121a50"/><stop offset="0.7619" stop-color="#1c2e88"/><stop offset="0.7840" stop-color="#2e61c3"/><stop offset="0.8078" stop-color="#72bbb8"/><stop offset="0.8333" stop-color="#9bce82"/><stop offset="0.8588" stop-color="#72bbb8"/><stop offset="0.8826" stop-color="#2e61c3"/><stop offset="0.9064" stop-color="#182470"/><stop offset="0.9387" stop-color="#080a28"/><stop offset="0.9778" stop-color="#000"/></linearGradient><linearGradient id="gc24" gradientUnits="userSpaceOnUse" x1="-50.0" x2="10.0"><stop offset="0.1667" stop-color="#04041a"/><stop offset="0.6000" stop-color="#0a0c2c"/><stop offset="0.7218" stop-color="#121a50"/><stop offset="0.7612" stop-color="#1c2e88"/><stop offset="0.7835" stop-color="#2e63c5"/><stop offset="0.8076" stop-color="#7ec1a8"/><stop offset="0.8333" stop-color="#add26e"/><stop offset="0.8591" stop-color="#7ec1a8"/><stop offset="0.8831" stop-color="#2e63c5"/><stop offset="0.9072" stop-color="#182470"/><stop offset="0.9398" stop-color="#080a28"/><stop offset="0.9793" stop-color="#000"/></linearGradient><linearGradient id="gc25" gradientUnits="userSpaceOnUse" x1="-50.0" x2="10.0"><stop offset="0.1667" stop-color="#04041a"/><stop offset="0.6000" stop-color="#0a0c2c"/><stop offset="0.7207" stop-color="#121a50"/><stop offset="0.7605" stop-color="#1c2e88"/><stop offset="0.7831" stop-color="#2f66c6"/><stop offset="0.8073" stop-color="#8bc698"/><stop offset="0.8333" stop-color="#bed55b"/><stop offset="0.8593" stop-color="#8bc698"/><stop offset="0.8836" stop-color="#2f66c6"/><stop offset="0.9079" stop-color="#182470"/><stop offset="0.9408" stop-color="#080a28"/><stop offset="0.9807" stop-color="#000"/></linearGradient><linearGradient id="gc26" gradientUnits="userSpaceOnUse" x1="-50.0" x2="10.0"><stop offset="0.1667" stop-color="#04041a"/><stop offset="0.6000" stop-color="#0a0c2c"/><stop offset="0.7196" stop-color="#121a50"/><stop offset="0.7598" stop-color="#1c2e88"/><stop offset="0.7826" stop-color="#3068c8"/><stop offset="0.8071" stop-color="#98cc88"/><stop offset="0.8333" stop-color="#d0d848"/><stop offset="0.8596" stop-color="#98cc88"/><stop offset="0.8841" stop-color="#3068c8"/><stop offset="0.9086" stop-color="#182470"/><stop offset="0.9418" stop-color="#080a28"/><stop offset="0.9821" stop-color="#000"/></linearGradient><linearGradient id="gc27" gradientUnits="userSpaceOnUse" x1="-50.0" x2="10.0"><stop offset="0.1667" stop-color="#04041a"/><stop offset="0.6000" stop-color="#0a0c2c"/><stop offset="0.7187" stop-color="#121a50"/><stop offset="0.7592" stop-color="#1c2e88"/><stop offset="0.7822" stop-color="#3169c9"/><stop offset="0.8069" stop-color="#9ccd83"/><stop offset="0.8333" stop-color="#d4d947"/><stop offset="0.8598" stop-color="#9ccd83"/><stop offset="0.8845" stop-color="#3169c9"/><stop offset="0.9092" stop-color="#182470"/><stop offset="0.9427" stop-color="#080a28"/><stop offset="0.9833" stop-color="#000"/></linearGradient><linearGradient id="gc28" gradientUnits="userSpaceOnUse" x1="-50.0" x2="10.0"><stop offset="0.1667" stop-color="#04041a"/><stop offset="0.6000" stop-color="#0a0c2c"/><stop offset="0.7178" stop-color="#121a50"/><stop offset="0.7587" stop-color="#1c2e88"/><stop offset="0.7818" stop-color="#316bc9"/><stop offset="0.8067" stop-color="#a0cd7d"/><stop offset="0.8333" stop-color="#d8d945"/><stop offset="0.8600" stop-color="#a0cd7d"/><stop offset="0.8849" stop-color="#316bc9"/><stop offset="0.9098" stop-color="#182470"/><stop offset="0.9436" stop-color="#080a28"/><stop offset="0.9844" stop-color="#000"/></linearGradient><linearGradient id="gc29" gradientUnits="userSpaceOnUse" x1="-50.0" x2="10.0"><stop offset="0.1667" stop-color="#04041a"/><stop offset="0.6000" stop-color="#0a0c2c"/><stop offset="0.7169" stop-color="#121a50"/><stop offset="0.7581" stop-color="#1c2e88"/><stop offset="0.7814" stop-color="#326cca"/><stop offset="0.8065" stop-color="#a4ce78"/><stop offset="0.8333" stop-color="#dcda44"/><stop offset="0.8602" stop-color="#a4ce78"/><stop offset="0.8853" stop-color="#326cca"/><stop offset="0.9104" stop-color="#182470"/><stop offset="0.9444" stop-color="#080a28"/><stop offset="0.9856" stop-color="#000"/></linearGradient><linearGradient id="gc30" gradientUnits="userSpaceOnUse" x1="-50.0" x2="10.0"><stop offset="0.1667" stop-color="#04041a"/><stop offset="0.6000" stop-color="#0a0c2c"/><stop offset="0.7160" stop-color="#121a50"/><stop offset="0.7575" stop-color="#1c2e88"/><stop offset="0.7810" stop-color="#336dcb"/><stop offset="0.8063" stop-color="#a8cf73"/><stop offset="0.8333" stop-color="#e0db43"/><stop offset="0.8604" stop-color="#a8cf73"/><stop offset="0.8857" stop-color="#336dcb"/><stop offset="0.9110" stop-color="#182470"/><stop offset="0.9453" stop-color="#080a28"/><stop offset="0.9868" stop-color="#000"/></linearGradient><linearGradient id="gc31" gradientUnits="userSpaceOnUse" x1="-50.0" x2="10.0"><stop offset="0.1667" stop-color="#04041a"/><stop offset="0.6000" stop-color="#0a0c2c"/><stop offset="0.7151" stop-color="#121a50"/><stop offset="0.7569" stop-color="#1c2e88"/><stop offset="0.7806" stop-color="#336fcb"/><stop offset="0.8060" stop-color="#accf6d"/><stop offset="0.8333" stop-color="#e4db41"/><stop offset="0.8606" stop-color="#accf6d"/><stop offset="0.8861" stop-color="#336fcb"/><stop offset="0.9116" stop-color="#182470"/><stop offset="0.9461" stop-color="#080a28"/><stop offset="0.9880" stop-color="#000"/></linearGradient><linearGradient id="gc32" gradientUnits="userSpaceOnUse" x1="-50.0" x2="10.0"><stop offset="0.1667" stop-color="#04041a"/><stop offset="0.6000" stop-color="#0a0c2c"/><stop offset="0.7142" stop-color="#121a50"/><stop offset="0.7563" stop-color="#1c2e88"/><stop offset="0.7802" stop-color="#3470cc"/><stop offset="0.8058" stop-color="#b0d068"/><stop offset="0.8333" stop-color="#e8dc40"/><stop offset="0.8608" stop-color="#b0d068"/><stop offset="0.8865" stop-color="#3470cc"/><stop offset="0.9122" stop-color="#182470"/><stop offset="0.9470" stop-color="#080a28"/><stop offset="0.9892" stop-color="#000"/></linearGradient><linearGradient id="gc33" gradientUnits="userSpaceOnUse" x1="-50.0" x2="10.0"><stop offset="0.1667" stop-color="#04041a"/><stop offset="0.6000" stop-color="#0a0c2c"/><stop offset="0.7142" stop-color="#121a50"/><stop offset="0.7563" stop-color="#1c2e88"/><stop offset="0.7802" stop-color="#3470cc"/><stop offset="0.8058" stop-color="#b0d068"/><stop offset="0.8333" stop-color="#e8dc40"/><stop offset="0.8608" stop-color="#b0d068"/><stop offset="0.8865" stop-color="#3470cc"/><stop offset="0.9122" stop-color="#182470"/><stop offset="0.9470" stop-color="#080a28"/><stop offset="0.9892" stop-color="#000"/></linearGradient><linearGradient id="gc34" gradientUnits="userSpaceOnUse" x1="-50.0" x2="10.0"><stop offset="0.1667" stop-color="#04041a"/><stop offset="0.6000" stop-color="#0a0c2c"/><stop offset="0.7142" stop-color="#121a50"/><stop offset="0.7563" stop-color="#1c2e88"/><stop offset="0.7802" stop-color="#3470cc"/><stop offset="0.8058" stop-color="#b0d068"/><stop offset="0.8333" stop-color="#e8dc40"/><stop offset="0.8608" stop-color="#b0d068"/><stop offset="0.8865" stop-color="#3470cc"/><stop offset="0.9122" stop-color="#182470"/><stop offset="0.9470" stop-color="#080a28"/><stop offset="0.9892" stop-color="#000"/></linearGradient><linearGradient id="gc35" gradientUnits="userSpaceOnUse" x1="-50.0" x2="10.0"><stop offset="0.1667" stop-color="#04041a"/><stop offset="0.6000" stop-color="#0a0c2c"/><stop offset="0.7142" stop-color="#121a50"/><stop offset="0.7563" stop-color="#1c2e88"/><stop offset="0.7802" stop-color="#3470cc"/><stop offset="0.8058" stop-color="#b0d068"/><stop offset="0.8333" stop-color="#e8dc40"/><stop offset="0.8608" stop-color="#b0d068"/><stop offset="0.8865" stop-color="#3470cc"/><stop offset="0.9122" stop-color="#182470"/><stop offset="0.9470" stop-color="#080a28"/><stop offset="0.9892" stop-color="#000"/></linearGradient><linearGradient id="gc36" gradientUnits="userSpaceOnUse" x1="-50.0" x2="10.0"><stop offset="0.1667" stop-color="#04041a"/><stop offset="0.6000" stop-color="#0a0c2c"/><stop offset="0.7142" stop-color="#121a50"/><stop offset="0.7563" stop-color="#1c2e88"/><stop offset="0.7802" stop-color="#3470cc"/><stop offset="0.8058" stop-color="#b0d068"/><stop offset="0.8333" stop-color="#e8dc40"/><stop offset="0.8608" stop-color="#b0d068"/><stop offset="0.8865" stop-color="#3470cc"/><stop offset="0.9122" stop-color="#182470"/><stop offset="0.9470" stop-color="#080a28"/><stop offset="0.9892" stop-color="#000"/></linearGradient><linearGradient id="gc37" gradientUnits="userSpaceOnUse" x1="-50.0" x2="10.0"><stop offset="0.1667" stop-color="#04041a"/><stop offset="0.6000" stop-color="#0a0c2c"/><stop offset="0.7142" stop-color="#121a50"/><stop offset="0.7563" stop-color="#1c2e88"/><stop offset="0.7802" stop-color="#3470cc"/><stop offset="0.8058" stop-color="#b0d068"/><stop offset="0.8333" stop-color="#e8dc40"/><stop offset="0.8608" stop-color="#b0d068"/><stop offset="0.8865" stop-color="#3470cc"/><stop offset="0.9122" stop-color="#182470"/><stop offset="0.9470" stop-color="#080a28"/><stop offset="0.9892" stop-color="#000"/></linearGradient><linearGradient id="gc38" gradientUnits="userSpaceOnUse" x1="-50.0" x2="10.0"><stop offset="0.1667" stop-color="#04041a"/><stop offset="0.6000" stop-color="#0a0c2c"/><stop offset="0.7142" stop-color="#121a50"/><stop offset="0.7563" stop-color="#1c2e88"/><stop offset="0.7802" stop-color="#3470cc"/><stop offset="0.8058" stop-color="#b0d068"/><stop offset="0.8333" stop-color="#e8dc40"/><stop offset="0.8608" stop-color="#b0d068"/><stop offset="0.8865" stop-color="#3470cc"/><stop offset="0.9122" stop-color="#182470"/><stop offset="0.9470" stop-color="#080a28"/><stop offset="0.9892" stop-color="#000"/></linearGradient><linearGradient id="gc39" gradientUnits="userSpaceOnUse" x1="-50.0" x2="10.0"><stop offset="0.1667" stop-color="#04041a"/><stop offset="0.6000" stop-color="#0a0c2c"/><stop offset="0.7142" stop-color="#121a50"/><stop offset="0.7563" stop-color="#1c2e88"/><stop offset="0.7802" stop-color="#3470cc"/><stop offset="0.8058" stop-color="#b0d068"/><stop offset="0.8333" stop-color="#e8dc40"/><stop offset="0.8608" stop-color="#b0d068"/><stop offset="0.8865" stop-color="#3470cc"/><stop offset="0.9122" stop-color="#182470"/><stop offset="0.9470" stop-color="#080a28"/><stop offset="0.9892" stop-color="#000"/></linearGradient><linearGradient id="gc40" gradientUnits="userSpaceOnUse" x1="-50.0" x2="10.0"><stop offset="0.1667" stop-color="#04041a"/><stop offset="0.6000" stop-color="#0a0c2c"/><stop offset="0.7142" stop-color="#121a50"/><stop offset="0.7563" stop-color="#1c2e88"/><stop offset="0.7802" stop-color="#3470cc"/><stop offset="0.8058" stop-color="#b0d068"/><stop offset="0.8333" stop-color="#e8dc40"/><stop offset="0.8608" stop-color="#b0d068"/><stop offset="0.8865" stop-color="#3470cc"/><stop offset="0.9122" stop-color="#182470"/><stop offset="0.9470" stop-color="#080a28"/><stop offset="0.9892" stop-color="#000"/></linearGradient><linearGradient id="gc41" gradientUnits="userSpaceOnUse" x1="-50.0" x2="10.0"><stop offset="0.1667" stop-color="#04041a"/><stop offset="0.6000" stop-color="#0a0c2c"/><stop offset="0.7142" stop-color="#121a50"/><stop offset="0.7563" stop-color="#1c2e88"/><stop offset="0.7802" stop-color="#3470cc"/><stop offset="0.8058" stop-color="#b0d068"/><stop offset="0.8333" stop-color="#e8dc40"/><stop offset="0.8608" stop-color="#b0d068"/><stop offset="0.8865" stop-color="#3470cc"/><stop offset="0.9122" stop-color="#182470"/><stop offset="0.9470" stop-color="#080a28"/><stop offset="0.9892" stop-color="#000"/></linearGradient><linearGradient id="gc42" gradientUnits="userSpaceOnUse" x1="-50.0" x2="10.0"><stop offset="0.1667" stop-color="#04041a"/><stop offset="0.6000" stop-color="#0a0c2c"/><stop offset="0.7142" stop-color="#121a50"/><stop offset="0.7563" stop-color="#1c2e88"/><stop offset="0.7802" stop-color="#3470cc"/><stop offset="0.8058" stop-color="#b0d068"/><stop offset="0.8333" stop-color="#e8dc40"/><stop offset="0.8608" stop-color="#b0d068"/><stop offset="0.8865" stop-color="#3470cc"/><stop offset="0.9122" stop-color="#182470"/><stop offset="0.9470" stop-color="#080a28"/><stop offset="0.9892" stop-color="#000"/></linearGradient><linearGradient id="gc43" gradientUnits="userSpaceOnUse" x1="-50.0" x2="10.0"><stop offset="0.1667" stop-color="#04041a"/><stop offset="0.6000" stop-color="#0a0c2c"/><stop offset="0.7142" stop-color="#121a50"/><stop offset="0.7563" stop-color="#1c2e88"/><stop offset="0.7802" stop-color="#3470cc"/><stop offset="0.8058" stop-color="#b0d068"/><stop offset="0.8333" stop-color="#e8dc40"/><stop offset="0.8608" stop-color="#b0d068"/><stop offset="0.8865" stop-color="#3470cc"/><stop offset="0.9122" stop-color="#182470"/><stop offset="0.9470" stop-color="#080a28"/><stop offset="0.9892" stop-color="#000"/></linearGradient><linearGradient id="gc44" gradientUnits="userSpaceOnUse" x1="-50.0" x2="10.0"><stop offset="0.1667" stop-color="#04041a"/><stop offset="0.6000" stop-color="#0a0c2c"/><stop offset="0.7142" stop-color="#121a50"/><stop offset="0.7563" stop-color="#1c2e88"/><stop offset="0.7802" stop-color="#3470cc"/><stop offset="0.8058" stop-color="#b0d068"/><stop offset="0.8333" stop-color="#e8dc40"/><stop offset="0.8608" stop-color="#b0d068"/><stop offset="0.8865" stop-color="#3470cc"/><stop offset="0.9122" stop-color="#182470"/><stop offset="0.9470" stop-color="#080a28"/><stop offset="0.9892" stop-color="#000"/></linearGradient><linearGradient id="gc45" gradientUnits="userSpaceOnUse" x1="-50.0" x2="10.0"><stop offset="0.1667" stop-color="#04041a"/><stop offset="0.6000" stop-color="#0a0c2c"/><stop offset="0.7142" stop-color="#121a50"/><stop offset="0.7563" stop-color="#1c2e88"/><stop offset="0.7802" stop-color="#3470cc"/><stop offset="0.8058" stop-color="#b0d068"/><stop offset="0.8333" stop-color="#e8dc40"/><stop offset="0.8608" stop-color="#b0d068"/><stop offset="0.8865" stop-color="#3470cc"/><stop offset="0.9122" stop-color="#182470"/><stop offset="0.9470" stop-color="#080a28"/><stop offset="0.9892" stop-color="#000"/></linearGradient><linearGradient id="gc46" gradientUnits="userSpaceOnUse" x1="-50.0" x2="10.0"><stop offset="0.1667" stop-color="#04041a"/><stop offset="0.6000" stop-color="#0a0c2c"/><stop offset="0.7142" stop-color="#121a50"/><stop offset="0.7563" stop-color="#1c2e88"/><stop offset="0.7802" stop-color="#3470cc"/><stop offset="0.8058" stop-color="#b0d068"/><stop offset="0.8333" stop-color="#e8dc40"/><stop offset="0.8608" stop-color="#b0d068"/><stop offset="0.8865" stop-color="#3470cc"/><stop offset="0.9122" stop-color="#182470"/><stop offset="0.9470" stop-color="#080a28"/><stop offset="0.9892" stop-color="#000"/></linearGradient><linearGradient id="gc47" gradientUnits="userSpaceOnUse" x1="-50.0" x2="10.0"><stop offset="0.1667" stop-color="#04041a"/><stop offset="0.6000" stop-color="#0a0c2c"/><stop offset="0.7142" stop-color="#121a50"/><stop offset="0.7563" stop-color="#1c2e88"/><stop offset="0.7802" stop-color="#3470cc"/><stop offset="0.8058" stop-color="#b0d068"/><stop offset="0.8333" stop-color="#e8dc40"/><stop offset="0.8608" stop-color="#b0d068"/><stop offset="0.8865" stop-color="#3470cc"/><stop offset="0.9122" stop-color="#182470"/><stop offset="0.9470" stop-color="#080a28"/><stop offset="0.9892" stop-color="#000"/></linearGradient><linearGradient id="gc48" gradientUnits="userSpaceOnUse" x1="-50.0" x2="10.0"><stop offset="0.1667" stop-color="#04041a"/><stop offset="0.6000" stop-color="#0a0c2c"/><stop offset="0.7142" stop-color="#121a50"/><stop offset="0.7563" stop-color="#1c2e88"/><stop offset="0.7802" stop-color="#3470cc"/><stop offset="0.8058" stop-color="#b0d068"/><stop offset="0.8333" stop-color="#e8dc40"/><stop offset="0.8608" stop-color="#b0d068"/><stop offset="0.8865" stop-color="#3470cc"/><stop offset="0.9122" stop-color="#182470"/><stop offset="0.9470" stop-color="#080a28"/><stop offset="0.9892" stop-color="#000"/></linearGradient><linearGradient id="gc49" gradientUnits="userSpaceOnUse" x1="-50.0" x2="10.0"><stop offset="0.1667" stop-color="#04041a"/><stop offset="0.6000" stop-color="#0a0c2c"/><stop offset="0.7151" stop-color="#121a50"/><stop offset="0.7569" stop-color="#1c2e88"/><stop offset="0.7806" stop-color="#336fcb"/><stop offset="0.8060" stop-color="#accf6d"/><stop offset="0.8333" stop-color="#e4db41"/><stop offset="0.8606" stop-color="#accf6d"/><stop offset="0.8861" stop-color="#336fcb"/><stop offset="0.9116" stop-color="#182470"/><stop offset="0.9461" stop-color="#080a28"/><stop offset="0.9880" stop-color="#000"/></linearGradient><linearGradient id="gc50" gradientUnits="userSpaceOnUse" x1="-50.0" x2="10.0"><stop offset="0.1667" stop-color="#04041a"/><stop offset="0.6000" stop-color="#0a0c2c"/><stop offset="0.7160" stop-color="#121a50"/><stop offset="0.7575" stop-color="#1c2e88"/><stop offset="0.7810" stop-color="#336dcb"/><stop offset="0.8063" stop-color="#a8cf73"/><stop offset="0.8333" stop-color="#e0db43"/><stop offset="0.8604" stop-color="#a8cf73"/><stop offset="0.8857" stop-color="#336dcb"/><stop offset="0.9110" stop-color="#182470"/><stop offset="0.9453" stop-color="#080a28"/><stop offset="0.9868" stop-color="#000"/></linearGradient><linearGradient id="gc51" gradientUnits="userSpaceOnUse" x1="-50.0" x2="10.0"><stop offset="0.1667" stop-color="#04041a"/><stop offset="0.6000" stop-color="#0a0c2c"/><stop offset="0.7169" stop-color="#121a50"/><stop offset="0.7581" stop-color="#1c2e88"/><stop offset="0.7814" stop-color="#326cca"/><stop offset="0.8065" stop-color="#a4ce78"/><stop offset="0.8333" stop-color="#dcda44"/><stop offset="0.8602" stop-color="#a4ce78"/><stop offset="0.8853" stop-color="#326cca"/><stop offset="0.9104" stop-color="#182470"/><stop offset="0.9444" stop-color="#080a28"/><stop offset="0.9856" stop-color="#000"/></linearGradient><linearGradient id="gc52" gradientUnits="userSpaceOnUse" x1="-50.0" x2="10.0"><stop offset="0.1667" stop-color="#04041a"/><stop offset="0.6000" stop-color="#0a0c2c"/><stop offset="0.7178" stop-color="#121a50"/><stop offset="0.7587" stop-color="#1c2e88"/><stop offset="0.7818" stop-color="#316bc9"/><stop offset="0.8067" stop-color="#a0cd7d"/><stop offset="0.8333" stop-color="#d8d945"/><stop offset="0.8600" stop-color="#a0cd7d"/><stop offset="0.8849" stop-color="#316bc9"/><stop offset="0.9098" stop-color="#182470"/><stop offset="0.9436" stop-color="#080a28"/><stop offset="0.9844" stop-color="#000"/></linearGradient><linearGradient id="gc53" gradientUnits="userSpaceOnUse" x1="-50.0" x2="10.0"><stop offset="0.1667" stop-color="#04041a"/><stop offset="0.6000" stop-color="#0a0c2c"/><stop offset="0.7187" stop-color="#121a50"/><stop offset="0.7592" stop-color="#1c2e88"/><stop offset="0.7822" stop-color="#3169c9"/><stop offset="0.8069" stop-color="#9ccd83"/><stop offset="0.8333" stop-color="#d4d947"/><stop offset="0.8598" stop-color="#9ccd83"/><stop offset="0.8845" stop-color="#3169c9"/><stop offset="0.9092" stop-color="#182470"/><stop offset="0.9427" stop-color="#080a28"/><stop offset="0.9833" stop-color="#000"/></linearGradient><linearGradient id="gc54" gradientUnits="userSpaceOnUse" x1="-50.0" x2="10.0"><stop offset="0.1667" stop-color="#04041a"/><stop offset="0.6000" stop-color="#0a0c2c"/><stop offset="0.7196" stop-color="#121a50"/><stop offset="0.7598" stop-color="#1c2e88"/><stop offset="0.7826" stop-color="#3068c8"/><stop offset="0.8071" stop-color="#98cc88"/><stop offset="0.8333" stop-color="#d0d848"/><stop offset="0.8596" stop-color="#98cc88"/><stop offset="0.8841" stop-color="#3068c8"/><stop offset="0.9086" stop-color="#182470"/><stop offset="0.9418" stop-color="#080a28"/><stop offset="0.9821" stop-color="#000"/></linearGradient><linearGradient id="gc55" gradientUnits="userSpaceOnUse" x1="-50.0" x2="10.0"><stop offset="0.1667" stop-color="#04041a"/><stop offset="0.6000" stop-color="#0a0c2c"/><stop offset="0.7207" stop-color="#121a50"/><stop offset="0.7605" stop-color="#1c2e88"/><stop offset="0.7831" stop-color="#2f66c6"/><stop offset="0.8073" stop-color="#8bc698"/><stop offset="0.8333" stop-color="#bed55b"/><stop offset="0.8593" stop-color="#8bc698"/><stop offset="0.8836" stop-color="#2f66c6"/><stop offset="0.9079" stop-color="#182470"/><stop offset="0.9408" stop-color="#080a28"/><stop offset="0.9807" stop-color="#000"/></linearGradient><linearGradient id="gc56" gradientUnits="userSpaceOnUse" x1="-50.0" x2="10.0"><stop offset="0.1667" stop-color="#04041a"/><stop offset="0.6000" stop-color="#0a0c2c"/><stop offset="0.7218" stop-color="#121a50"/><stop offset="0.7612" stop-color="#1c2e88"/><stop offset="0.7835" stop-color="#2e63c5"/><stop offset="0.8076" stop-color="#7ec1a8"/><stop offset="0.8333" stop-color="#add26e"/><stop offset="0.8591" stop-color="#7ec1a8"/><stop offset="0.8831" stop-color="#2e63c5"/><stop offset="0.9072" stop-color="#182470"/><stop offset="0.9398" stop-color="#080a28"/><stop offset="0.9793" stop-color="#000"/></linearGradient><linearGradient id="gc57" gradientUnits="userSpaceOnUse" x1="-50.0" x2="10.0"><stop offset="0.1667" stop-color="#04041a"/><stop offset="0.6000" stop-color="#0a0c2c"/><stop offset="0.7228" stop-color="#121a50"/><stop offset="0.7619" stop-color="#1c2e88"/><stop offset="0.7840" stop-color="#2e61c3"/><stop offset="0.8078" stop-color="#72bbb8"/><stop offset="0.8333" stop-color="#9bce82"/><stop offset="0.8588" stop-color="#72bbb8"/><stop offset="0.8826" stop-color="#2e61c3"/><stop offset="0.9064" stop-color="#182470"/><stop offset="0.9387" stop-color="#080a28"/><stop offset="0.9778" stop-color="#000"/></linearGradient><linearGradient id="gc58" gradientUnits="userSpaceOnUse" x1="-50.0" x2="10.0"><stop offset="0.1667" stop-color="#04041a"/><stop offset="0.6000" stop-color="#0a0c2c"/><stop offset="0.7239" stop-color="#121a50"/><stop offset="0.7626" stop-color="#1c2e88"/><stop offset="0.7845" stop-color="#2d5ec2"/><stop offset="0.8081" stop-color="#65b6c8"/><stop offset="0.8333" stop-color="#8acb95"/><stop offset="0.8586" stop-color="#65b6c8"/><stop offset="0.8821" stop-color="#2d5ec2"/><stop offset="0.9057" stop-color="#182470"/><stop offset="0.9377" stop-color="#080a28"/><stop offset="0.9764" stop-color="#000"/></linearGradient><linearGradient id="gc59" gradientUnits="userSpaceOnUse" x1="-50.0" x2="10.0"><stop offset="0.1667" stop-color="#04041a"/><stop offset="0.6000" stop-color="#0a0c2c"/><stop offset="0.7250" stop-color="#121a50"/><stop offset="0.7633" stop-color="#1c2e88"/><stop offset="0.7850" stop-color="#2c5cc0"/><stop offset="0.8083" stop-color="#58b0d8"/><stop offset="0.8333" stop-color="#78c8a8"/><stop offset="0.8583" stop-color="#58b0d8"/><stop offset="0.8817" stop-color="#2c5cc0"/><stop offset="0.9050" stop-color="#182470"/><stop offset="0.9367" stop-color="#080a28"/><stop offset="0.9750" stop-color="#000"/></linearGradient><linearGradient id="gc60" gradientUnits="userSpaceOnUse" x1="-50.0" x2="10.0"><stop offset="0.1667" stop-color="#04041a"/><stop offset="0.6000" stop-color="#0a0c2c"/><stop offset="0.7268" stop-color="#121a50"/><stop offset="0.7645" stop-color="#1c2e88"/><stop offset="0.7858" stop-color="#2b5abf"/><stop offset="0.8087" stop-color="#54abd7"/><stop offset="0.8333" stop-color="#71c4b1"/><stop offset="0.8579" stop-color="#54abd7"/><stop offset="0.8809" stop-color="#2b5abf"/><stop offset="0.9038" stop-color="#182470"/><stop offset="0.9349" stop-color="#080a28"/><stop offset="0.9726" stop-color="#000"/></linearGradient><linearGradient id="gc61" gradientUnits="userSpaceOnUse" x1="-50.0" x2="10.0"><stop offset="0.1667" stop-color="#04041a"/><stop offset="0.6000" stop-color="#0a0c2c"/><stop offset="0.7286" stop-color="#121a50"/><stop offset="0.7657" stop-color="#1c2e88"/><stop offset="0.7866" stop-color="#2b58bd"/><stop offset="0.8092" stop-color="#50a5d7"/><stop offset="0.8333" stop-color="#6bc0b9"/><stop offset="0.8575" stop-color="#50a5d7"/><stop offset="0.8801" stop-color="#2b58bd"/><stop offset="0.9026" stop-color="#182470"/><stop offset="0.9332" stop-color="#080a28"/><stop offset="0.9703" stop-color="#000"/></linearGradient><linearGradient id="gc62" gradientUnits="userSpaceOnUse" x1="-50.0" x2="10.0"><stop offset="0.1667" stop-color="#04041a"/><stop offset="0.6000" stop-color="#0a0c2c"/><stop offset="0.7304" stop-color="#121a50"/><stop offset="0.7668" stop-color="#1c2e88"/><stop offset="0.7874" stop-color="#2a56bc"/><stop offset="0.8096" stop-color="#4ca0d6"/><stop offset="0.8333" stop-color="#64bcc2"/><stop offset="0.8571" stop-color="#4ca0d6"/><stop offset="0.8793" stop-color="#2a56bc"/><stop offset="0.9014" stop-color="#182470"/><stop offset="0.9315" stop-color="#080a28"/><stop offset="0.9679" stop-color="#000"/></linearGradient><linearGradient id="gc63" gradientUnits="userSpaceOnUse" x1="-50.0" x2="10.0"><stop offset="0.1667" stop-color="#04041a"/><stop offset="0.6000" stop-color="#0a0c2c"/><stop offset="0.7322" stop-color="#121a50"/><stop offset="0.7680" stop-color="#1c2e88"/><stop offset="0.7882" stop-color="#2954bb"/><stop offset="0.8100" stop-color="#489bd5"/><stop offset="0.8333" stop-color="#5db8cb"/><stop offset="0.8567" stop-color="#489bd5"/><stop offset="0.8784" stop-color="#2954bb"/><stop offset="0.9002" stop-color="#182470"/><stop offset="0.9298" stop-color="#080a28"/><stop offset="0.9656" stop-color="#000"/></linearGradient><linearGradient id="gc64" gradientUnits="userSpaceOnUse" x1="-50.0" x2="10.0"><stop offset="0.1667" stop-color="#04041a"/><stop offset="0.6000" stop-color="#0a0c2c"/><stop offset="0.7340" stop-color="#121a50"/><stop offset="0.7692" stop-color="#1c2e88"/><stop offset="0.7890" stop-color="#2952b9"/><stop offset="0.8104" stop-color="#4495d5"/><stop offset="0.8333" stop-color="#57b4d3"/><stop offset="0.8562" stop-color="#4495d5"/><stop offset="0.8776" stop-color="#2952b9"/><stop offset="0.8990" stop-color="#182470"/><stop offset="0.9281" stop-color="#080a28"/><stop offset="0.9632" stop-color="#000"/></linearGradient><linearGradient id="gc65" gradientUnits="userSpaceOnUse" x1="-50.0" x2="10.0"><stop offset="0.1667" stop-color="#04041a"/><stop offset="0.6000" stop-color="#0a0c2c"/><stop offset="0.7358" stop-color="#121a50"/><stop offset="0.7703" stop-color="#1c2e88"/><stop offset="0.7898" stop-color="#2850b8"/><stop offset="0.8108" stop-color="#4090d4"/><stop offset="0.8333" stop-color="#50b0dc"/><stop offset="0.8558" stop-color="#4090d4"/><stop offset="0.8768" stop-color="#2850b8"/><stop offset="0.8978" stop-color="#182470"/><stop offset="0.9263" stop-color="#080a28"/><stop offset="0.9608" stop-color="#000"/></linearGradient><linearGradient id="gc66" gradientUnits="userSpaceOnUse" x1="-50.0" x2="10.0"><stop offset="0.1667" stop-color="#04041a"/><stop offset="0.6000" stop-color="#0a0c2c"/><stop offset="0.7366" stop-color="#121a50"/><stop offset="0.7708" stop-color="#1c2e88"/><stop offset="0.7902" stop-color="#274eb6"/><stop offset="0.8110" stop-color="#3e8bd2"/><stop offset="0.8333" stop-color="#4daadb"/><stop offset="0.8557" stop-color="#3e8bd2"/><stop offset="0.8765" stop-color="#274eb6"/><stop offset="0.8974" stop-color="#182470"/><stop offset="0.9256" stop-color="#080a28"/><stop offset="0.9599" stop-color="#000"/></linearGradient><linearGradient id="gc67" gradientUnits="userSpaceOnUse" x1="-50.0" x2="10.0"><stop offset="0.1667" stop-color="#04041a"/><stop offset="0.6000" stop-color="#0a0c2c"/><stop offset="0.7373" stop-color="#121a50"/><stop offset="0.7713" stop-color="#1c2e88"/><stop offset="0.7905" stop-color="#264db4"/><stop offset="0.8112" stop-color="#3c85d1"/><stop offset="0.8333" stop-color="#4aa3da"/><stop offset="0.8555" stop-color="#3c85d1"/><stop offset="0.8762" stop-color="#264db4"/><stop offset="0.8969" stop-color="#182470"/><stop offset="0.9250" stop-color="#080a28"/><stop offset="0.9589" stop-color="#000"/></linearGradient><linearGradient id="gc68" gradientUnits="userSpaceOnUse" x1="-50.0" x2="10.0"><stop offset="0.1667" stop-color="#04041a"/><stop offset="0.6000" stop-color="#0a0c2c"/><stop offset="0.7380" stop-color="#121a50"/><stop offset="0.7717" stop-color="#1c2e88"/><stop offset="0.7908" stop-color="#264bb2"/><stop offset="0.8113" stop-color="#3a80cf"/><stop offset="0.8333" stop-color="#479dd9"/><stop offset="0.8553" stop-color="#3a80cf"/><stop offset="0.8759" stop-color="#264bb2"/><stop offset="0.8964" stop-color="#182470"/><stop offset="0.9243" stop-color="#080a28"/><stop offset="0.9580" stop-color="#000"/></linearGradient><linearGradient id="gc69" gradientUnits="userSpaceOnUse" x1="-50.0" x2="10.0"><stop offset="0.1667" stop-color="#04041a"/><stop offset="0.6000" stop-color="#0a0c2c"/><stop offset="0.7387" stop-color="#121a50"/><stop offset="0.7722" stop-color="#1c2e88"/><stop offset="0.7911" stop-color="#254aaf"/><stop offset="0.8115" stop-color="#377bce"/><stop offset="0.8333" stop-color="#4496d8"/><stop offset="0.8552" stop-color="#377bce"/><stop offset="0.8755" stop-color="#254aaf"/><stop offset="0.8959" stop-color="#182470"/><stop offset="0.9236" stop-color="#080a28"/><stop offset="0.9571" stop-color="#000"/></linearGradient><linearGradient id="gc70" gradientUnits="userSpaceOnUse" x1="-50.0" x2="10.0"><stop offset="0.1667" stop-color="#04041a"/><stop offset="0.6000" stop-color="#0a0c2c"/><stop offset="0.7394" stop-color="#121a50"/><stop offset="0.7727" stop-color="#1c2e88"/><stop offset="0.7914" stop-color="#2448ad"/><stop offset="0.8117" stop-color="#3575cc"/><stop offset="0.8333" stop-color="#4190d7"/><stop offset="0.8550" stop-color="#3575cc"/><stop offset="0.8752" stop-color="#2448ad"/><stop offset="0.8954" stop-color="#182470"/><stop offset="0.9229" stop-color="#080a28"/><stop offset="0.9561" stop-color="#000"/></linearGradient><linearGradient id="gc71" gradientUnits="userSpaceOnUse" x1="-50.0" x2="10.0"><stop offset="0.1667" stop-color="#04041a"/><stop offset="0.6000" stop-color="#0a0c2c"/><stop offset="0.7402" stop-color="#121a50"/><stop offset="0.7731" stop-color="#1c2e88"/><stop offset="0.7918" stop-color="#2346ab"/><stop offset="0.8118" stop-color="#3370ca"/><stop offset="0.8333" stop-color="#3e8ad6"/><stop offset="0.8548" stop-color="#3370ca"/><stop offset="0.8749" stop-color="#2346ab"/><stop offset="0.8950" stop-color="#182470"/><stop offset="0.9222" stop-color="#080a28"/><stop offset="0.9552" stop-color="#000"/></linearGradient><linearGradient id="gc72" gradientUnits="userSpaceOnUse" x1="-50.0" x2="10.0"><stop offset="0.1667" stop-color="#04041a"/><stop offset="0.6000" stop-color="#0a0c2c"/><stop offset="0.7409" stop-color="#121a50"/><stop offset="0.7736" stop-color="#1c2e88"/><stop offset="0.7921" stop-color="#2245a9"/><stop offset="0.8120" stop-color="#316bc9"/><stop offset="0.8333" stop-color="#3b83d5"/><stop offset="0.8547" stop-color="#316bc9"/><stop offset="0.8746" stop-color="#2245a9"/><stop offset="0.8945" stop-color="#182470"/><stop offset="0.9215" stop-color="#080a28"/><stop offset="0.9542" stop-color="#000"/></linearGradient><linearGradient id="gc73" gradientUnits="userSpaceOnUse" x1="-50.0" x2="10.0"><stop offset="0.1667" stop-color="#04041a"/><stop offset="0.6000" stop-color="#0a0c2c"/><stop offset="0.7416" stop-color="#121a50"/><stop offset="0.7740" stop-color="#1c2e88"/><stop offset="0.7924" stop-color="#2243a6"/><stop offset="0.8122" stop-color="#2f66c6"/><stop offset="0.8333" stop-color="#397dd2"/><stop offset="0.8545" stop-color="#2f66c6"/><stop offset="0.8743" stop-color="#2243a6"/><stop offset="0.8940" stop-color="#182470"/><stop offset="0.9209" stop-color="#080a28"/><stop offset="0.9533" stop-color="#000"/></linearGradient><linearGradient id="gc74" gradientUnits="userSpaceOnUse" x1="-50.0" x2="10.0"><stop offset="0.1667" stop-color="#04041a"/><stop offset="0.6000" stop-color="#0a0c2c"/><stop offset="0.7422" stop-color="#121a50"/><stop offset="0.7745" stop-color="#1c2e88"/><stop offset="0.7927" stop-color="#2140a2"/><stop offset="0.8123" stop-color="#2e62c3"/><stop offset="0.8333" stop-color="#3778cf"/><stop offset="0.8544" stop-color="#2e62c3"/><stop offset="0.8740" stop-color="#2140a2"/><stop offset="0.8936" stop-color="#182470"/><stop offset="0.9203" stop-color="#080a28"/><stop offset="0.9525" stop-color="#000"/></linearGradient><linearGradient id="gc75" gradientUnits="userSpaceOnUse" x1="-50.0" x2="10.0"><stop offset="0.1667" stop-color="#04041a"/><stop offset="0.6000" stop-color="#0a0c2c"/><stop offset="0.7428" stop-color="#121a50"/><stop offset="0.7749" stop-color="#1c2e88"/><stop offset="0.7930" stop-color="#203e9f"/><stop offset="0.8125" stop-color="#2c5fc0"/><stop offset="0.8333" stop-color="#3572cc"/><stop offset="0.8542" stop-color="#2c5fc0"/><stop offset="0.8737" stop-color="#203e9f"/><stop offset="0.8932" stop-color="#182470"/><stop offset="0.9196" stop-color="#080a28"/><stop offset="0.9517" stop-color="#000"/></linearGradient><linearGradient id="gc76" gradientUnits="userSpaceOnUse" x1="-50.0" x2="10.0"><stop offset="0.1667" stop-color="#04041a"/><stop offset="0.6000" stop-color="#0a0c2c"/><stop offset="0.7435" stop-color="#121a50"/><stop offset="0.7753" stop-color="#1c2e88"/><stop offset="0.7932" stop-color="#1f3c9b"/><stop offset="0.8126" stop-color="#2b5bbc"/><stop offset="0.8333" stop-color="#336cc8"/><stop offset="0.8541" stop-color="#2b5bbc"/><stop offset="0.8734" stop-color="#1f3c9b"/><stop offset="0.8928" stop-color="#182470"/><stop offset="0.9190" stop-color="#080a28"/><stop offset="0.9508" stop-color="#000"/></linearGradient><linearGradient id="gc77" gradientUnits="userSpaceOnUse" x1="-50.0" x2="10.0"><stop offset="0.1667" stop-color="#04041a"/><stop offset="0.6000" stop-color="#0a0c2c"/><stop offset="0.7441" stop-color="#121a50"/><stop offset="0.7757" stop-color="#1c2e88"/><stop offset="0.7935" stop-color="#1e3997"/><stop offset="0.8127" stop-color="#2a57b9"/><stop offset="0.8333" stop-color="#3067c5"/><stop offset="0.8539" stop-color="#2a57b9"/><stop offset="0.8731" stop-color="#1e3997"/><stop offset="0.8924" stop-color="#182470"/><stop offset="0.9184" stop-color="#080a28"/><stop offset="0.9500" stop-color="#000"/></linearGradient><linearGradient id="gc78" gradientUnits="userSpaceOnUse" x1="-50.0" x2="10.0"><stop offset="0.1667" stop-color="#04041a"/><stop offset="0.6000" stop-color="#0a0c2c"/><stop offset="0.7448" stop-color="#121a50"/><stop offset="0.7761" stop-color="#1c2e88"/><stop offset="0.7938" stop-color="#1d3793"/><stop offset="0.8129" stop-color="#2853b6"/><stop offset="0.8333" stop-color="#2e61c2"/><stop offset="0.8538" stop-color="#2853b6"/><stop offset="0.8729" stop-color="#1d3793"/><stop offset="0.8919" stop-color="#182470"/><stop offset="0.9178" stop-color="#080a28"/><stop offset="0.9492" stop-color="#000"/></linearGradient><linearGradient id="gc79" gradientUnits="userSpaceOnUse" x1="-50.0" x2="10.0"><stop offset="0.1667" stop-color="#04041a"/><stop offset="0.6000" stop-color="#0a0c2c"/><stop offset="0.7454" stop-color="#121a50"/><stop offset="0.7765" stop-color="#1c2e88"/><stop offset="0.7941" stop-color="#1c3590"/><stop offset="0.8130" stop-color="#2750b3"/><stop offset="0.8333" stop-color="#2c5bbf"/><stop offset="0.8536" stop-color="#2750b3"/><stop offset="0.8726" stop-color="#1c3590"/><stop offset="0.8915" stop-color="#182470"/><stop offset="0.9172" stop-color="#080a28"/><stop offset="0.9483" stop-color="#000"/></linearGradient><linearGradient id="gc80" gradientUnits="userSpaceOnUse" x1="-50.0" x2="10.0"><stop offset="0.1667" stop-color="#04041a"/><stop offset="0.6000" stop-color="#0a0c2c"/><stop offset="0.7460" stop-color="#121a50"/><stop offset="0.7769" stop-color="#1c2e88"/><stop offset="0.7944" stop-color="#1b328c"/><stop offset="0.8132" stop-color="#254caf"/><stop offset="0.8333" stop-color="#2a56bb"/><stop offset="0.8535" stop-color="#254caf"/><stop offset="0.8723" stop-color="#1b328c"/><stop offset="0.8911" stop-color="#182470"/><stop offset="0.9166" stop-color="#080a28"/><stop offset="0.9475" stop-color="#000"/></linearGradient><linearGradient id="gc81" gradientUnits="userSpaceOnUse" x1="-50.0" x2="10.0"><stop offset="0.1667" stop-color="#04041a"/><stop offset="0.6000" stop-color="#0a0c2c"/><stop offset="0.7467" stop-color="#121a50"/><stop offset="0.7773" stop-color="#1c2e88"/><stop offset="0.7947" stop-color="#1a3088"/><stop offset="0.8133" stop-color="#2448ac"/><stop offset="0.8333" stop-color="#2850b8"/><stop offset="0.8533" stop-color="#2448ac"/><stop offset="0.8720" stop-color="#1a3088"/><stop offset="0.8907" stop-color="#182470"/><stop offset="0.9160" stop-color="#080a28"/><stop offset="0.9467" stop-color="#000"/></linearGradient><filter id="bl" x="-5%" y="-5%" width="110%" height="110%"><feGaussianBlur stdDeviation="0.7"/></filter><filter id="tb" x="-10%" y="-10%" width="120%" height="120%"><feGaussianBlur stdDeviation="0.22"/></filter><filter id="bl2" x="-50%" y="-50%" width="200%" height="200%"><feGaussianBlur stdDeviation="0.5"/></filter><linearGradient id="ledge" x1="0" y1="0" x2="1" y2="0"><stop offset="0" stop-color="#000" stop-opacity="0.75"/><stop offset="1" stop-color="#000" stop-opacity="0"/></linearGradient><radialGradient id="br"><stop offset="0" stop-color="#fff"/><stop offset="0.22" stop-color="#f06050"/><stop offset="0.4" stop-color="#d82020"/><stop offset="0.62" stop-color="#f08a28"/><stop offset="0.82" stop-color="#f0e040" stop-opacity="0.85"/><stop offset="1" stop-color="#90d070" stop-opacity="0"/></radialGradient><radialGradient id="bo"><stop offset="0" stop-color="#e84a20"/><stop offset="0.35" stop-color="#f08c30"/><stop offset="0.7" stop-color="#f0e040" stop-opacity="0.9"/><stop offset="1" stop-color="#90d070" stop-opacity="0"/></radialGradient><radialGradient id="by"><stop offset="0" stop-color="#f0e040"/><stop offset="0.55" stop-color="#d8e048" stop-opacity="0.85"/><stop offset="1" stop-color="#90d070" stop-opacity="0"/></radialGradient><linearGradient id="cbg" x1="0" y1="0" x2="0" y2="1"><stop offset="0" stop-color="#5a1010"/><stop offset="0.09" stop-color="#a01818"/><stop offset="0.16" stop-color="#c03020"/><stop offset="0.27" stop-color="#d06020"/><stop offset="0.38" stop-color="#d89020"/><stop offset="0.45" stop-color="#e0b020"/><stop offset="0.53" stop-color="#e8d830"/><stop offset="0.6" stop-color="#b0c040"/><stop offset="0.67" stop-color="#60a890"/><stop offset="0.75" stop-color="#60a8e0"/><stop offset="0.82" stop-color="#3050b0"/><stop offset="0.89" stop-color="#202070"/><stop offset="1.0" stop-color="#101020"/></linearGradient><linearGradient id="jd" gradientUnits="userSpaceOnUse" x1="0" y1="3" x2="0" y2="74.5"><stop offset="0" stop-color="#a01818"/><stop offset="0.07" stop-color="#b82020"/><stop offset="0.17" stop-color="#d04020"/><stop offset="0.27" stop-color="#e08020"/><stop offset="0.35" stop-color="#e8b020"/><stop offset="0.45" stop-color="#e0d020"/><stop offset="0.56" stop-color="#b8d040"/><stop offset="0.67" stop-color="#70c070"/><stop offset="0.755" stop-color="#50b0d8"/><stop offset="0.825" stop-color="#3a80d0"/><stop offset="0.895" stop-color="#2850b0"/><stop offset="1" stop-color="#1c2880"/></linearGradient><linearGradient id="je" gradientUnits="userSpaceOnUse" x1="0" y1="90.4" x2="0" y2="160.6"><stop offset="0" stop-color="#a01818"/><stop offset="0.07" stop-color="#b82020"/><stop offset="0.17" stop-color="#d04020"/><stop offset="0.27" stop-color="#e08020"/><stop offset="0.35" stop-color="#e8b020"/><stop offset="0.45" stop-color="#e0d020"/><stop offset="0.56" stop-color="#b8d040"/><stop offset="0.67" stop-color="#70c070"/><stop offset="0.755" stop-color="#50b0d8"/><stop offset="0.825" stop-color="#3a80d0"/><stop offset="0.895" stop-color="#2850b0"/><stop offset="1" stop-color="#1c2880"/></linearGradient><radialGradient id="based" cx="0.5" cy="0.5" r="0.5"><stop offset="0" stop-color="#f2f2f2"/><stop offset="0.75" stop-color="#e2e2e2"/><stop offset="1" stop-color="#cfcfcf"/></radialGradient></defs><rect x="5.8" y="12.9" width="7.8" height="137" fill="url(#cbg)"/><g filter="url(#tb)" fill="#111" stroke="#111" stroke-width="0.12"><text x="-0.8" y="6.4" font-size="9.6">100 %</text><text x="3" y="162.5" font-size="9.6">0 %</text></g><g clip-path="url(#cpa)"><rect x="28.6" y="0" width="58.50" height="161.5" fill="#000"/><g filter="url(#bl)"><rect x="-62" y="0" width="130" height="1.02" fill="url(#ga0)" transform="matrix(1 0 0.874 1 33.81 0)"/><rect x="-62" y="1" width="130" height="1.02" fill="url(#ga1)" transform="matrix(1 0 0.863 1 33.82 0)"/><rect x="-62" y="2" width="130" height="1.02" fill="url(#ga1)" transform="matrix(1 0 0.852 1 33.84 0)"/><rect x="-62" y="3" width="130" height="1.02" fill="url(#ga2)" transform="matrix(1 0 0.841 1 33.88 0)"/><rect x="-62" y="4" width="130" height="1.02" fill="url(#ga2)" transform="matrix(1 0 0.830 1 33.92 0)"/><rect x="-62" y="5" width="130" height="1.02" fill="url(#ga3)" transform="matrix(1 0 0.819 1 33.98 0)"/><rect x="-62" y="6" width="130" height="1.02" fill="url(#ga3)" transform="matrix(1 0 0.808 1 34.04 0)"/><rect x="-62" y="7" width="130" height="1.02" fill="url(#ga4)" transform="matrix(1 0 0.797 1 34.12 0)"/><rect x="-62" y="8" width="130" height="1.02" fill="url(#ga4)" transform="matrix(1 0 0.786 1 34.21 0)"/><rect x="-62" y="9" width="130" height="1.02" fill="url(#ga5)" transform="matrix(1 0 0.775 1 34.31 0)"/><rect x="-62" y="10" width="130" height="1.02" fill="url(#ga5)" transform="matrix(1 0 0.764 1 34.42 0)"/><rect x="-62" y="11" width="130" height="1.02" fill="url(#ga6)" transform="matrix(1 0 0.753 1 34.54 0)"/><rect x="-62" y="12" width="130" height="1.02" fill="url(#ga6)" transform="matrix(1 0 0.742 1 34.67 0)"/><rect x="-62" y="13" width="130" height="1.02" fill="url(#ga7)" transform="matrix(1 0 0.731 1 34.82 0)"/><rect x="-62" y="14" width="130" height="1.02" fill="url(#ga7)" transform="matrix(1 0 0.720 1 34.97 0)"/><rect x="-62" y="15" width="130" height="1.02" fill="url(#ga8)" transform="matrix(1 0 0.709 1 35.14 0)"/><rect x="-62" y="16" width="130" height="1.02" fill="url(#ga8)" transform="matrix(1 0 0.697 1 35.31 0)"/><rect x="-62" y="17" width="130" height="1.02" fill="url(#ga9)" transform="matrix(1 0 0.686 1 35.50 0)"/><rect x="-62" y="18" width="130" height="1.02" fill="url(#ga9)" transform="matrix(1 0 0.675 1 35.70 0)"/><rect x="-62" y="19" width="130" height="1.02" fill="url(#ga10)" transform="matrix(1 0 0.664 1 35.91 0)"/><rect x="-62" y="20" width="130" height="1.02" fill="url(#ga10)" transform="matrix(1 0 0.653 1 36.13 0)"/><rect x="-62" y="21" width="130" height="1.02" fill="url(#ga11)" transform="matrix(1 0 0.642 1 36.36 0)"/><rect x="-62" y="22" width="130" height="1.02" fill="url(#ga11)" transform="matrix(1 0 0.631 1 36.61 0)"/><rect x="-62" y="23" width="130" height="1.02" fill="url(#ga12)" transform="matrix(1 0 0.620 1 36.86 0)"/><rect x="-62" y="24" width="130" height="1.02" fill="url(#ga12)" transform="matrix(1 0 0.609 1 37.12 0)"/><rect x="-62" y="25" width="130" height="1.02" fill="url(#ga13)" transform="matrix(1 0 0.598 1 37.40 0)"/><rect x="-62" y="26" width="130" height="1.02" fill="url(#ga13)" transform="matrix(1 0 0.587 1 37.69 0)"/><rect x="-62" y="27" width="130" height="1.02" fill="url(#ga14)" transform="matrix(1 0 0.576 1 37.99 0)"/><rect x="-62" y="28" width="130" height="1.02" fill="url(#ga14)" transform="matrix(1 0 0.565 1 38.29 0)"/><rect x="-62" y="29" width="130" height="1.02" fill="url(#ga15)" transform="matrix(1 0 0.554 1 38.61 0)"/><rect x="-62" y="30" width="130" height="1.02" fill="url(#ga15)" transform="matrix(1 0 0.543 1 38.95 0)"/><rect x="-62" y="31" width="130" height="1.02" fill="url(#ga16)" transform="matrix(1 0 0.532 1 39.29 0)"/><rect x="-62" y="32" width="130" height="1.02" fill="url(#ga16)" transform="matrix(1 0 0.521 1 39.64 0)"/><rect x="-62" y="33" width="130" height="1.02" fill="url(#ga17)" transform="matrix(1 0 0.510 1 40.01 0)"/><rect x="-62" y="34" width="130" height="1.02" fill="url(#ga17)" transform="matrix(1 0 0.499 1 40.38 0)"/><rect x="-62" y="35" width="130" height="1.02" fill="url(#ga18)" transform="matrix(1 0 0.488 1 40.77 0)"/><rect x="-62" y="36" width="130" height="1.02" fill="url(#ga18)" transform="matrix(1 0 0.477 1 41.17 0)"/><rect x="-62" y="37" width="130" height="1.02" fill="url(#ga19)" transform="matrix(1 0 0.466 1 41.57 0)"/><rect x="-62" y="38" width="130" height="1.02" fill="url(#ga19)" transform="matrix(1 0 0.455 1 41.99 0)"/><rect x="-62" y="39" width="130" height="1.02" fill="url(#ga20)" transform="matrix(1 0 0.444 1 42.43 0)"/><rect x="-62" y="40" width="130" height="1.02" fill="url(#ga20)" transform="matrix(1 0 0.432 1 42.87 0)"/><rect x="-62" y="41" width="130" height="1.02" fill="url(#ga21)" transform="matrix(1 0 0.421 1 43.32 0)"/><rect x="-62" y="42" width="130" height="1.02" fill="url(#ga21)" transform="matrix(1 0 0.410 1 43.79 0)"/><rect x="-62" y="43" width="130" height="1.02" fill="url(#ga22)" transform="matrix(1 0 0.399 1 44.26 0)"/><rect x="-62" y="44" width="130" height="1.02" fill="url(#ga22)" transform="matrix(1 0 0.388 1 44.75 0)"/><rect x="-62" y="45" width="130" height="1.02" fill="url(#ga23)" transform="matrix(1 0 0.377 1 45.25 0)"/><rect x="-62" y="46" width="130" height="1.02" fill="url(#ga23)" transform="matrix(1 0 0.366 1 45.76 0)"/><rect x="-62" y="47" width="130" height="1.02" fill="url(#ga24)" transform="matrix(1 0 0.355 1 46.28 0)"/><rect x="-62" y="48" width="130" height="1.02" fill="url(#ga24)" transform="matrix(1 0 0.344 1 46.81 0)"/><rect x="-62" y="49" width="130" height="1.02" fill="url(#ga25)" transform="matrix(1 0 0.333 1 47.36 0)"/><rect x="-62" y="50" width="130" height="1.02" fill="url(#ga25)" transform="matrix(1 0 0.322 1 47.91 0)"/><rect x="-62" y="51" width="130" height="1.02" fill="url(#ga26)" transform="matrix(1 0 0.311 1 48.48 0)"/><rect x="-62" y="52" width="130" height="1.02" fill="url(#ga26)" transform="matrix(1 0 0.299 1 49.06 0)"/><rect x="-62" y="53" width="130" height="1.02" fill="url(#ga27)" transform="matrix(1 0 0.288 1 49.65 0)"/><rect x="-62" y="54" width="130" height="1.02" fill="url(#ga27)" transform="matrix(1 0 0.277 1 50.25 0)"/><rect x="-62" y="55" width="130" height="1.02" fill="url(#ga28)" transform="matrix(1 0 0.266 1 50.86 0)"/><rect x="-62" y="56" width="130" height="1.02" fill="url(#ga28)" transform="matrix(1 0 0.255 1 51.48 0)"/><rect x="-62" y="57" width="130" height="1.02" fill="url(#ga29)" transform="matrix(1 0 0.244 1 52.12 0)"/><rect x="-62" y="58" width="130" height="1.02" fill="url(#ga29)" transform="matrix(1 0 0.233 1 52.76 0)"/><rect x="-62" y="59" width="130" height="1.02" fill="url(#ga30)" transform="matrix(1 0 0.221 1 53.42 0)"/><rect x="-62" y="60" width="130" height="1.02" fill="url(#ga30)" transform="matrix(1 0 0.210 1 54.09 0)"/><rect x="-62" y="61" width="130" height="1.02" fill="url(#ga31)" transform="matrix(1 0 0.199 1 54.78 0)"/><rect x="-62" y="62" width="130" height="1.02" fill="url(#ga31)" transform="matrix(1 0 0.188 1 55.47 0)"/><rect x="-62" y="63" width="130" height="1.02" fill="url(#ga32)" transform="matrix(1 0 0.177 1 56.17 0)"/><rect x="-62" y="64" width="130" height="1.02" fill="url(#ga32)" transform="matrix(1 0 0.166 1 56.89 0)"/><rect x="-62" y="65" width="130" height="1.02" fill="url(#ga33)" transform="matrix(1 0 0.154 1 57.62 0)"/><rect x="-62" y="66" width="130" height="1.02" fill="url(#ga33)" transform="matrix(1 0 0.143 1 58.36 0)"/><rect x="-62" y="67" width="130" height="1.02" fill="url(#ga34)" transform="matrix(1 0 0.132 1 59.11 0)"/><rect x="-62" y="68" width="130" height="1.02" fill="url(#ga34)" transform="matrix(1 0 0.121 1 59.87 0)"/><rect x="-62" y="69" width="130" height="1.02" fill="url(#ga35)" transform="matrix(1 0 0.109 1 60.65 0)"/><rect x="-62" y="70" width="130" height="1.02" fill="url(#ga35)" transform="matrix(1 0 0.098 1 61.44 0)"/><rect x="-62" y="71" width="130" height="1.02" fill="url(#ga36)" transform="matrix(1 0 0.087 1 62.24 0)"/><rect x="-62" y="72" width="130" height="1.02" fill="url(#ga36)" transform="matrix(1 0 0.076 1 63.05 0)"/><rect x="-62" y="73" width="130" height="1.02" fill="url(#ga37)" transform="matrix(1 0 0.064 1 63.87 0)"/><rect x="-62" y="74" width="130" height="1.02" fill="url(#ga37)" transform="matrix(1 0 0.053 1 64.71 0)"/><rect x="-62" y="75" width="130" height="1.02" fill="url(#ga38)" transform="matrix(1 0 0.042 1 65.55 0)"/><rect x="-62" y="76" width="130" height="1.02" fill="url(#ga38)" transform="matrix(1 0 0.030 1 66.41 0)"/><rect x="-62" y="77" width="130" height="1.02" fill="url(#ga39)" transform="matrix(1 0 0.019 1 67.29 0)"/><rect x="-62" y="78" width="130" height="1.02" fill="url(#ga39)" transform="matrix(1 0 0.008 1 68.17 0)"/><rect x="-62" y="79" width="130" height="1.02" fill="url(#ga40)" transform="matrix(1 0 -0.004 1 69.07 0)"/><rect x="-62" y="80" width="130" height="1.02" fill="url(#ga40)" transform="matrix(1 0 -0.015 1 69.97 0)"/><rect x="-62" y="81" width="130" height="1.02" fill="url(#ga41)" transform="matrix(1 0 -0.026 1 70.89 0)"/><rect x="-62" y="82" width="130" height="1.02" fill="url(#ga41)" transform="matrix(1 0 -0.038 1 71.83 0)"/><rect x="-62" y="83" width="130" height="1.02" fill="url(#ga42)" transform="matrix(1 0 -0.049 1 72.77 0)"/><rect x="-62" y="84" width="130" height="1.02" fill="url(#ga42)" transform="matrix(1 0 -0.060 1 73.73 0)"/><rect x="-62" y="85" width="130" height="1.02" fill="url(#ga43)" transform="matrix(1 0 -0.072 1 74.70 0)"/><rect x="-62" y="86" width="130" height="1.02" fill="url(#ga43)" transform="matrix(1 0 -0.083 1 75.68 0)"/><rect x="-62" y="87" width="130" height="1.02" fill="url(#ga44)" transform="matrix(1 0 -0.095 1 76.68 0)"/><rect x="-62" y="88" width="130" height="1.02" fill="url(#ga44)" transform="matrix(1 0 -0.106 1 77.69 0)"/><rect x="-62" y="89" width="130" height="1.02" fill="url(#ga45)" transform="matrix(1 0 -0.118 1 78.71 0)"/><rect x="-62" y="90" width="130" height="1.02" fill="url(#ga45)" transform="matrix(1 0 -0.129 1 79.74 0)"/><rect x="-62" y="91" width="130" height="1.02" fill="url(#ga46)" transform="matrix(1 0 -0.141 1 80.78 0)"/><rect x="-62" y="92" width="130" height="1.02" fill="url(#ga46)" transform="matrix(1 0 -0.152 1 81.84 0)"/><rect x="-62" y="93" width="130" height="1.02" fill="url(#ga47)" transform="matrix(1 0 -0.164 1 82.91 0)"/><rect x="-62" y="94" width="130" height="1.02" fill="url(#ga47)" transform="matrix(1 0 -0.175 1 84.00 0)"/><rect x="-62" y="95" width="130" height="1.02" fill="url(#ga48)" transform="matrix(1 0 -0.187 1 85.09 0)"/><rect x="-62" y="96" width="130" height="1.02" fill="url(#ga48)" transform="matrix(1 0 -0.198 1 86.20 0)"/><rect x="-62" y="97" width="130" height="1.02" fill="url(#ga49)" transform="matrix(1 0 -0.210 1 87.33 0)"/><rect x="-62" y="98" width="130" height="1.02" fill="url(#ga49)" transform="matrix(1 0 -0.221 1 88.46 0)"/><rect x="-62" y="99" width="130" height="1.02" fill="url(#ga50)" transform="matrix(1 0 -0.233 1 89.61 0)"/><rect x="-62" y="100" width="130" height="1.02" fill="url(#ga50)" transform="matrix(1 0 -0.245 1 90.77 0)"/><rect x="-62" y="101" width="130" height="1.02" fill="url(#ga51)" transform="matrix(1 0 -0.256 1 91.95 0)"/><rect x="-62" y="102" width="130" height="1.02" fill="url(#ga51)" transform="matrix(1 0 -0.268 1 93.14 0)"/><rect x="-62" y="103" width="130" height="1.02" fill="url(#ga52)" transform="matrix(1 0 -0.280 1 94.34 0)"/><rect x="-62" y="104" width="130" height="1.02" fill="url(#ga52)" transform="matrix(1 0 -0.291 1 95.55 0)"/><rect x="-62" y="105" width="130" height="1.02" fill="url(#ga53)" transform="matrix(1 0 -0.303 1 96.78 0)"/><rect x="-62" y="106" width="130" height="1.02" fill="url(#ga53)" transform="matrix(1 0 -0.315 1 98.02 0)"/><rect x="-62" y="107" width="130" height="1.02" fill="url(#ga54)" transform="matrix(1 0 -0.326 1 99.28 0)"/><rect x="-62" y="108" width="130" height="1.02" fill="url(#ga54)" transform="matrix(1 0 -0.338 1 100.55 0)"/><rect x="-62" y="109" width="130" height="1.02" fill="url(#ga55)" transform="matrix(1 0 -0.350 1 101.83 0)"/><rect x="-62" y="110" width="130" height="1.02" fill="url(#ga55)" transform="matrix(1 0 -0.362 1 103.12 0)"/><rect x="-62" y="111" width="130" height="1.02" fill="url(#ga56)" transform="matrix(1 0 -0.373 1 104.43 0)"/><rect x="-62" y="112" width="130" height="1.02" fill="url(#ga56)" transform="matrix(1 0 -0.385 1 105.76 0)"/><rect x="-62" y="113" width="130" height="1.02" fill="url(#ga57)" transform="matrix(1 0 -0.397 1 107.10 0)"/><rect x="-62" y="114" width="130" height="1.02" fill="url(#ga57)" transform="matrix(1 0 -0.409 1 108.45 0)"/><rect x="-62" y="115" width="130" height="1.02" fill="url(#ga58)" transform="matrix(1 0 -0.421 1 109.81 0)"/><rect x="-62" y="116" width="130" height="1.02" fill="url(#ga58)" transform="matrix(1 0 -0.433 1 111.19 0)"/><rect x="-62" y="117" width="130" height="1.02" fill="url(#ga59)" transform="matrix(1 0 -0.445 1 112.58 0)"/><rect x="-62" y="118" width="130" height="1.02" fill="url(#ga59)" transform="matrix(1 0 -0.457 1 113.99 0)"/><rect x="-62" y="119" width="130" height="1.02" fill="url(#ga60)" transform="matrix(1 0 -0.469 1 115.41 0)"/><rect x="-62" y="120" width="130" height="1.02" fill="url(#ga60)" transform="matrix(1 0 -0.480 1 116.85 0)"/><rect x="-62" y="121" width="130" height="1.02" fill="url(#ga61)" transform="matrix(1 0 -0.492 1 118.30 0)"/><rect x="-62" y="122" width="130" height="1.02" fill="url(#ga61)" transform="matrix(1 0 -0.504 1 119.76 0)"/><rect x="-62" y="123" width="130" height="1.02" fill="url(#ga62)" transform="matrix(1 0 -0.517 1 121.24 0)"/><rect x="-62" y="124" width="130" height="1.02" fill="url(#ga62)" transform="matrix(1 0 -0.529 1 122.73 0)"/><rect x="-62" y="125" width="130" height="1.02" fill="url(#ga63)" transform="matrix(1 0 -0.541 1 124.24 0)"/><rect x="-62" y="126" width="130" height="1.02" fill="url(#ga63)" transform="matrix(1 0 -0.553 1 125.77 0)"/><rect x="-62" y="127" width="130" height="1.02" fill="url(#ga64)" transform="matrix(1 0 -0.565 1 127.30 0)"/><rect x="-62" y="128" width="130" height="1.02" fill="url(#ga64)" transform="matrix(1 0 -0.577 1 128.85 0)"/><rect x="-62" y="129" width="130" height="1.02" fill="url(#ga65)" transform="matrix(1 0 -0.589 1 130.42 0)"/><rect x="-62" y="130" width="130" height="1.02" fill="url(#ga65)" transform="matrix(1 0 -0.601 1 132.00 0)"/><rect x="-62" y="131" width="130" height="1.02" fill="url(#ga66)" transform="matrix(1 0 -0.613 1 133.60 0)"/><rect x="-62" y="132" width="130" height="1.02" fill="url(#ga66)" transform="matrix(1 0 -0.626 1 135.21 0)"/><rect x="-62" y="133" width="130" height="1.02" fill="url(#ga67)" transform="matrix(1 0 -0.638 1 136.84 0)"/><rect x="-62" y="134" width="130" height="1.02" fill="url(#ga67)" transform="matrix(1 0 -0.650 1 138.48 0)"/><rect x="-62" y="135" width="130" height="1.02" fill="url(#ga68)" transform="matrix(1 0 -0.662 1 140.14 0)"/><rect x="-62" y="136" width="130" height="1.02" fill="url(#ga68)" transform="matrix(1 0 -0.675 1 141.81 0)"/><rect x="-62" y="137" width="130" height="1.02" fill="url(#ga69)" transform="matrix(1 0 -0.687 1 143.50 0)"/><rect x="-62" y="138" width="130" height="1.02" fill="url(#ga69)" transform="matrix(1 0 -0.699 1 145.20 0)"/><rect x="-62" y="139" width="130" height="1.02" fill="url(#ga70)" transform="matrix(1 0 -0.712 1 146.92 0)"/><rect x="-62" y="140" width="130" height="1.02" fill="url(#ga70)" transform="matrix(1 0 -0.724 1 148.66 0)"/><rect x="-62" y="141" width="130" height="1.02" fill="url(#ga71)" transform="matrix(1 0 -0.737 1 150.41 0)"/><rect x="-62" y="142" width="130" height="1.02" fill="url(#ga71)" transform="matrix(1 0 -0.749 1 152.17 0)"/><rect x="-62" y="143" width="130" height="1.02" fill="url(#ga72)" transform="matrix(1 0 -0.761 1 153.95 0)"/><rect x="-62" y="144" width="130" height="1.02" fill="url(#ga72)" transform="matrix(1 0 -0.774 1 155.75 0)"/><rect x="-62" y="145" width="130" height="1.02" fill="url(#ga73)" transform="matrix(1 0 -0.786 1 157.57 0)"/><rect x="-62" y="146" width="130" height="1.02" fill="url(#ga73)" transform="matrix(1 0 -0.799 1 159.40 0)"/><rect x="-62" y="147" width="130" height="1.02" fill="url(#ga74)" transform="matrix(1 0 -0.812 1 161.24 0)"/><rect x="-62" y="148" width="130" height="1.02" fill="url(#ga74)" transform="matrix(1 0 -0.824 1 163.10 0)"/><rect x="-62" y="149" width="130" height="1.02" fill="url(#ga75)" transform="matrix(1 0 -0.837 1 164.98 0)"/><rect x="-62" y="150" width="130" height="1.02" fill="url(#ga75)" transform="matrix(1 0 -0.849 1 166.88 0)"/><rect x="-62" y="151" width="130" height="1.02" fill="url(#ga76)" transform="matrix(1 0 -0.862 1 168.79 0)"/><rect x="-62" y="152" width="130" height="1.02" fill="url(#ga76)" transform="matrix(1 0 -0.875 1 170.72 0)"/><rect x="-62" y="153" width="130" height="1.02" fill="url(#ga77)" transform="matrix(1 0 -0.887 1 172.66 0)"/><rect x="-62" y="154" width="130" height="1.02" fill="url(#ga77)" transform="matrix(1 0 -0.900 1 174.62 0)"/><rect x="-62" y="155" width="130" height="1.02" fill="url(#ga78)" transform="matrix(1 0 -0.913 1 176.60 0)"/><rect x="-62" y="156" width="130" height="1.02" fill="url(#ga78)" transform="matrix(1 0 -0.926 1 178.59 0)"/><rect x="-62" y="157" width="130" height="1.02" fill="url(#ga79)" transform="matrix(1 0 -0.938 1 180.61 0)"/><rect x="-62" y="158" width="130" height="1.02" fill="url(#ga79)" transform="matrix(1 0 -0.951 1 182.64 0)"/><rect x="-62" y="159" width="130" height="1.02" fill="url(#ga80)" transform="matrix(1 0 -0.964 1 184.68 0)"/><rect x="-62" y="160" width="130" height="1.02" fill="url(#ga80)" transform="matrix(1 0 -0.977 1 186.74 0)"/><rect x="-62" y="161" width="130" height="1.02" fill="url(#ga81)" transform="matrix(1 0 -0.990 1 188.83 0)"/></g><rect x="28.6" y="0" width="3" height="161.5" fill="url(#ledge)"/><rect x="64.1" y="77.3" width="6.3" height="6.5" fill="#000"/><path d="M64.8 73.6 L67 71.6 L67 75.6Z" fill="#fff" filter="url(#bl2)"/><g fill="#e8e8e8" filter="url(#tb)"><text x="84.4" y="10.7" font-size="10.7" font-weight="bold" text-anchor="end">(a)</text><text x="83.6" y="22.6" font-size="9.4" text-anchor="end" stroke="#e8e8e8" stroke-width="0.2">50 m/s</text><line x1="62.9" y1="27.6" x2="80.3" y2="27.6" stroke="#e8e8e8" stroke-width="0.95"/><path d="M61.4 27.6 l2.8 -1.6 v3.2z M81.8 27.6 l-2.8 -1.6 v3.2z"/><text x="44.1" y="158.3" font-size="9">-z</text><text x="78.7" y="158.3" font-size="9">z</text><path d="M46.7 153.6 l1.4 -1.3 l1.4 1.3 M79.1 153.6 l1.4 -1.3 l1.4 1.3" stroke="#e8e8e8" stroke-width="0.7" fill="none"/><line x1="55.3" y1="155.7" x2="75.5" y2="155.7" stroke="#e8e8e8" stroke-width="0.8"/><path d="M53.8 155.7 l2.4 -1.3 v2.6z M77.0 155.7 l-2.4 -1.3 v2.6z"/><circle cx="65.4" cy="155.7" r="0.8"/></g></g><g clip-path="url(#cpb)"><rect x="100.0" y="0" width="58.20" height="161.5" fill="#000"/><g filter="url(#bl)"><rect x="-62" y="0" width="130" height="1.02" fill="url(#gb0)" transform="matrix(1 0 0.867 1 106.41 0)"/><rect x="-62" y="1" width="130" height="1.02" fill="url(#gb1)" transform="matrix(1 0 0.856 1 106.42 0)"/><rect x="-62" y="2" width="130" height="1.02" fill="url(#gb1)" transform="matrix(1 0 0.845 1 106.44 0)"/><rect x="-62" y="3" width="130" height="1.02" fill="url(#gb2)" transform="matrix(1 0 0.834 1 106.48 0)"/><rect x="-62" y="4" width="130" height="1.02" fill="url(#gb2)" transform="matrix(1 0 0.823 1 106.52 0)"/><rect x="-62" y="5" width="130" height="1.02" fill="url(#gb3)" transform="matrix(1 0 0.812 1 106.58 0)"/><rect x="-62" y="6" width="130" height="1.02" fill="url(#gb3)" transform="matrix(1 0 0.800 1 106.64 0)"/><rect x="-62" y="7" width="130" height="1.02" fill="url(#gb4)" transform="matrix(1 0 0.789 1 106.72 0)"/><rect x="-62" y="8" width="130" height="1.02" fill="url(#gb4)" transform="matrix(1 0 0.778 1 106.81 0)"/><rect x="-62" y="9" width="130" height="1.02" fill="url(#gb5)" transform="matrix(1 0 0.767 1 106.91 0)"/><rect x="-62" y="10" width="130" height="1.02" fill="url(#gb5)" transform="matrix(1 0 0.756 1 107.02 0)"/><rect x="-62" y="11" width="130" height="1.02" fill="url(#gb6)" transform="matrix(1 0 0.745 1 107.14 0)"/><rect x="-62" y="12" width="130" height="1.02" fill="url(#gb6)" transform="matrix(1 0 0.734 1 107.27 0)"/><rect x="-62" y="13" width="130" height="1.02" fill="url(#gb7)" transform="matrix(1 0 0.723 1 107.42 0)"/><rect x="-62" y="14" width="130" height="1.02" fill="url(#gb7)" transform="matrix(1 0 0.712 1 107.57 0)"/><rect x="-62" y="15" width="130" height="1.02" fill="url(#gb8)" transform="matrix(1 0 0.701 1 107.74 0)"/><rect x="-62" y="16" width="130" height="1.02" fill="url(#gb8)" transform="matrix(1 0 0.690 1 107.91 0)"/><rect x="-62" y="17" width="130" height="1.02" fill="url(#gb9)" transform="matrix(1 0 0.679 1 108.10 0)"/><rect x="-62" y="18" width="130" height="1.02" fill="url(#gb9)" transform="matrix(1 0 0.668 1 108.30 0)"/><rect x="-62" y="19" width="130" height="1.02" fill="url(#gb10)" transform="matrix(1 0 0.657 1 108.51 0)"/><rect x="-62" y="20" width="130" height="1.02" fill="url(#gb10)" transform="matrix(1 0 0.646 1 108.73 0)"/><rect x="-62" y="21" width="130" height="1.02" fill="url(#gb11)" transform="matrix(1 0 0.635 1 108.96 0)"/><rect x="-62" y="22" width="130" height="1.02" fill="url(#gb11)" transform="matrix(1 0 0.624 1 109.21 0)"/><rect x="-62" y="23" width="130" height="1.02" fill="url(#gb12)" transform="matrix(1 0 0.613 1 109.46 0)"/><rect x="-62" y="24" width="130" height="1.02" fill="url(#gb12)" transform="matrix(1 0 0.602 1 109.72 0)"/><rect x="-62" y="25" width="130" height="1.02" fill="url(#gb13)" transform="matrix(1 0 0.591 1 110.00 0)"/><rect x="-62" y="26" width="130" height="1.02" fill="url(#gb13)" transform="matrix(1 0 0.580 1 110.29 0)"/><rect x="-62" y="27" width="130" height="1.02" fill="url(#gb14)" transform="matrix(1 0 0.569 1 110.59 0)"/><rect x="-62" y="28" width="130" height="1.02" fill="url(#gb14)" transform="matrix(1 0 0.558 1 110.89 0)"/><rect x="-62" y="29" width="130" height="1.02" fill="url(#gb15)" transform="matrix(1 0 0.547 1 111.21 0)"/><rect x="-62" y="30" width="130" height="1.02" fill="url(#gb15)" transform="matrix(1 0 0.535 1 111.55 0)"/><rect x="-62" y="31" width="130" height="1.02" fill="url(#gb16)" transform="matrix(1 0 0.524 1 111.89 0)"/><rect x="-62" y="32" width="130" height="1.02" fill="url(#gb16)" transform="matrix(1 0 0.513 1 112.24 0)"/><rect x="-62" y="33" width="130" height="1.02" fill="url(#gb17)" transform="matrix(1 0 0.502 1 112.61 0)"/><rect x="-62" y="34" width="130" height="1.02" fill="url(#gb17)" transform="matrix(1 0 0.491 1 112.98 0)"/><rect x="-62" y="35" width="130" height="1.02" fill="url(#gb18)" transform="matrix(1 0 0.480 1 113.37 0)"/><rect x="-62" y="36" width="130" height="1.02" fill="url(#gb18)" transform="matrix(1 0 0.469 1 113.77 0)"/><rect x="-62" y="37" width="130" height="1.02" fill="url(#gb19)" transform="matrix(1 0 0.458 1 114.17 0)"/><rect x="-62" y="38" width="130" height="1.02" fill="url(#gb19)" transform="matrix(1 0 0.447 1 114.59 0)"/><rect x="-62" y="39" width="130" height="1.02" fill="url(#gb20)" transform="matrix(1 0 0.436 1 115.03 0)"/><rect x="-62" y="40" width="130" height="1.02" fill="url(#gb20)" transform="matrix(1 0 0.425 1 115.47 0)"/><rect x="-62" y="41" width="130" height="1.02" fill="url(#gb21)" transform="matrix(1 0 0.414 1 115.92 0)"/><rect x="-62" y="42" width="130" height="1.02" fill="url(#gb21)" transform="matrix(1 0 0.403 1 116.39 0)"/><rect x="-62" y="43" width="130" height="1.02" fill="url(#gb22)" transform="matrix(1 0 0.392 1 116.86 0)"/><rect x="-62" y="44" width="130" height="1.02" fill="url(#gb22)" transform="matrix(1 0 0.381 1 117.35 0)"/><rect x="-62" y="45" width="130" height="1.02" fill="url(#gb23)" transform="matrix(1 0 0.370 1 117.85 0)"/><rect x="-62" y="46" width="130" height="1.02" fill="url(#gb23)" transform="matrix(1 0 0.359 1 118.36 0)"/><rect x="-62" y="47" width="130" height="1.02" fill="url(#gb24)" transform="matrix(1 0 0.347 1 118.88 0)"/><rect x="-62" y="48" width="130" height="1.02" fill="url(#gb24)" transform="matrix(1 0 0.336 1 119.41 0)"/><rect x="-62" y="49" width="130" height="1.02" fill="url(#gb25)" transform="matrix(1 0 0.325 1 119.96 0)"/><rect x="-62" y="50" width="130" height="1.02" fill="url(#gb25)" transform="matrix(1 0 0.314 1 120.51 0)"/><rect x="-62" y="51" width="130" height="1.02" fill="url(#gb26)" transform="matrix(1 0 0.303 1 121.08 0)"/><rect x="-62" y="52" width="130" height="1.02" fill="url(#gb26)" transform="matrix(1 0 0.292 1 121.66 0)"/><rect x="-62" y="53" width="130" height="1.02" fill="url(#gb27)" transform="matrix(1 0 0.281 1 122.25 0)"/><rect x="-62" y="54" width="130" height="1.02" fill="url(#gb27)" transform="matrix(1 0 0.270 1 122.85 0)"/><rect x="-62" y="55" width="130" height="1.02" fill="url(#gb28)" transform="matrix(1 0 0.259 1 123.46 0)"/><rect x="-62" y="56" width="130" height="1.02" fill="url(#gb28)" transform="matrix(1 0 0.247 1 124.08 0)"/><rect x="-62" y="57" width="130" height="1.02" fill="url(#gb29)" transform="matrix(1 0 0.236 1 124.72 0)"/><rect x="-62" y="58" width="130" height="1.02" fill="url(#gb29)" transform="matrix(1 0 0.225 1 125.36 0)"/><rect x="-62" y="59" width="130" height="1.02" fill="url(#gb30)" transform="matrix(1 0 0.214 1 126.02 0)"/><rect x="-62" y="60" width="130" height="1.02" fill="url(#gb30)" transform="matrix(1 0 0.203 1 126.69 0)"/><rect x="-62" y="61" width="130" height="1.02" fill="url(#gb31)" transform="matrix(1 0 0.192 1 127.38 0)"/><rect x="-62" y="62" width="130" height="1.02" fill="url(#gb31)" transform="matrix(1 0 0.180 1 128.07 0)"/><rect x="-62" y="63" width="130" height="1.02" fill="url(#gb32)" transform="matrix(1 0 0.169 1 128.77 0)"/><rect x="-62" y="64" width="130" height="1.02" fill="url(#gb32)" transform="matrix(1 0 0.158 1 129.49 0)"/><rect x="-62" y="65" width="130" height="1.02" fill="url(#gb33)" transform="matrix(1 0 0.147 1 130.22 0)"/><rect x="-62" y="66" width="130" height="1.02" fill="url(#gb33)" transform="matrix(1 0 0.136 1 130.96 0)"/><rect x="-62" y="67" width="130" height="1.02" fill="url(#gb34)" transform="matrix(1 0 0.124 1 131.71 0)"/><rect x="-62" y="68" width="130" height="1.02" fill="url(#gb34)" transform="matrix(1 0 0.113 1 132.47 0)"/><rect x="-62" y="69" width="130" height="1.02" fill="url(#gb35)" transform="matrix(1 0 0.102 1 133.25 0)"/><rect x="-62" y="70" width="130" height="1.02" fill="url(#gb35)" transform="matrix(1 0 0.091 1 134.04 0)"/><rect x="-62" y="71" width="130" height="1.02" fill="url(#gb36)" transform="matrix(1 0 0.079 1 134.84 0)"/><rect x="-62" y="72" width="130" height="1.02" fill="url(#gb36)" transform="matrix(1 0 0.068 1 135.65 0)"/><rect x="-62" y="73" width="130" height="1.02" fill="url(#gb37)" transform="matrix(1 0 0.057 1 136.47 0)"/><rect x="-62" y="74" width="130" height="1.02" fill="url(#gb37)" transform="matrix(1 0 0.046 1 137.31 0)"/><rect x="-62" y="75" width="130" height="1.02" fill="url(#gb38)" transform="matrix(1 0 0.034 1 138.15 0)"/><rect x="-62" y="76" width="130" height="1.02" fill="url(#gb38)" transform="matrix(1 0 0.023 1 139.01 0)"/><rect x="-62" y="77" width="130" height="1.02" fill="url(#gb39)" transform="matrix(1 0 0.012 1 139.89 0)"/><rect x="-62" y="78" width="130" height="1.02" fill="url(#gb39)" transform="matrix(1 0 0.000 1 140.77 0)"/><rect x="-62" y="79" width="130" height="1.02" fill="url(#gb40)" transform="matrix(1 0 -0.011 1 141.67 0)"/><rect x="-62" y="80" width="130" height="1.02" fill="url(#gb40)" transform="matrix(1 0 -0.007 1 141.37 0)"/><rect x="-62" y="81" width="130" height="1.02" fill="url(#gb41)" transform="matrix(1 0 -0.019 1 142.29 0)"/><rect x="-62" y="82" width="130" height="1.02" fill="url(#gb41)" transform="matrix(1 0 -0.030 1 143.23 0)"/><rect x="-62" y="83" width="130" height="1.02" fill="url(#gb42)" transform="matrix(1 0 -0.042 1 144.17 0)"/><rect x="-62" y="84" width="130" height="1.02" fill="url(#gb42)" transform="matrix(1 0 -0.053 1 145.13 0)"/><rect x="-62" y="85" width="130" height="1.02" fill="url(#gb43)" transform="matrix(1 0 -0.064 1 146.10 0)"/><rect x="-62" y="86" width="130" height="1.02" fill="url(#gb43)" transform="matrix(1 0 -0.076 1 147.08 0)"/><rect x="-62" y="87" width="130" height="1.02" fill="url(#gb44)" transform="matrix(1 0 -0.087 1 148.08 0)"/><rect x="-62" y="88" width="130" height="1.02" fill="url(#gb44)" transform="matrix(1 0 -0.099 1 149.09 0)"/><rect x="-62" y="89" width="130" height="1.02" fill="url(#gb45)" transform="matrix(1 0 -0.110 1 150.11 0)"/><rect x="-62" y="90" width="130" height="1.02" fill="url(#gb45)" transform="matrix(1 0 -0.122 1 151.14 0)"/><rect x="-62" y="91" width="130" height="1.02" fill="url(#gb46)" transform="matrix(1 0 -0.133 1 152.18 0)"/><rect x="-62" y="92" width="130" height="1.02" fill="url(#gb46)" transform="matrix(1 0 -0.145 1 153.24 0)"/><rect x="-62" y="93" width="130" height="1.02" fill="url(#gb47)" transform="matrix(1 0 -0.156 1 154.31 0)"/><rect x="-62" y="94" width="130" height="1.02" fill="url(#gb47)" transform="matrix(1 0 -0.168 1 155.40 0)"/><rect x="-62" y="95" width="130" height="1.02" fill="url(#gb48)" transform="matrix(1 0 -0.179 1 156.49 0)"/><rect x="-62" y="96" width="130" height="1.02" fill="url(#gb48)" transform="matrix(1 0 -0.191 1 157.60 0)"/><rect x="-62" y="97" width="130" height="1.02" fill="url(#gb49)" transform="matrix(1 0 -0.202 1 158.73 0)"/><rect x="-62" y="98" width="130" height="1.02" fill="url(#gb49)" transform="matrix(1 0 -0.214 1 159.86 0)"/><rect x="-62" y="99" width="130" height="1.02" fill="url(#gb50)" transform="matrix(1 0 -0.226 1 161.01 0)"/><rect x="-62" y="100" width="130" height="1.02" fill="url(#gb50)" transform="matrix(1 0 -0.237 1 162.17 0)"/><rect x="-62" y="101" width="130" height="1.02" fill="url(#gb51)" transform="matrix(1 0 -0.249 1 163.35 0)"/><rect x="-62" y="102" width="130" height="1.02" fill="url(#gb51)" transform="matrix(1 0 -0.260 1 164.54 0)"/><rect x="-62" y="103" width="130" height="1.02" fill="url(#gb52)" transform="matrix(1 0 -0.272 1 165.74 0)"/><rect x="-62" y="104" width="130" height="1.02" fill="url(#gb52)" transform="matrix(1 0 -0.284 1 166.95 0)"/><rect x="-62" y="105" width="130" height="1.02" fill="url(#gb53)" transform="matrix(1 0 -0.295 1 168.18 0)"/><rect x="-62" y="106" width="130" height="1.02" fill="url(#gb53)" transform="matrix(1 0 -0.307 1 169.42 0)"/><rect x="-62" y="107" width="130" height="1.02" fill="url(#gb54)" transform="matrix(1 0 -0.319 1 170.68 0)"/><rect x="-62" y="108" width="130" height="1.02" fill="url(#gb54)" transform="matrix(1 0 -0.331 1 171.95 0)"/><rect x="-62" y="109" width="130" height="1.02" fill="url(#gb55)" transform="matrix(1 0 -0.342 1 173.23 0)"/><rect x="-62" y="110" width="130" height="1.02" fill="url(#gb55)" transform="matrix(1 0 -0.354 1 174.52 0)"/><rect x="-62" y="111" width="130" height="1.02" fill="url(#gb56)" transform="matrix(1 0 -0.366 1 175.83 0)"/><rect x="-62" y="112" width="130" height="1.02" fill="url(#gb56)" transform="matrix(1 0 -0.378 1 177.16 0)"/><rect x="-62" y="113" width="130" height="1.02" fill="url(#gb57)" transform="matrix(1 0 -0.390 1 178.50 0)"/><rect x="-62" y="114" width="130" height="1.02" fill="url(#gb57)" transform="matrix(1 0 -0.401 1 179.85 0)"/><rect x="-62" y="115" width="130" height="1.02" fill="url(#gb58)" transform="matrix(1 0 -0.413 1 181.21 0)"/><rect x="-62" y="116" width="130" height="1.02" fill="url(#gb58)" transform="matrix(1 0 -0.425 1 182.59 0)"/><rect x="-62" y="117" width="130" height="1.02" fill="url(#gb59)" transform="matrix(1 0 -0.437 1 183.98 0)"/><rect x="-62" y="118" width="130" height="1.02" fill="url(#gb59)" transform="matrix(1 0 -0.449 1 185.39 0)"/><rect x="-62" y="119" width="130" height="1.02" fill="url(#gb60)" transform="matrix(1 0 -0.461 1 186.81 0)"/><rect x="-62" y="120" width="130" height="1.02" fill="url(#gb60)" transform="matrix(1 0 -0.473 1 188.25 0)"/><rect x="-62" y="121" width="130" height="1.02" fill="url(#gb61)" transform="matrix(1 0 -0.485 1 189.70 0)"/><rect x="-62" y="122" width="130" height="1.02" fill="url(#gb61)" transform="matrix(1 0 -0.497 1 191.16 0)"/><rect x="-62" y="123" width="130" height="1.02" fill="url(#gb62)" transform="matrix(1 0 -0.509 1 192.64 0)"/><rect x="-62" y="124" width="130" height="1.02" fill="url(#gb62)" transform="matrix(1 0 -0.521 1 194.13 0)"/><rect x="-62" y="125" width="130" height="1.02" fill="url(#gb63)" transform="matrix(1 0 -0.533 1 195.64 0)"/><rect x="-62" y="126" width="130" height="1.02" fill="url(#gb63)" transform="matrix(1 0 -0.545 1 197.17 0)"/><rect x="-62" y="127" width="130" height="1.02" fill="url(#gb64)" transform="matrix(1 0 -0.557 1 198.70 0)"/><rect x="-62" y="128" width="130" height="1.02" fill="url(#gb64)" transform="matrix(1 0 -0.569 1 200.25 0)"/><rect x="-62" y="129" width="130" height="1.02" fill="url(#gb65)" transform="matrix(1 0 -0.582 1 201.82 0)"/><rect x="-62" y="130" width="130" height="1.02" fill="url(#gb65)" transform="matrix(1 0 -0.594 1 203.40 0)"/><rect x="-62" y="131" width="130" height="1.02" fill="url(#gb66)" transform="matrix(1 0 -0.606 1 205.00 0)"/><rect x="-62" y="132" width="130" height="1.02" fill="url(#gb66)" transform="matrix(1 0 -0.618 1 206.61 0)"/><rect x="-62" y="133" width="130" height="1.02" fill="url(#gb67)" transform="matrix(1 0 -0.630 1 208.24 0)"/><rect x="-62" y="134" width="130" height="1.02" fill="url(#gb67)" transform="matrix(1 0 -0.643 1 209.88 0)"/><rect x="-62" y="135" width="130" height="1.02" fill="url(#gb68)" transform="matrix(1 0 -0.655 1 211.54 0)"/><rect x="-62" y="136" width="130" height="1.02" fill="url(#gb68)" transform="matrix(1 0 -0.667 1 213.21 0)"/><rect x="-62" y="137" width="130" height="1.02" fill="url(#gb69)" transform="matrix(1 0 -0.680 1 214.90 0)"/><rect x="-62" y="138" width="130" height="1.02" fill="url(#gb69)" transform="matrix(1 0 -0.692 1 216.60 0)"/><rect x="-62" y="139" width="130" height="1.02" fill="url(#gb70)" transform="matrix(1 0 -0.704 1 218.32 0)"/><rect x="-62" y="140" width="130" height="1.02" fill="url(#gb70)" transform="matrix(1 0 -0.717 1 220.06 0)"/><rect x="-62" y="141" width="130" height="1.02" fill="url(#gb71)" transform="matrix(1 0 -0.729 1 221.81 0)"/><rect x="-62" y="142" width="130" height="1.02" fill="url(#gb71)" transform="matrix(1 0 -0.741 1 223.57 0)"/><rect x="-62" y="143" width="130" height="1.02" fill="url(#gb72)" transform="matrix(1 0 -0.754 1 225.35 0)"/><rect x="-62" y="144" width="130" height="1.02" fill="url(#gb72)" transform="matrix(1 0 -0.766 1 227.15 0)"/><rect x="-62" y="145" width="130" height="1.02" fill="url(#gb73)" transform="matrix(1 0 -0.779 1 228.97 0)"/><rect x="-62" y="146" width="130" height="1.02" fill="url(#gb73)" transform="matrix(1 0 -0.791 1 230.80 0)"/><rect x="-62" y="147" width="130" height="1.02" fill="url(#gb74)" transform="matrix(1 0 -0.804 1 232.64 0)"/><rect x="-62" y="148" width="130" height="1.02" fill="url(#gb74)" transform="matrix(1 0 -0.817 1 234.50 0)"/><rect x="-62" y="149" width="130" height="1.02" fill="url(#gb75)" transform="matrix(1 0 -0.829 1 236.38 0)"/><rect x="-62" y="150" width="130" height="1.02" fill="url(#gb75)" transform="matrix(1 0 -0.842 1 238.28 0)"/><rect x="-62" y="151" width="130" height="1.02" fill="url(#gb76)" transform="matrix(1 0 -0.854 1 240.19 0)"/><rect x="-62" y="152" width="130" height="1.02" fill="url(#gb76)" transform="matrix(1 0 -0.867 1 242.12 0)"/><rect x="-62" y="153" width="130" height="1.02" fill="url(#gb77)" transform="matrix(1 0 -0.880 1 244.06 0)"/><rect x="-62" y="154" width="130" height="1.02" fill="url(#gb77)" transform="matrix(1 0 -0.893 1 246.02 0)"/><rect x="-62" y="155" width="130" height="1.02" fill="url(#gb78)" transform="matrix(1 0 -0.905 1 248.00 0)"/><rect x="-62" y="156" width="130" height="1.02" fill="url(#gb78)" transform="matrix(1 0 -0.918 1 249.99 0)"/><rect x="-62" y="157" width="130" height="1.02" fill="url(#gb79)" transform="matrix(1 0 -0.931 1 252.01 0)"/><rect x="-62" y="158" width="130" height="1.02" fill="url(#gb79)" transform="matrix(1 0 -0.944 1 254.04 0)"/><rect x="-62" y="159" width="130" height="1.02" fill="url(#gb80)" transform="matrix(1 0 -0.957 1 256.08 0)"/><rect x="-62" y="160" width="130" height="1.02" fill="url(#gb80)" transform="matrix(1 0 -0.970 1 258.14 0)"/><rect x="-62" y="161" width="130" height="1.02" fill="url(#gb81)" transform="matrix(1 0 -0.983 1 260.23 0)"/></g><rect x="100.0" y="0" width="3" height="161.5" fill="url(#ledge)"/><rect x="135" y="77.1" width="6.8" height="6.7" fill="#000"/><path d="M137.1 71.6 L138.4 75.3 L135.8 75.3Z M137.1 89.7 L138.4 85.2 L135.8 85.2Z" fill="#fff" filter="url(#bl2)"/><g fill="#e8e8e8" filter="url(#tb)"><text x="155.8" y="10.7" font-size="10.7" font-weight="bold" text-anchor="end">(b)</text><text x="155.0" y="22.6" font-size="9.4" text-anchor="end" stroke="#e8e8e8" stroke-width="0.2">50 m/s</text><line x1="134.3" y1="27.6" x2="151.7" y2="27.6" stroke="#e8e8e8" stroke-width="0.95"/><path d="M132.8 27.6 l2.8 -1.6 v3.2z M153.2 27.6 l-2.8 -1.6 v3.2z"/><text x="115.5" y="158.3" font-size="9">-z</text><text x="150.1" y="158.3" font-size="9">z</text><path d="M118.1 153.6 l1.4 -1.3 l1.4 1.3 M150.5 153.6 l1.4 -1.3 l1.4 1.3" stroke="#e8e8e8" stroke-width="0.7" fill="none"/><line x1="126.7" y1="155.7" x2="146.9" y2="155.7" stroke="#e8e8e8" stroke-width="0.8"/><path d="M125.2 155.7 l2.4 -1.3 v2.6z M148.4 155.7 l-2.4 -1.3 v2.6z"/><circle cx="136.8" cy="155.7" r="0.8"/></g></g><g clip-path="url(#cpc)"><rect x="171.1" y="0" width="58.10" height="161.5" fill="#000"/><g filter="url(#bl)"><rect x="-62" y="0" width="130" height="1.02" fill="url(#gc0)" transform="matrix(1 0 0.871 1 175.29 0)"/><rect x="-62" y="1" width="130" height="1.02" fill="url(#gc1)" transform="matrix(1 0 0.857 1 175.30 0)"/><rect x="-62" y="2" width="130" height="1.02" fill="url(#gc1)" transform="matrix(1 0 0.843 1 175.33 0)"/><rect x="-62" y="3" width="130" height="1.02" fill="url(#gc2)" transform="matrix(1 0 0.829 1 175.37 0)"/><rect x="-62" y="4" width="130" height="1.02" fill="url(#gc2)" transform="matrix(1 0 0.815 1 175.43 0)"/><rect x="-62" y="5" width="130" height="1.02" fill="url(#gc3)" transform="matrix(1 0 0.802 1 175.49 0)"/><rect x="-62" y="6" width="130" height="1.02" fill="url(#gc3)" transform="matrix(1 0 0.788 1 175.58 0)"/><rect x="-62" y="7" width="130" height="1.02" fill="url(#gc4)" transform="matrix(1 0 0.775 1 175.67 0)"/><rect x="-62" y="8" width="130" height="1.02" fill="url(#gc4)" transform="matrix(1 0 0.762 1 175.77 0)"/><rect x="-62" y="9" width="130" height="1.02" fill="url(#gc5)" transform="matrix(1 0 0.749 1 175.89 0)"/><rect x="-62" y="10" width="130" height="1.02" fill="url(#gc5)" transform="matrix(1 0 0.736 1 176.02 0)"/><rect x="-62" y="11" width="130" height="1.02" fill="url(#gc6)" transform="matrix(1 0 0.723 1 176.16 0)"/><rect x="-62" y="12" width="130" height="1.02" fill="url(#gc6)" transform="matrix(1 0 0.710 1 176.31 0)"/><rect x="-62" y="13" width="130" height="1.02" fill="url(#gc7)" transform="matrix(1 0 0.698 1 176.48 0)"/><rect x="-62" y="14" width="130" height="1.02" fill="url(#gc7)" transform="matrix(1 0 0.686 1 176.65 0)"/><rect x="-62" y="15" width="130" height="1.02" fill="url(#gc8)" transform="matrix(1 0 0.673 1 176.83 0)"/><rect x="-62" y="16" width="130" height="1.02" fill="url(#gc8)" transform="matrix(1 0 0.661 1 177.03 0)"/><rect x="-62" y="17" width="130" height="1.02" fill="url(#gc9)" transform="matrix(1 0 0.649 1 177.23 0)"/><rect x="-62" y="18" width="130" height="1.02" fill="url(#gc9)" transform="matrix(1 0 0.637 1 177.45 0)"/><rect x="-62" y="19" width="130" height="1.02" fill="url(#gc10)" transform="matrix(1 0 0.625 1 177.67 0)"/><rect x="-62" y="20" width="130" height="1.02" fill="url(#gc10)" transform="matrix(1 0 0.614 1 177.91 0)"/><rect x="-62" y="21" width="130" height="1.02" fill="url(#gc11)" transform="matrix(1 0 0.602 1 178.15 0)"/><rect x="-62" y="22" width="130" height="1.02" fill="url(#gc11)" transform="matrix(1 0 0.590 1 178.41 0)"/><rect x="-62" y="23" width="130" height="1.02" fill="url(#gc12)" transform="matrix(1 0 0.579 1 178.67 0)"/><rect x="-62" y="24" width="130" height="1.02" fill="url(#gc12)" transform="matrix(1 0 0.568 1 178.94 0)"/><rect x="-62" y="25" width="130" height="1.02" fill="url(#gc13)" transform="matrix(1 0 0.556 1 179.22 0)"/><rect x="-62" y="26" width="130" height="1.02" fill="url(#gc13)" transform="matrix(1 0 0.545 1 179.51 0)"/><rect x="-62" y="27" width="130" height="1.02" fill="url(#gc14)" transform="matrix(1 0 0.534 1 179.81 0)"/><rect x="-62" y="28" width="130" height="1.02" fill="url(#gc14)" transform="matrix(1 0 0.523 1 180.11 0)"/><rect x="-62" y="29" width="130" height="1.02" fill="url(#gc15)" transform="matrix(1 0 0.513 1 180.43 0)"/><rect x="-62" y="30" width="130" height="1.02" fill="url(#gc15)" transform="matrix(1 0 0.502 1 180.75 0)"/><rect x="-62" y="31" width="130" height="1.02" fill="url(#gc16)" transform="matrix(1 0 0.491 1 181.08 0)"/><rect x="-62" y="32" width="130" height="1.02" fill="url(#gc16)" transform="matrix(1 0 0.480 1 181.42 0)"/><rect x="-62" y="33" width="130" height="1.02" fill="url(#gc17)" transform="matrix(1 0 0.470 1 181.77 0)"/><rect x="-62" y="34" width="130" height="1.02" fill="url(#gc17)" transform="matrix(1 0 0.460 1 182.12 0)"/><rect x="-62" y="35" width="130" height="1.02" fill="url(#gc18)" transform="matrix(1 0 0.449 1 182.49 0)"/><rect x="-62" y="36" width="130" height="1.02" fill="url(#gc18)" transform="matrix(1 0 0.439 1 182.86 0)"/><rect x="-62" y="37" width="130" height="1.02" fill="url(#gc19)" transform="matrix(1 0 0.429 1 183.23 0)"/><rect x="-62" y="38" width="130" height="1.02" fill="url(#gc19)" transform="matrix(1 0 0.418 1 183.62 0)"/><rect x="-62" y="39" width="130" height="1.02" fill="url(#gc20)" transform="matrix(1 0 0.408 1 184.01 0)"/><rect x="-62" y="40" width="130" height="1.02" fill="url(#gc20)" transform="matrix(1 0 0.398 1 184.42 0)"/><rect x="-62" y="41" width="130" height="1.02" fill="url(#gc21)" transform="matrix(1 0 0.388 1 184.82 0)"/><rect x="-62" y="42" width="130" height="1.02" fill="url(#gc21)" transform="matrix(1 0 0.378 1 185.24 0)"/><rect x="-62" y="43" width="130" height="1.02" fill="url(#gc22)" transform="matrix(1 0 0.369 1 185.66 0)"/><rect x="-62" y="44" width="130" height="1.02" fill="url(#gc22)" transform="matrix(1 0 0.359 1 186.10 0)"/><rect x="-62" y="45" width="130" height="1.02" fill="url(#gc23)" transform="matrix(1 0 0.349 1 186.53 0)"/><rect x="-62" y="46" width="130" height="1.02" fill="url(#gc23)" transform="matrix(1 0 0.339 1 186.98 0)"/><rect x="-62" y="47" width="130" height="1.02" fill="url(#gc24)" transform="matrix(1 0 0.330 1 187.43 0)"/><rect x="-62" y="48" width="130" height="1.02" fill="url(#gc24)" transform="matrix(1 0 0.320 1 187.90 0)"/><rect x="-62" y="49" width="130" height="1.02" fill="url(#gc25)" transform="matrix(1 0 0.310 1 188.36 0)"/><rect x="-62" y="50" width="130" height="1.02" fill="url(#gc25)" transform="matrix(1 0 0.301 1 188.84 0)"/><rect x="-62" y="51" width="130" height="1.02" fill="url(#gc26)" transform="matrix(1 0 0.291 1 189.33 0)"/><rect x="-62" y="52" width="130" height="1.02" fill="url(#gc26)" transform="matrix(1 0 0.282 1 189.82 0)"/><rect x="-62" y="53" width="130" height="1.02" fill="url(#gc27)" transform="matrix(1 0 0.273 1 190.32 0)"/><rect x="-62" y="54" width="130" height="1.02" fill="url(#gc27)" transform="matrix(1 0 0.263 1 190.82 0)"/><rect x="-62" y="55" width="130" height="1.02" fill="url(#gc28)" transform="matrix(1 0 0.254 1 191.34 0)"/><rect x="-62" y="56" width="130" height="1.02" fill="url(#gc28)" transform="matrix(1 0 0.245 1 191.86 0)"/><rect x="-62" y="57" width="130" height="1.02" fill="url(#gc29)" transform="matrix(1 0 0.235 1 192.39 0)"/><rect x="-62" y="58" width="130" height="1.02" fill="url(#gc29)" transform="matrix(1 0 0.226 1 192.93 0)"/><rect x="-62" y="59" width="130" height="1.02" fill="url(#gc30)" transform="matrix(1 0 0.217 1 193.48 0)"/><rect x="-62" y="60" width="130" height="1.02" fill="url(#gc30)" transform="matrix(1 0 0.207 1 194.03 0)"/><rect x="-62" y="61" width="130" height="1.02" fill="url(#gc31)" transform="matrix(1 0 0.198 1 194.60 0)"/><rect x="-62" y="62" width="130" height="1.02" fill="url(#gc31)" transform="matrix(1 0 0.189 1 195.17 0)"/><rect x="-62" y="63" width="130" height="1.02" fill="url(#gc32)" transform="matrix(1 0 0.180 1 195.75 0)"/><rect x="-62" y="64" width="130" height="1.02" fill="url(#gc32)" transform="matrix(1 0 0.171 1 196.34 0)"/><rect x="-62" y="65" width="130" height="1.02" fill="url(#gc33)" transform="matrix(1 0 0.161 1 196.93 0)"/><rect x="-62" y="66" width="130" height="1.02" fill="url(#gc33)" transform="matrix(1 0 0.152 1 197.54 0)"/><rect x="-62" y="67" width="130" height="1.02" fill="url(#gc34)" transform="matrix(1 0 0.143 1 198.16 0)"/><rect x="-62" y="68" width="130" height="1.02" fill="url(#gc34)" transform="matrix(1 0 0.134 1 198.78 0)"/><rect x="-62" y="69" width="130" height="1.02" fill="url(#gc35)" transform="matrix(1 0 0.125 1 199.42 0)"/><rect x="-62" y="70" width="130" height="1.02" fill="url(#gc35)" transform="matrix(1 0 0.115 1 200.06 0)"/><rect x="-62" y="71" width="130" height="1.02" fill="url(#gc36)" transform="matrix(1 0 0.106 1 200.72 0)"/><rect x="-62" y="72" width="130" height="1.02" fill="url(#gc36)" transform="matrix(1 0 0.097 1 201.38 0)"/><rect x="-62" y="73" width="130" height="1.02" fill="url(#gc37)" transform="matrix(1 0 0.088 1 202.05 0)"/><rect x="-62" y="74" width="130" height="1.02" fill="url(#gc37)" transform="matrix(1 0 0.078 1 202.74 0)"/><rect x="-62" y="75" width="130" height="1.02" fill="url(#gc38)" transform="matrix(1 0 0.069 1 203.43 0)"/><rect x="-62" y="76" width="130" height="1.02" fill="url(#gc38)" transform="matrix(1 0 0.060 1 204.14 0)"/><rect x="-62" y="77" width="130" height="1.02" fill="url(#gc39)" transform="matrix(1 0 0.051 1 204.85 0)"/><rect x="-62" y="78" width="130" height="1.02" fill="url(#gc39)" transform="matrix(1 0 0.041 1 205.58 0)"/><rect x="-62" y="79" width="130" height="1.02" fill="url(#gc40)" transform="matrix(1 0 0.032 1 206.32 0)"/><rect x="-62" y="80" width="130" height="1.02" fill="url(#gc40)" transform="matrix(1 0 0.023 1 207.07 0)"/><rect x="-62" y="81" width="130" height="1.02" fill="url(#gc41)" transform="matrix(1 0 0.013 1 207.83 0)"/><rect x="-62" y="82" width="130" height="1.02" fill="url(#gc41)" transform="matrix(1 0 0.004 1 208.61 0)"/><rect x="-62" y="83" width="130" height="1.02" fill="url(#gc42)" transform="matrix(1 0 -0.006 1 209.40 0)"/><rect x="-62" y="84" width="130" height="1.02" fill="url(#gc42)" transform="matrix(1 0 -0.015 1 210.20 0)"/><rect x="-62" y="85" width="130" height="1.02" fill="url(#gc43)" transform="matrix(1 0 -0.025 1 211.01 0)"/><rect x="-62" y="86" width="130" height="1.02" fill="url(#gc43)" transform="matrix(1 0 -0.035 1 211.83 0)"/><rect x="-62" y="87" width="130" height="1.02" fill="url(#gc44)" transform="matrix(1 0 -0.044 1 212.67 0)"/><rect x="-62" y="88" width="130" height="1.02" fill="url(#gc44)" transform="matrix(1 0 -0.054 1 213.53 0)"/><rect x="-62" y="89" width="130" height="1.02" fill="url(#gc45)" transform="matrix(1 0 -0.064 1 214.39 0)"/><rect x="-62" y="90" width="130" height="1.02" fill="url(#gc45)" transform="matrix(1 0 -0.073 1 215.27 0)"/><rect x="-62" y="91" width="130" height="1.02" fill="url(#gc46)" transform="matrix(1 0 -0.083 1 216.17 0)"/><rect x="-62" y="92" width="130" height="1.02" fill="url(#gc46)" transform="matrix(1 0 -0.093 1 217.08 0)"/><rect x="-62" y="93" width="130" height="1.02" fill="url(#gc47)" transform="matrix(1 0 -0.103 1 218.01 0)"/><rect x="-62" y="94" width="130" height="1.02" fill="url(#gc47)" transform="matrix(1 0 -0.113 1 218.95 0)"/><rect x="-62" y="95" width="130" height="1.02" fill="url(#gc48)" transform="matrix(1 0 -0.123 1 219.91 0)"/><rect x="-62" y="96" width="130" height="1.02" fill="url(#gc48)" transform="matrix(1 0 -0.133 1 220.88 0)"/><rect x="-62" y="97" width="130" height="1.02" fill="url(#gc49)" transform="matrix(1 0 -0.144 1 221.87 0)"/><rect x="-62" y="98" width="130" height="1.02" fill="url(#gc49)" transform="matrix(1 0 -0.154 1 222.88 0)"/><rect x="-62" y="99" width="130" height="1.02" fill="url(#gc50)" transform="matrix(1 0 -0.164 1 223.91 0)"/><rect x="-62" y="100" width="130" height="1.02" fill="url(#gc50)" transform="matrix(1 0 -0.175 1 224.95 0)"/><rect x="-62" y="101" width="130" height="1.02" fill="url(#gc51)" transform="matrix(1 0 -0.185 1 226.01 0)"/><rect x="-62" y="102" width="130" height="1.02" fill="url(#gc51)" transform="matrix(1 0 -0.196 1 227.09 0)"/><rect x="-62" y="103" width="130" height="1.02" fill="url(#gc52)" transform="matrix(1 0 -0.206 1 228.19 0)"/><rect x="-62" y="104" width="130" height="1.02" fill="url(#gc52)" transform="matrix(1 0 -0.217 1 229.31 0)"/><rect x="-62" y="105" width="130" height="1.02" fill="url(#gc53)" transform="matrix(1 0 -0.228 1 230.44 0)"/><rect x="-62" y="106" width="130" height="1.02" fill="url(#gc53)" transform="matrix(1 0 -0.239 1 231.60 0)"/><rect x="-62" y="107" width="130" height="1.02" fill="url(#gc54)" transform="matrix(1 0 -0.250 1 232.78 0)"/><rect x="-62" y="108" width="130" height="1.02" fill="url(#gc54)" transform="matrix(1 0 -0.261 1 233.98 0)"/><rect x="-62" y="109" width="130" height="1.02" fill="url(#gc55)" transform="matrix(1 0 -0.272 1 235.20 0)"/><rect x="-62" y="110" width="130" height="1.02" fill="url(#gc55)" transform="matrix(1 0 -0.283 1 236.44 0)"/><rect x="-62" y="111" width="130" height="1.02" fill="url(#gc56)" transform="matrix(1 0 -0.295 1 237.71 0)"/><rect x="-62" y="112" width="130" height="1.02" fill="url(#gc56)" transform="matrix(1 0 -0.306 1 238.99 0)"/><rect x="-62" y="113" width="130" height="1.02" fill="url(#gc57)" transform="matrix(1 0 -0.318 1 240.30 0)"/><rect x="-62" y="114" width="130" height="1.02" fill="url(#gc57)" transform="matrix(1 0 -0.330 1 241.64 0)"/><rect x="-62" y="115" width="130" height="1.02" fill="url(#gc58)" transform="matrix(1 0 -0.341 1 243.00 0)"/><rect x="-62" y="116" width="130" height="1.02" fill="url(#gc58)" transform="matrix(1 0 -0.353 1 244.38 0)"/><rect x="-62" y="117" width="130" height="1.02" fill="url(#gc59)" transform="matrix(1 0 -0.365 1 245.79 0)"/><rect x="-62" y="118" width="130" height="1.02" fill="url(#gc59)" transform="matrix(1 0 -0.378 1 247.22 0)"/><rect x="-62" y="119" width="130" height="1.02" fill="url(#gc60)" transform="matrix(1 0 -0.390 1 248.68 0)"/><rect x="-62" y="120" width="130" height="1.02" fill="url(#gc60)" transform="matrix(1 0 -0.402 1 250.17 0)"/><rect x="-62" y="121" width="130" height="1.02" fill="url(#gc61)" transform="matrix(1 0 -0.415 1 251.68 0)"/><rect x="-62" y="122" width="130" height="1.02" fill="url(#gc61)" transform="matrix(1 0 -0.427 1 253.22 0)"/><rect x="-62" y="123" width="130" height="1.02" fill="url(#gc62)" transform="matrix(1 0 -0.440 1 254.79 0)"/><rect x="-62" y="124" width="130" height="1.02" fill="url(#gc62)" transform="matrix(1 0 -0.453 1 256.39 0)"/><rect x="-62" y="125" width="130" height="1.02" fill="url(#gc63)" transform="matrix(1 0 -0.466 1 258.02 0)"/><rect x="-62" y="126" width="130" height="1.02" fill="url(#gc63)" transform="matrix(1 0 -0.479 1 259.68 0)"/><rect x="-62" y="127" width="130" height="1.02" fill="url(#gc64)" transform="matrix(1 0 -0.493 1 261.37 0)"/><rect x="-62" y="128" width="130" height="1.02" fill="url(#gc64)" transform="matrix(1 0 -0.506 1 263.08 0)"/><rect x="-62" y="129" width="130" height="1.02" fill="url(#gc65)" transform="matrix(1 0 -0.520 1 264.83 0)"/><rect x="-62" y="130" width="130" height="1.02" fill="url(#gc65)" transform="matrix(1 0 -0.533 1 266.62 0)"/><rect x="-62" y="131" width="130" height="1.02" fill="url(#gc66)" transform="matrix(1 0 -0.547 1 268.43 0)"/><rect x="-62" y="132" width="130" height="1.02" fill="url(#gc66)" transform="matrix(1 0 -0.561 1 270.28 0)"/><rect x="-62" y="133" width="130" height="1.02" fill="url(#gc67)" transform="matrix(1 0 -0.575 1 272.16 0)"/><rect x="-62" y="134" width="130" height="1.02" fill="url(#gc67)" transform="matrix(1 0 -0.590 1 274.08 0)"/><rect x="-62" y="135" width="130" height="1.02" fill="url(#gc68)" transform="matrix(1 0 -0.604 1 276.03 0)"/><rect x="-62" y="136" width="130" height="1.02" fill="url(#gc68)" transform="matrix(1 0 -0.619 1 278.02 0)"/><rect x="-62" y="137" width="130" height="1.02" fill="url(#gc69)" transform="matrix(1 0 -0.633 1 280.04 0)"/><rect x="-62" y="138" width="130" height="1.02" fill="url(#gc69)" transform="matrix(1 0 -0.648 1 282.10 0)"/><rect x="-62" y="139" width="130" height="1.02" fill="url(#gc70)" transform="matrix(1 0 -0.663 1 284.20 0)"/><rect x="-62" y="140" width="130" height="1.02" fill="url(#gc70)" transform="matrix(1 0 -0.679 1 286.34 0)"/><rect x="-62" y="141" width="130" height="1.02" fill="url(#gc71)" transform="matrix(1 0 -0.694 1 288.51 0)"/><rect x="-62" y="142" width="130" height="1.02" fill="url(#gc71)" transform="matrix(1 0 -0.710 1 290.73 0)"/><rect x="-62" y="143" width="130" height="1.02" fill="url(#gc72)" transform="matrix(1 0 -0.725 1 292.98 0)"/><rect x="-62" y="144" width="130" height="1.02" fill="url(#gc72)" transform="matrix(1 0 -0.741 1 295.28 0)"/><rect x="-62" y="145" width="130" height="1.02" fill="url(#gc73)" transform="matrix(1 0 -0.758 1 297.62 0)"/><rect x="-62" y="146" width="130" height="1.02" fill="url(#gc73)" transform="matrix(1 0 -0.774 1 300.00 0)"/><rect x="-62" y="147" width="130" height="1.02" fill="url(#gc74)" transform="matrix(1 0 -0.790 1 302.42 0)"/><rect x="-62" y="148" width="130" height="1.02" fill="url(#gc74)" transform="matrix(1 0 -0.807 1 304.89 0)"/><rect x="-62" y="149" width="130" height="1.02" fill="url(#gc75)" transform="matrix(1 0 -0.824 1 307.40 0)"/><rect x="-62" y="150" width="130" height="1.02" fill="url(#gc75)" transform="matrix(1 0 -0.841 1 309.95 0)"/><rect x="-62" y="151" width="130" height="1.02" fill="url(#gc76)" transform="matrix(1 0 -0.858 1 312.56 0)"/><rect x="-62" y="152" width="130" height="1.02" fill="url(#gc76)" transform="matrix(1 0 -0.876 1 315.20 0)"/><rect x="-62" y="153" width="130" height="1.02" fill="url(#gc77)" transform="matrix(1 0 -0.893 1 317.90 0)"/><rect x="-62" y="154" width="130" height="1.02" fill="url(#gc77)" transform="matrix(1 0 -0.911 1 320.64 0)"/><rect x="-62" y="155" width="130" height="1.02" fill="url(#gc78)" transform="matrix(1 0 -0.929 1 323.44 0)"/><rect x="-62" y="156" width="130" height="1.02" fill="url(#gc78)" transform="matrix(1 0 -0.947 1 326.28 0)"/><rect x="-62" y="157" width="130" height="1.02" fill="url(#gc79)" transform="matrix(1 0 -0.966 1 329.17 0)"/><rect x="-62" y="158" width="130" height="1.02" fill="url(#gc79)" transform="matrix(1 0 -0.984 1 332.11 0)"/><rect x="-62" y="159" width="130" height="1.02" fill="url(#gc80)" transform="matrix(1 0 -1.003 1 335.11 0)"/><rect x="-62" y="160" width="130" height="1.02" fill="url(#gc80)" transform="matrix(1 0 -1.022 1 338.15 0)"/><rect x="-62" y="161" width="130" height="1.02" fill="url(#gc81)" transform="matrix(1 0 -1.041 1 341.26 0)"/></g><rect x="171.1" y="0" width="3" height="161.5" fill="url(#ledge)"/><ellipse cx="205.5" cy="53.2" rx="2.4" ry="3.4" fill="url(#by)"/><ellipse cx="207.5" cy="62.3" rx="2.9" ry="3.9" fill="url(#bo)"/><ellipse cx="209.1" cy="71.6" rx="3.3" ry="5.2" fill="url(#br)"/><ellipse cx="209.1" cy="89.5" rx="3.3" ry="5.4" fill="url(#br)"/><ellipse cx="207.7" cy="98.3" rx="2.9" ry="4.0" fill="url(#bo)"/><ellipse cx="205.8" cy="107.4" rx="2.4" ry="3.6" fill="url(#by)"/><rect x="171" y="76.2" width="60" height="8.0" fill="#000"/><g fill="#e8e8e8" filter="url(#tb)"><text x="226.9" y="10.7" font-size="10.7" font-weight="bold" text-anchor="end">(c)</text><text x="226.1" y="22.6" font-size="9.4" text-anchor="end" stroke="#e8e8e8" stroke-width="0.2">50 m/s</text><line x1="205.4" y1="27.6" x2="222.8" y2="27.6" stroke="#e8e8e8" stroke-width="0.95"/><path d="M203.9 27.6 l2.8 -1.6 v3.2z M224.3 27.6 l-2.8 -1.6 v3.2z"/><text x="186.6" y="158.3" font-size="9">-z</text><text x="221.2" y="158.3" font-size="9">z</text><path d="M189.2 153.6 l1.4 -1.3 l1.4 1.3 M221.6 153.6 l1.4 -1.3 l1.4 1.3" stroke="#e8e8e8" stroke-width="0.7" fill="none"/><line x1="197.8" y1="155.7" x2="218.0" y2="155.7" stroke="#e8e8e8" stroke-width="0.8"/><path d="M196.3 155.7 l2.4 -1.3 v2.6z M219.5 155.7 l-2.4 -1.3 v2.6z"/><circle cx="207.9" cy="155.7" r="0.8"/></g></g><rect x="243" y="61.5" width="104" height="13.5" fill="#f0f0f0"/><ellipse cx="294.8" cy="67.9" rx="51.4" ry="5.6" fill="url(#based)"/><path d="M243.6 66.8 Q245 71.6 262 73.4 M330 72.8 Q344 71.6 346.2 67.4" fill="none" stroke="#222" stroke-width="1.4" opacity="0.8"/><polygon points="256.5,73.8 262.0,71.8 266.0,70.0 270.0,67.4 273.0,64.6 275.5,61.5 277.0,59.3 277.7,57.5 278.5,53.8 279.3,57.4 280.6,56.8 281.5,52.0 282.5,46.8 283.4,53.0 284.3,55.2 285.1,46.0 285.7,38.0 286.4,32.0 287.0,38.0 287.5,46.0 288.1,55.0 288.8,50.0 289.3,30.0 289.9,12.0 290.4,5.0 290.7,3.0 291.0,5.0 291.6,12.0 292.6,22.0 293.5,40.0 293.6,74.6 280.0,74.6 268.0,74.3" fill="url(#jd)"/><polygon points="296.9,74.6 296.9,40.0 297.8,22.0 298.9,12.0 299.4,5.0 299.7,3.0 300.0,5.0 300.6,12.0 301.1,30.0 301.6,50.0 302.3,55.0 302.9,46.0 303.4,38.0 304.0,31.5 304.7,38.0 305.3,46.0 306.1,54.5 307.0,53.0 307.9,46.5 308.8,53.5 309.8,56.3 310.7,56.0 311.5,53.6 312.3,57.3 313.5,58.3 314.7,59.0 315.6,60.8 317.5,62.6 323.3,67.9 331.2,71.8 337.5,73.3 330.0,74.3 315.0,74.6" fill="url(#jd)"/><ellipse cx="294.8" cy="154.5" rx="52" ry="5.6" fill="#fff" stroke="#b0b0b0" stroke-width="0.7"/><path d="M243.2 154.3 Q245 158.8 262 160 M328 159.6 Q344 158.8 346.6 154.6" fill="none" stroke="#555" stroke-width="1" opacity="0.85"/><polygon points="258.5,159.8 264.0,158.2 268.0,156.6 271.0,154.4 274.0,151.2 276.3,148.0 277.3,146.5 278.0,145.0 278.8,147.0 280.0,146.5 281.2,142.0 282.1,137.5 283.0,143.0 283.8,143.5 284.6,136.5 285.2,125.0 285.7,118.0 286.2,125.0 286.8,136.5 287.5,140.0 288.3,137.0 289.0,128.0 289.7,100.0 290.1,92.0 290.3,90.4 290.6,92.0 291.4,100.0 292.8,120.0 293.3,135.0 293.3,160.6 275.0,160.4" fill="url(#je)"/><polygon points="296.6,160.6 296.6,135.0 297.2,120.0 298.6,100.0 299.3,92.0 299.6,90.4 299.9,92.0 300.4,100.0 301.2,128.0 301.7,137.0 302.5,140.0 303.2,136.5 303.6,125.0 303.9,118.0 304.3,125.0 304.9,136.5 305.7,143.5 306.6,143.0 307.5,137.5 308.3,142.0 309.5,146.5 310.7,145.2 311.5,147.2 313.0,148.2 314.0,148.6 316.5,151.2 320.2,154.2 326.4,157.1 335.9,158.6 330.0,159.8 315.0,160.6" fill="url(#je)"/><g filter="url(#tb)"><text x="350" y="10.4" font-size="13" font-weight="bold" fill="#111" text-anchor="end">(d)</text><text x="348.6" y="98.6" font-size="13" font-weight="bold" fill="#111" text-anchor="end">(e)</text></g><path d="M45.4 181.1 V348.4 H334.7 V181.1 Z" fill="none" stroke="#555" stroke-width="1.1"/><line x1="41.9" y1="264.8" x2="45.4" y2="264.8" stroke="#555" stroke-width="1.1"/><line x1="41.9" y1="348.4" x2="45.4" y2="348.4" stroke="#555" stroke-width="1.1"/><line x1="41.9" y1="181.1" x2="45.4" y2="181.1" stroke="#555" stroke-width="1.1"/><line x1="45.4" y1="348.4" x2="45.4" y2="351.0" stroke="#555" stroke-width="1.1"/><line x1="117.7" y1="348.4" x2="117.7" y2="351.0" stroke="#555" stroke-width="1.1"/><line x1="190.1" y1="348.4" x2="190.1" y2="351.0" stroke="#555" stroke-width="1.1"/><line x1="262.4" y1="348.4" x2="262.4" y2="351.0" stroke="#555" stroke-width="1.1"/><line x1="334.7" y1="348.4" x2="334.7" y2="351.0" stroke="#555" stroke-width="1.1"/><g font-size="9" fill="#0a0a0a" stroke="#0a0a0a" stroke-width="0.12" filter="url(#tb)"><text x="31.6" y="183.6">1</text><text x="26.6" y="267.9">0.5</text><text x="30.6" y="350.9">0</text><text x="45.4" y="362.8" text-anchor="middle">0</text><text x="117.7" y="362.8" text-anchor="middle">45</text><text x="190.1" y="362.8" text-anchor="middle">90</text><text x="262.4" y="362.8" text-anchor="middle">135</text><text x="334.7" y="362.8" text-anchor="middle">180</text><text x="171" y="375.8"><tspan font-style="italic">θ</tspan> (degrees)</text><text transform="translate(16.6 266.3) rotate(-90)" text-anchor="middle" font-size="9.4">Intensity (a.u.)</text><text x="255" y="213.7">Experiment</text><text x="255" y="226.4">Apparatus function</text><text x="255" y="239.3">Experimental DCS</text></g><text x="328.3" y="196.4" font-size="13.8" font-weight="bold" fill="#111" text-anchor="end" filter="url(#tb)">(f)</text><line x1="227.7" y1="209.3" x2="248.8" y2="209.3" stroke="#e02828" stroke-width="1.1" stroke-dasharray="0.9 0.8"/><line x1="228.6" y1="222.1" x2="248" y2="222.1" stroke="#1a1a1a" stroke-width="1.1" stroke-dasharray="3 2.3"/><line x1="228.6" y1="235.4" x2="248" y2="235.4" stroke="#34409a" stroke-width="1.05"/><path d="M49.1 262.0C49.3 257.7 50.0 245.3 50.5 236.0C51.0 226.7 51.5 215.0 52.0 206.0C52.5 197.0 53.0 182.0 53.5 182.0C54.0 182.0 54.5 194.3 55.0 206.0C55.5 217.7 56.1 237.8 56.5 252.0C56.9 266.2 57.3 282.2 57.6 291.0C57.9 299.8 58.2 304.2 58.5 305.0C58.8 305.8 59.2 301.8 59.6 296.0C60.0 290.2 60.4 276.5 60.8 270.0C61.2 263.5 61.6 256.0 62.1 257.0C62.6 258.0 63.0 268.5 63.5 276.0C64.0 283.5 64.8 296.9 65.2 302.0C65.6 307.1 65.7 306.0 66.0 306.5C66.3 307.0 66.5 307.4 67.0 305.0C67.5 302.6 68.1 295.0 68.7 292.0C69.3 289.0 69.9 286.2 70.4 287.2C71.0 288.2 71.5 294.4 72.0 298.0C72.5 301.6 72.8 308.0 73.3 308.8C73.8 309.6 74.5 304.4 75.2 303.0C75.9 301.6 76.9 299.5 77.4 300.2C77.9 300.9 77.9 304.2 78.4 307.1C78.9 310.0 79.7 315.8 80.2 317.3C80.7 318.8 80.9 316.6 81.4 316.1C81.9 315.6 82.5 314.0 83.1 314.3C83.7 314.6 84.2 316.7 84.9 317.9C85.6 319.1 86.6 320.4 87.3 321.4C88.0 322.4 88.4 322.9 89.1 323.8C89.8 324.7 90.9 326.5 91.5 326.8C92.1 327.1 92.1 325.4 92.7 325.6C93.3 325.8 94.1 327.2 95.0 328.0C95.9 328.8 97.0 329.6 98.0 330.4C99.0 331.2 99.9 331.9 101.0 332.7C102.1 333.5 103.4 334.4 104.6 335.1C105.8 335.8 107.0 336.3 108.1 336.9C109.2 337.5 109.9 338.1 111.1 338.7C112.2 339.3 113.5 339.9 115.0 340.6C116.5 341.3 118.4 342.1 120.1 342.7C121.8 343.3 123.3 344.0 125.3 344.5C127.3 345.0 129.6 345.4 132.2 345.7C134.8 346.0 137.8 346.3 140.7 346.5C143.5 346.7 146.1 346.8 149.3 346.9C152.5 347.0 151.6 347.2 160.0 347.3C168.4 347.4 171.5 347.5 200.0 347.6C228.5 347.7 309.2 347.7 331.0 347.7" fill="none" stroke="#d42a2a" stroke-width="1.2" stroke-dasharray="1 0.7"/><path d="M49.3 192.3C49.6 193.0 49.8 193.5 50.4 195.1C51.0 196.7 50.9 198.6 51.6 198.3C52.3 198.0 51.9 197.0 53.0 194.0C54.1 191.0 54.7 189.8 55.8 187.1C56.9 184.4 56.4 185.2 57.2 184.0C58.0 182.8 57.9 182.5 58.7 182.6C59.5 182.7 59.4 182.7 60.3 184.5C61.2 186.3 61.1 186.6 61.9 189.5C62.7 192.4 62.6 192.5 63.2 195.5C63.8 198.5 63.6 196.3 64.3 200.6C65.0 204.9 65.0 205.8 65.8 211.7C66.6 217.6 66.5 216.5 67.4 222.9C68.3 229.3 68.2 229.7 69.0 235.6C69.8 241.5 69.5 240.1 70.5 245.0C71.5 249.9 71.4 248.9 72.6 254.0C73.8 259.1 73.6 258.8 75.0 264.0C76.4 269.2 76.1 268.7 78.0 273.5C79.9 278.3 79.8 277.9 82.0 282.0C84.2 286.1 83.4 284.5 86.3 289.0C89.2 293.5 88.9 293.5 92.7 299.0C96.5 304.5 96.1 305.1 100.6 309.5C105.1 313.9 105.6 312.6 109.4 315.5C113.2 318.4 110.8 317.9 115.0 320.4C119.2 322.9 119.8 322.9 125.3 324.7C130.8 326.5 130.1 325.9 135.6 327.3C141.1 328.7 140.4 328.8 145.9 329.9C151.4 331.0 150.7 330.9 156.2 331.6C161.7 332.3 161.5 331.8 166.5 332.4C171.5 333.0 168.7 333.0 175.0 334.0C181.3 335.0 180.7 334.9 190.0 336.0C199.3 337.1 199.3 336.9 210.0 338.3C220.7 339.7 222.0 340.1 230.0 341.3C238.0 342.5 234.7 342.1 240.0 342.9C245.3 343.7 243.3 343.7 250.0 344.2C256.7 344.7 257.0 344.6 265.0 344.7C273.0 344.8 270.7 344.7 280.0 344.7C289.3 344.7 292.0 344.9 300.0 344.7C308.0 344.5 305.7 344.5 310.0 344.0C314.3 343.5 312.8 343.6 316.0 342.7C319.2 341.8 319.3 341.4 322.0 340.6C324.7 339.8 323.6 340.0 326.0 339.6C328.4 339.2 329.7 339.2 331.0 339.1" fill="none" stroke="#1a1a1a" stroke-width="1.1" stroke-dasharray="2.6 1.9"/><path d="M49.1 261.8C49.3 257.3 50.0 244.5 50.5 235.0C51.0 225.5 51.5 213.9 52.0 205.0C52.5 196.1 53.0 181.3 53.5 181.3C54.0 181.3 54.5 193.6 55.0 205.0C55.5 216.4 56.1 235.8 56.5 250.0C56.9 264.2 57.3 280.8 57.6 290.0C57.9 299.2 58.1 304.5 58.4 305.5C58.7 306.5 59.1 302.2 59.5 296.0C59.9 289.8 60.4 275.2 60.8 268.0C61.2 260.8 61.6 253.0 62.1 253.0C62.6 253.0 63.1 261.5 63.5 268.0C63.9 274.5 64.3 286.5 64.7 292.0C65.1 297.5 65.3 300.8 65.7 301.0C66.1 301.2 66.5 298.5 67.0 293.0C67.5 287.5 68.0 274.3 68.6 268.0C69.2 261.7 70.1 255.6 70.7 255.3C71.3 255.0 71.7 262.1 72.2 266.0C72.7 269.9 73.0 277.9 73.5 278.6C74.0 279.3 74.5 273.4 75.0 270.0C75.5 266.6 75.9 261.0 76.3 258.0C76.7 255.0 77.1 250.9 77.6 251.9C78.1 252.9 78.6 259.6 79.2 264.0C79.8 268.4 80.5 276.7 81.0 278.0C81.5 279.3 81.8 274.3 82.3 272.0C82.8 269.7 83.5 265.0 84.0 264.3C84.5 263.6 85.0 266.7 85.5 268.0C86.0 269.3 86.3 271.3 86.7 272.3C87.1 273.3 87.6 273.8 87.9 273.9C88.2 274.0 88.4 272.5 88.7 273.1C89.0 273.8 89.1 276.6 89.5 277.8C89.9 279.0 90.6 280.7 91.1 280.2C91.6 279.7 92.0 276.3 92.5 275.0C93.0 273.7 93.2 271.7 93.8 272.3C94.4 272.9 95.3 277.4 95.9 278.6C96.5 279.8 97.0 279.5 97.5 279.4C98.0 279.3 98.5 277.5 99.0 277.8C99.5 278.1 100.1 279.1 100.6 281.0C101.1 282.9 101.7 287.4 102.2 289.0C102.7 290.6 103.3 290.0 103.8 290.5C104.3 291.0 104.7 290.5 105.4 292.1C106.1 293.7 107.1 297.6 107.8 300.0C108.5 302.4 108.9 306.1 109.4 306.4C109.9 306.7 110.5 301.6 111.0 301.7C111.5 301.8 112.0 305.9 112.5 307.2C113.0 308.5 113.6 309.5 114.1 309.6C114.6 309.7 115.2 307.9 115.7 308.0C116.2 308.1 116.8 309.3 117.3 310.5C117.8 311.7 117.9 313.9 118.4 315.3C118.9 316.7 119.4 317.7 120.1 318.7C120.8 319.7 122.0 320.6 122.7 321.3C123.4 322.0 123.8 321.7 124.4 323.0C125.0 324.3 125.4 328.1 126.1 329.0C126.8 329.9 128.0 328.5 128.7 328.2C129.4 327.9 129.7 326.6 130.4 327.3C131.1 328.0 132.1 331.2 133.0 332.4C133.9 333.5 134.6 333.6 135.6 334.2C136.6 334.8 137.9 335.5 139.0 335.9C140.1 336.3 141.4 336.4 142.4 336.7C143.4 337.0 144.3 337.2 145.0 337.6C145.7 338.0 146.0 338.7 146.7 339.3C147.4 339.9 148.3 340.6 149.3 341.0C150.3 341.4 151.5 342.0 152.7 341.9C153.8 341.8 155.2 340.2 156.2 340.2C157.2 340.2 157.8 341.9 158.7 341.9C159.5 341.9 160.3 340.1 161.3 340.2C162.3 340.3 163.5 342.4 164.7 342.7C165.8 343.0 167.0 341.9 168.2 341.9C169.3 341.9 170.5 342.4 171.6 342.7C172.7 342.9 173.8 343.4 175.0 343.4C176.2 343.4 177.7 342.6 179.0 342.5C180.3 342.4 181.7 343.2 183.0 343.0C184.3 342.8 185.8 341.2 187.1 341.3C188.4 341.4 189.7 343.2 191.0 343.5C192.3 343.8 193.5 343.1 195.0 343.2C196.5 343.3 198.3 344.2 200.0 344.3C201.7 344.4 203.3 343.6 205.0 343.6C206.7 343.6 208.3 344.5 210.0 344.5C211.7 344.5 213.3 343.7 215.0 343.8C216.7 343.9 218.3 344.9 220.0 345.0C221.7 345.1 223.3 344.2 225.0 344.2C226.7 344.2 228.3 345.0 230.0 345.0C231.7 345.0 233.3 344.0 235.0 344.0C236.7 344.0 238.3 345.2 240.0 345.2C241.7 345.2 243.3 344.4 245.0 344.2C246.7 344.0 248.5 343.9 250.0 344.0C251.5 344.1 252.7 345.1 254.0 345.0C255.3 344.9 256.7 343.6 258.0 343.6C259.3 343.6 260.7 344.8 262.0 344.8C263.3 344.8 264.7 343.8 266.0 343.8C267.3 343.8 268.7 344.7 270.0 344.7C271.3 344.7 272.7 343.7 274.0 343.6C275.3 343.6 276.7 344.4 278.0 344.4C279.3 344.4 280.7 343.4 282.0 343.4C283.3 343.4 284.7 344.2 286.0 344.2C287.3 344.2 288.8 343.3 290.0 343.2C291.2 343.1 292.0 343.9 293.0 343.6C294.0 343.3 294.8 342.1 296.0 341.5C297.2 340.9 298.8 340.2 300.0 339.8C301.2 339.4 302.2 338.6 303.0 339.1C303.8 339.6 304.2 342.5 305.0 342.7C305.8 342.9 306.8 339.9 308.0 340.3C309.2 340.8 310.7 344.9 312.0 345.4C313.3 345.9 314.7 343.6 316.0 343.2C317.3 342.8 318.7 343.1 320.0 342.7C321.3 342.3 322.7 341.0 324.0 340.8C325.3 340.6 326.8 341.2 328.0 341.5C329.2 341.8 330.5 342.2 331.0 342.3" fill="none" stroke="#34409a" stroke-width="1.05" stroke-linejoin="round"/></svg></body></html>
